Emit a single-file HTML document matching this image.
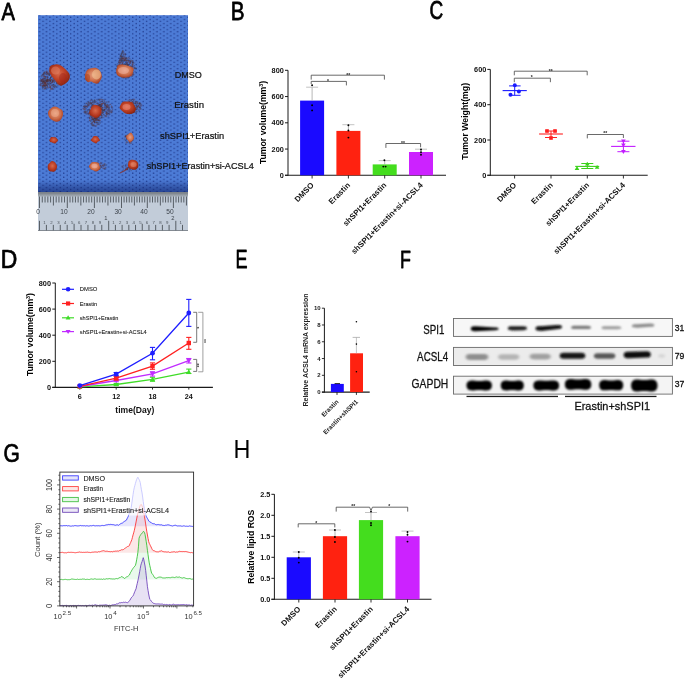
<!DOCTYPE html><html><head><meta charset="utf-8"><style>html,body{margin:0;padding:0;background:#fff;width:685px;height:680px;overflow:hidden}svg{display:block;font-family:"Liberation Sans",sans-serif;will-change:transform}text{font-family:"Liberation Sans",sans-serif}</style></head><body><svg width="685" height="680" viewBox="0 0 685 680" font-family="Liberation Sans, sans-serif"><defs><pattern id="mesh" x="0" y="0" width="6.9" height="4.1" patternUnits="userSpaceOnUse"><circle cx="1.7" cy="1.0" r="0.7" fill="#1c3488" fill-opacity="0.9"/><circle cx="5.15" cy="3.05" r="0.7" fill="#1c3488" fill-opacity="0.9"/></pattern><linearGradient id="photoShade" x1="0" y1="0" x2="0" y2="1"><stop offset="0" stop-color="#0a1a60" stop-opacity="0"/><stop offset="0.93" stop-color="#0a1a60" stop-opacity="0"/><stop offset="0.97" stop-color="#0a1a60" stop-opacity="0.35"/><stop offset="1" stop-color="#0a1a60" stop-opacity="0.55"/></linearGradient><radialGradient id="tumA" cx="0.45" cy="0.42" r="0.6"><stop offset="0" stop-color="#d86a4c"/><stop offset="0.55" stop-color="#bc3e22"/><stop offset="1" stop-color="#8a2412"/></radialGradient><radialGradient id="tumB" cx="0.5" cy="0.45" r="0.6"><stop offset="0" stop-color="#e8a282"/><stop offset="0.6" stop-color="#cc6c48"/><stop offset="1" stop-color="#a0361c"/></radialGradient><radialGradient id="tumC" cx="0.5" cy="0.45" r="0.6"><stop offset="0" stop-color="#d86a4c"/><stop offset="0.6" stop-color="#b83a22"/><stop offset="1" stop-color="#8a2412"/></radialGradient><radialGradient id="smudge" cx="0.5" cy="0.5" r="0.5"><stop offset="0" stop-color="#3e3242" stop-opacity="0.75"/><stop offset="0.6" stop-color="#3e3242" stop-opacity="0.45"/><stop offset="1" stop-color="#3e3242" stop-opacity="0"/></radialGradient><filter id="blur06"><feGaussianBlur stdDeviation="0.6"/></filter><linearGradient id="rulerTop" x1="0" y1="0" x2="0" y2="1"><stop offset="0" stop-color="#6f757c"/><stop offset="0.5" stop-color="#8d949c"/><stop offset="1" stop-color="#a9b1bb"/></linearGradient><filter id="bblur" x="-20%" y="-80%" width="140%" height="260%"><feGaussianBlur stdDeviation="1.1 0.8"/></filter><filter id="bblur2" x="-20%" y="-80%" width="140%" height="260%"><feGaussianBlur stdDeviation="1.6 1.2"/></filter></defs><text transform="translate(1.57,19.82) scale(0.8124,1)" font-size="24.71" font-weight="400" fill="#000" stroke="#000" stroke-width="0.75" stroke-linejoin="round">A</text>
<text transform="translate(230.72,19.73) scale(0.8167,1)" font-size="25.29" font-weight="400" fill="#000" stroke="#000" stroke-width="0.75" stroke-linejoin="round">B</text>
<text transform="translate(429.43,19.23) scale(0.7442,1)" font-size="25.50" font-weight="400" fill="#000" stroke="#000" stroke-width="0.75" stroke-linejoin="round">C</text>
<text transform="translate(0.64,267.62) scale(0.9176,1)" font-size="25.00" font-weight="400" fill="#000" stroke="#000" stroke-width="0.75" stroke-linejoin="round">D</text>
<text transform="translate(235.43,267.82) scale(0.7026,1)" font-size="25.72" font-weight="400" fill="#000" stroke="#000" stroke-width="0.75" stroke-linejoin="round">E</text>
<text transform="translate(399.95,267.52) scale(0.7356,1)" font-size="24.28" font-weight="400" fill="#000" stroke="#000" stroke-width="0.75" stroke-linejoin="round">F</text>
<text transform="translate(3.43,462.02) scale(0.8373,1)" font-size="25.07" font-weight="400" fill="#000" stroke="#000" stroke-width="0.75" stroke-linejoin="round">G</text>
<text transform="translate(233.53,458.00) scale(0.8967,1)" font-size="26.09" font-weight="400" fill="#000" >H</text>
<rect x="38.00" y="15.20" width="150.00" height="176.90" fill="#4c7bd6" />
<rect x="38.00" y="15.20" width="150.00" height="176.90" fill="url(#mesh)" />
<rect x="38.00" y="15.20" width="150.00" height="176.90" fill="url(#photoShade)" />
<g><circle cx="54.2" cy="87.1" r="0.74" fill="#3e3442" fill-opacity="0.38"/><circle cx="51.9" cy="88.7" r="0.75" fill="#5a3038" fill-opacity="0.35"/><circle cx="50.0" cy="80.6" r="0.92" fill="#3e3442" fill-opacity="0.72"/><circle cx="46.6" cy="81.7" r="0.92" fill="#5a3038" fill-opacity="0.58"/><circle cx="47.7" cy="73.8" r="0.80" fill="#6a3a3a" fill-opacity="0.45"/><circle cx="55.6" cy="81.2" r="0.83" fill="#6a3a3a" fill-opacity="0.49"/><circle cx="44.2" cy="72.2" r="0.61" fill="#4a3040" fill-opacity="0.31"/><circle cx="51.5" cy="76.8" r="0.73" fill="#4a3040" fill-opacity="0.59"/><circle cx="44.5" cy="78.1" r="0.61" fill="#6a3a3a" fill-opacity="0.49"/><circle cx="46.5" cy="74.1" r="0.58" fill="#5a3038" fill-opacity="0.44"/><circle cx="52.7" cy="87.8" r="0.60" fill="#4a3040" fill-opacity="0.38"/><circle cx="41.0" cy="81.3" r="0.69" fill="#5a3038" fill-opacity="0.34"/><circle cx="54.4" cy="85.8" r="0.70" fill="#3e3442" fill-opacity="0.42"/><circle cx="44.1" cy="81.9" r="0.70" fill="#6a3a3a" fill-opacity="0.47"/><circle cx="53.0" cy="80.5" r="0.55" fill="#6a3a3a" fill-opacity="0.61"/><circle cx="57.0" cy="83.3" r="0.78" fill="#5a3038" fill-opacity="0.40"/><circle cx="45.9" cy="89.0" r="0.62" fill="#4a3040" fill-opacity="0.30"/><circle cx="52.8" cy="85.2" r="0.69" fill="#3e3442" fill-opacity="0.48"/><circle cx="45.5" cy="76.8" r="0.62" fill="#4a3040" fill-opacity="0.50"/><circle cx="53.7" cy="78.1" r="0.70" fill="#6a3a3a" fill-opacity="0.56"/><circle cx="46.7" cy="72.5" r="0.71" fill="#5a3038" fill-opacity="0.38"/><circle cx="59.8" cy="79.3" r="0.90" fill="#4a3040" fill-opacity="0.31"/><circle cx="43.9" cy="80.3" r="0.92" fill="#5a3038" fill-opacity="0.47"/><circle cx="50.2" cy="87.5" r="0.87" fill="#6a3a3a" fill-opacity="0.41"/><circle cx="51.0" cy="73.1" r="0.57" fill="#3e3442" fill-opacity="0.44"/><circle cx="49.7" cy="85.4" r="0.65" fill="#6a3a3a" fill-opacity="0.51"/><circle cx="42.6" cy="85.7" r="0.94" fill="#5a3038" fill-opacity="0.33"/><circle cx="49.8" cy="73.1" r="0.61" fill="#3e3442" fill-opacity="0.44"/><circle cx="44.4" cy="72.3" r="0.56" fill="#6a3a3a" fill-opacity="0.32"/><circle cx="52.2" cy="88.9" r="0.90" fill="#5a3038" fill-opacity="0.34"/><circle cx="44.8" cy="76.1" r="0.67" fill="#6a3a3a" fill-opacity="0.46"/><circle cx="44.9" cy="78.9" r="0.70" fill="#4a3040" fill-opacity="0.51"/><circle cx="55.9" cy="86.0" r="0.79" fill="#3e3442" fill-opacity="0.37"/><circle cx="44.3" cy="72.7" r="0.65" fill="#6a3a3a" fill-opacity="0.33"/><circle cx="41.9" cy="85.5" r="0.60" fill="#5a3038" fill-opacity="0.31"/><circle cx="52.5" cy="81.7" r="0.81" fill="#4a3040" fill-opacity="0.61"/><circle cx="50.6" cy="77.4" r="0.81" fill="#4a3040" fill-opacity="0.63"/><circle cx="55.1" cy="85.2" r="0.71" fill="#3e3442" fill-opacity="0.42"/><circle cx="56.0" cy="74.9" r="0.62" fill="#5a3038" fill-opacity="0.40"/><circle cx="43.9" cy="85.9" r="0.79" fill="#4a3040" fill-opacity="0.37"/><circle cx="41.4" cy="79.7" r="0.87" fill="#4a3040" fill-opacity="0.36"/><circle cx="56.8" cy="80.3" r="0.71" fill="#4a3040" fill-opacity="0.44"/><circle cx="41.6" cy="76.2" r="0.65" fill="#5a3038" fill-opacity="0.33"/><circle cx="48.2" cy="74.7" r="0.65" fill="#4a3040" fill-opacity="0.50"/><circle cx="54.7" cy="87.1" r="0.88" fill="#3e3442" fill-opacity="0.37"/><circle cx="52.3" cy="73.4" r="0.77" fill="#4a3040" fill-opacity="0.43"/><circle cx="57.2" cy="82.8" r="0.94" fill="#3e3442" fill-opacity="0.40"/><circle cx="46.9" cy="87.8" r="0.58" fill="#5a3038" fill-opacity="0.37"/><circle cx="53.9" cy="70.9" r="0.58" fill="#3e3442" fill-opacity="0.31"/><circle cx="46.5" cy="74.6" r="0.81" fill="#4a3040" fill-opacity="0.46"/><circle cx="43.7" cy="73.6" r="0.75" fill="#6a3a3a" fill-opacity="0.35"/><circle cx="57.8" cy="77.3" r="0.74" fill="#6a3a3a" fill-opacity="0.38"/><circle cx="40.7" cy="79.2" r="0.64" fill="#4a3040" fill-opacity="0.33"/><circle cx="56.3" cy="82.0" r="0.66" fill="#5a3038" fill-opacity="0.45"/><circle cx="44.6" cy="76.6" r="0.73" fill="#6a3a3a" fill-opacity="0.46"/><circle cx="50.5" cy="86.2" r="0.64" fill="#6a3a3a" fill-opacity="0.47"/><circle cx="57.0" cy="75.9" r="0.74" fill="#4a3040" fill-opacity="0.39"/><circle cx="41.5" cy="80.4" r="0.86" fill="#5a3038" fill-opacity="0.37"/><circle cx="43.9" cy="73.8" r="0.65" fill="#3e3442" fill-opacity="0.36"/><circle cx="55.4" cy="76.9" r="0.88" fill="#6a3a3a" fill-opacity="0.47"/><circle cx="59.7" cy="77.8" r="0.61" fill="#4a3040" fill-opacity="0.30"/><circle cx="52.8" cy="88.9" r="0.59" fill="#5a3038" fill-opacity="0.33"/><circle cx="53.3" cy="86.4" r="0.85" fill="#6a3a3a" fill-opacity="0.42"/><circle cx="46.8" cy="80.8" r="0.83" fill="#5a3038" fill-opacity="0.60"/><circle cx="51.6" cy="85.6" r="0.65" fill="#5a3038" fill-opacity="0.49"/><circle cx="55.4" cy="78.3" r="0.93" fill="#3e3442" fill-opacity="0.49"/><circle cx="59.3" cy="78.1" r="0.65" fill="#5a3038" fill-opacity="0.32"/><circle cx="46.8" cy="72.2" r="0.93" fill="#5a3038" fill-opacity="0.37"/><circle cx="43.5" cy="81.4" r="0.82" fill="#3e3442" fill-opacity="0.45"/><circle cx="46.1" cy="73.1" r="0.63" fill="#4a3040" fill-opacity="0.40"/><circle cx="51.8" cy="79.5" r="0.56" fill="#3e3442" fill-opacity="0.67"/><circle cx="48.0" cy="80.0" r="0.83" fill="#6a3a3a" fill-opacity="0.66"/><circle cx="50.1" cy="80.9" r="0.59" fill="#5a3038" fill-opacity="0.71"/><circle cx="47.6" cy="86.3" r="0.70" fill="#4a3040" fill-opacity="0.45"/><circle cx="55.9" cy="86.7" r="0.76" fill="#6a3a3a" fill-opacity="0.35"/><circle cx="54.1" cy="81.3" r="0.90" fill="#6a3a3a" fill-opacity="0.56"/><circle cx="50.3" cy="87.6" r="0.90" fill="#6a3a3a" fill-opacity="0.41"/><circle cx="57.6" cy="80.8" r="0.72" fill="#4a3040" fill-opacity="0.41"/><circle cx="54.9" cy="71.4" r="0.61" fill="#5a3038" fill-opacity="0.30"/><circle cx="42.7" cy="80.1" r="0.74" fill="#6a3a3a" fill-opacity="0.42"/><circle cx="51.8" cy="74.5" r="0.61" fill="#3e3442" fill-opacity="0.49"/><circle cx="48.1" cy="87.8" r="0.91" fill="#4a3040" fill-opacity="0.39"/><circle cx="52.3" cy="81.1" r="0.82" fill="#4a3040" fill-opacity="0.63"/><circle cx="51.9" cy="84.8" r="0.61" fill="#4a3040" fill-opacity="0.52"/><circle cx="45.5" cy="77.3" r="0.61" fill="#6a3a3a" fill-opacity="0.51"/><circle cx="57.7" cy="85.9" r="0.71" fill="#3e3442" fill-opacity="0.32"/><circle cx="46.9" cy="72.1" r="0.58" fill="#6a3a3a" fill-opacity="0.37"/><circle cx="52.2" cy="75.9" r="0.84" fill="#4a3040" fill-opacity="0.54"/><circle cx="43.8" cy="75.1" r="0.56" fill="#5a3038" fill-opacity="0.39"/><circle cx="45.3" cy="85.1" r="0.87" fill="#6a3a3a" fill-opacity="0.44"/><circle cx="56.9" cy="75.4" r="0.82" fill="#5a3038" fill-opacity="0.38"/><circle cx="45.3" cy="73.7" r="0.94" fill="#4a3040" fill-opacity="0.40"/><circle cx="42.5" cy="86.2" r="0.55" fill="#3e3442" fill-opacity="0.31"/><circle cx="45.3" cy="86.3" r="0.85" fill="#4a3040" fill-opacity="0.40"/><circle cx="47.6" cy="76.8" r="0.63" fill="#6a3a3a" fill-opacity="0.57"/><circle cx="57.4" cy="79.9" r="0.85" fill="#6a3a3a" fill-opacity="0.41"/><circle cx="54.5" cy="76.0" r="0.65" fill="#4a3040" fill-opacity="0.48"/><circle cx="45.2" cy="76.5" r="0.78" fill="#3e3442" fill-opacity="0.48"/><circle cx="59.5" cy="79.6" r="0.94" fill="#4a3040" fill-opacity="0.32"/><circle cx="49.5" cy="71.4" r="0.92" fill="#5a3038" fill-opacity="0.36"/><circle cx="40.6" cy="78.6" r="0.60" fill="#3e3442" fill-opacity="0.32"/><circle cx="50.4" cy="86.5" r="0.86" fill="#6a3a3a" fill-opacity="0.46"/><circle cx="50.1" cy="71.9" r="0.62" fill="#3e3442" fill-opacity="0.39"/><circle cx="52.2" cy="75.8" r="0.66" fill="#6a3a3a" fill-opacity="0.54"/><circle cx="43.4" cy="78.4" r="0.87" fill="#4a3040" fill-opacity="0.45"/><circle cx="46.6" cy="85.7" r="0.84" fill="#3e3442" fill-opacity="0.45"/><circle cx="48.8" cy="70.1" r="0.61" fill="#6a3a3a" fill-opacity="0.30"/><circle cx="58.6" cy="81.8" r="0.78" fill="#3e3442" fill-opacity="0.35"/><circle cx="54.4" cy="79.9" r="0.90" fill="#5a3038" fill-opacity="0.55"/><circle cx="41.7" cy="77.1" r="0.56" fill="#4a3040" fill-opacity="0.36"/><circle cx="53.1" cy="78.2" r="0.73" fill="#3e3442" fill-opacity="0.59"/><circle cx="43.9" cy="85.1" r="0.90" fill="#4a3040" fill-opacity="0.39"/><circle cx="50.0" cy="73.9" r="0.84" fill="#3e3442" fill-opacity="0.47"/><circle cx="46.6" cy="80.9" r="0.79" fill="#5a3038" fill-opacity="0.59"/><circle cx="45.4" cy="88.0" r="0.65" fill="#3e3442" fill-opacity="0.34"/><circle cx="55.9" cy="86.3" r="0.59" fill="#3e3442" fill-opacity="0.36"/><circle cx="44.0" cy="74.6" r="0.60" fill="#5a3038" fill-opacity="0.39"/><circle cx="50.9" cy="73.0" r="0.82" fill="#4a3040" fill-opacity="0.43"/><circle cx="45.9" cy="86.9" r="0.55" fill="#3e3442" fill-opacity="0.39"/><circle cx="52.9" cy="75.6" r="0.83" fill="#3e3442" fill-opacity="0.51"/><circle cx="47.0" cy="81.8" r="0.95" fill="#4a3040" fill-opacity="0.59"/><circle cx="50.9" cy="88.3" r="0.75" fill="#6a3a3a" fill-opacity="0.37"/><circle cx="55.9" cy="78.6" r="0.80" fill="#4a3040" fill-opacity="0.47"/><circle cx="46.1" cy="84.4" r="0.80" fill="#6a3a3a" fill-opacity="0.49"/><circle cx="43.1" cy="81.9" r="0.73" fill="#5a3038" fill-opacity="0.43"/><circle cx="51.0" cy="89.2" r="0.89" fill="#6a3a3a" fill-opacity="0.33"/><circle cx="51.5" cy="70.6" r="0.69" fill="#4a3040" fill-opacity="0.32"/><circle cx="50.7" cy="81.0" r="0.68" fill="#3e3442" fill-opacity="0.70"/><circle cx="47.8" cy="84.1" r="0.73" fill="#4a3040" fill-opacity="0.54"/><circle cx="50.3" cy="81.0" r="0.89" fill="#5a3038" fill-opacity="0.70"/><circle cx="50.6" cy="83.3" r="0.80" fill="#4a3040" fill-opacity="0.60"/><circle cx="52.5" cy="82.4" r="0.77" fill="#5a3038" fill-opacity="0.59"/><circle cx="54.2" cy="82.5" r="0.65" fill="#4a3040" fill-opacity="0.53"/><circle cx="41.9" cy="83.7" r="0.71" fill="#4a3040" fill-opacity="0.35"/><circle cx="58.7" cy="77.7" r="0.90" fill="#3e3442" fill-opacity="0.35"/><circle cx="43.4" cy="83.8" r="0.91" fill="#4a3040" fill-opacity="0.41"/><circle cx="51.0" cy="72.5" r="0.57" fill="#5a3038" fill-opacity="0.41"/><circle cx="44.4" cy="73.2" r="0.86" fill="#3e3442" fill-opacity="0.35"/><circle cx="48.6" cy="72.8" r="0.67" fill="#5a3038" fill-opacity="0.42"/><circle cx="45.2" cy="85.1" r="0.71" fill="#3e3442" fill-opacity="0.43"/><circle cx="50.7" cy="77.8" r="0.78" fill="#3e3442" fill-opacity="0.65"/><circle cx="41.0" cy="80.8" r="0.85" fill="#5a3038" fill-opacity="0.34"/><circle cx="53.3" cy="84.5" r="0.66" fill="#4a3040" fill-opacity="0.50"/><circle cx="45.8" cy="71.5" r="0.70" fill="#4a3040" fill-opacity="0.32"/><circle cx="54.3" cy="75.1" r="0.80" fill="#4a3040" fill-opacity="0.46"/><circle cx="42.6" cy="81.2" r="0.84" fill="#3e3442" fill-opacity="0.41"/><circle cx="57.6" cy="82.3" r="0.72" fill="#3e3442" fill-opacity="0.39"/><circle cx="50.2" cy="78.6" r="0.62" fill="#5a3038" fill-opacity="0.69"/><circle cx="50.8" cy="84.0" r="0.56" fill="#3e3442" fill-opacity="0.57"/><circle cx="51.4" cy="70.9" r="0.65" fill="#6a3a3a" fill-opacity="0.34"/><circle cx="44.4" cy="87.3" r="0.66" fill="#5a3038" fill-opacity="0.34"/><circle cx="42.4" cy="74.9" r="0.74" fill="#3e3442" fill-opacity="0.34"/><circle cx="45.5" cy="88.3" r="0.67" fill="#5a3038" fill-opacity="0.33"/><circle cx="50.0" cy="71.7" r="0.90" fill="#4a3040" fill-opacity="0.37"/><circle cx="50.2" cy="90.0" r="0.77" fill="#3e3442" fill-opacity="0.30"/><circle cx="53.8" cy="72.0" r="0.56" fill="#6a3a3a" fill-opacity="0.35"/><circle cx="41.6" cy="75.5" r="0.87" fill="#5a3038" fill-opacity="0.32"/><circle cx="43.4" cy="74.4" r="0.90" fill="#4a3040" fill-opacity="0.36"/><circle cx="57.1" cy="74.4" r="0.75" fill="#5a3038" fill-opacity="0.34"/><circle cx="47.9" cy="73.2" r="0.81" fill="#5a3038" fill-opacity="0.43"/><circle cx="42.6" cy="83.4" r="0.86" fill="#3e3442" fill-opacity="0.38"/><circle cx="47.8" cy="79.7" r="0.85" fill="#4a3040" fill-opacity="0.65"/><circle cx="51.7" cy="82.9" r="0.57" fill="#6a3a3a" fill-opacity="0.60"/><circle cx="47.8" cy="77.5" r="0.81" fill="#3e3442" fill-opacity="0.60"/><circle cx="53.7" cy="76.1" r="0.93" fill="#6a3a3a" fill-opacity="0.51"/><circle cx="45.0" cy="78.2" r="0.83" fill="#4a3040" fill-opacity="0.51"/><circle cx="55.0" cy="71.5" r="0.74" fill="#3e3442" fill-opacity="0.30"/><circle cx="57.8" cy="74.8" r="0.89" fill="#3e3442" fill-opacity="0.33"/><circle cx="53.9" cy="84.4" r="0.63" fill="#3e3442" fill-opacity="0.49"/><circle cx="51.6" cy="82.6" r="0.55" fill="#5a3038" fill-opacity="0.61"/><circle cx="47.8" cy="83.4" r="0.83" fill="#3e3442" fill-opacity="0.57"/><circle cx="47.9" cy="79.9" r="0.62" fill="#4a3040" fill-opacity="0.66"/><circle cx="43.3" cy="76.7" r="0.89" fill="#5a3038" fill-opacity="0.42"/><circle cx="47.0" cy="77.2" r="0.59" fill="#5a3038" fill-opacity="0.57"/><circle cx="55.0" cy="77.6" r="0.68" fill="#3e3442" fill-opacity="0.50"/><circle cx="49.1" cy="73.9" r="0.85" fill="#3e3442" fill-opacity="0.47"/><circle cx="49.4" cy="75.1" r="0.64" fill="#3e3442" fill-opacity="0.53"/><circle cx="53.8" cy="72.1" r="0.95" fill="#5a3038" fill-opacity="0.36"/><circle cx="58.5" cy="84.9" r="0.73" fill="#6a3a3a" fill-opacity="0.31"/><circle cx="46.9" cy="71.7" r="0.84" fill="#5a3038" fill-opacity="0.35"/><circle cx="47.9" cy="80.8" r="0.91" fill="#6a3a3a" fill-opacity="0.65"/><circle cx="57.3" cy="84.3" r="0.91" fill="#6a3a3a" fill-opacity="0.37"/><circle cx="58.2" cy="76.3" r="0.80" fill="#4a3040" fill-opacity="0.34"/><circle cx="58.7" cy="80.5" r="0.76" fill="#3e3442" fill-opacity="0.36"/><circle cx="49.9" cy="79.6" r="0.90" fill="#4a3040" fill-opacity="0.73"/><circle cx="59.8" cy="79.2" r="0.78" fill="#4a3040" fill-opacity="0.31"/><circle cx="44.9" cy="85.9" r="0.87" fill="#6a3a3a" fill-opacity="0.40"/><circle cx="44.9" cy="80.4" r="0.81" fill="#3e3442" fill-opacity="0.52"/><circle cx="55.4" cy="79.0" r="0.61" fill="#5a3038" fill-opacity="0.50"/><circle cx="45.3" cy="83.0" r="0.86" fill="#3e3442" fill-opacity="0.50"/><circle cx="43.3" cy="85.4" r="0.76" fill="#3e3442" fill-opacity="0.36"/><circle cx="52.7" cy="80.9" r="0.91" fill="#5a3038" fill-opacity="0.62"/><circle cx="43.3" cy="81.7" r="0.81" fill="#5a3038" fill-opacity="0.44"/><circle cx="41.3" cy="81.5" r="0.68" fill="#3e3442" fill-opacity="0.35"/><circle cx="44.1" cy="76.3" r="0.85" fill="#6a3a3a" fill-opacity="0.44"/><circle cx="43.5" cy="72.9" r="0.63" fill="#3e3442" fill-opacity="0.32"/><circle cx="53.1" cy="86.6" r="0.59" fill="#5a3038" fill-opacity="0.42"/><circle cx="49.1" cy="74.9" r="0.72" fill="#6a3a3a" fill-opacity="0.52"/><circle cx="45.1" cy="78.9" r="0.58" fill="#3e3442" fill-opacity="0.53"/><circle cx="42.9" cy="74.5" r="0.89" fill="#4a3040" fill-opacity="0.35"/><circle cx="47.7" cy="79.0" r="0.83" fill="#5a3038" fill-opacity="0.64"/><circle cx="42.6" cy="79.5" r="0.81" fill="#5a3038" fill-opacity="0.41"/><circle cx="46.8" cy="70.5" r="0.65" fill="#6a3a3a" fill-opacity="0.30"/><circle cx="47.7" cy="73.9" r="0.83" fill="#4a3040" fill-opacity="0.45"/><circle cx="56.3" cy="78.7" r="0.92" fill="#3e3442" fill-opacity="0.46"/><circle cx="43.6" cy="73.3" r="0.66" fill="#6a3a3a" fill-opacity="0.33"/><circle cx="49.5" cy="75.2" r="0.65" fill="#3e3442" fill-opacity="0.53"/><circle cx="57.1" cy="78.2" r="0.66" fill="#4a3040" fill-opacity="0.42"/><circle cx="55.0" cy="88.0" r="0.59" fill="#5a3038" fill-opacity="0.32"/><circle cx="44.7" cy="72.1" r="0.86" fill="#5a3038" fill-opacity="0.32"/><circle cx="53.6" cy="86.8" r="0.56" fill="#4a3040" fill-opacity="0.40"/><circle cx="57.8" cy="82.6" r="0.62" fill="#5a3038" fill-opacity="0.38"/><circle cx="42.8" cy="85.5" r="0.86" fill="#6a3a3a" fill-opacity="0.34"/><circle cx="53.8" cy="79.6" r="0.81" fill="#6a3a3a" fill-opacity="0.58"/><circle cx="44.0" cy="82.0" r="0.69" fill="#6a3a3a" fill-opacity="0.46"/><circle cx="47.9" cy="76.0" r="0.59" fill="#5a3038" fill-opacity="0.55"/><circle cx="52.0" cy="79.8" r="0.87" fill="#6a3a3a" fill-opacity="0.66"/><circle cx="46.7" cy="85.4" r="0.66" fill="#6a3a3a" fill-opacity="0.46"/><circle cx="53.6" cy="71.1" r="0.85" fill="#4a3040" fill-opacity="0.32"/><circle cx="57.2" cy="78.9" r="0.61" fill="#3e3442" fill-opacity="0.42"/><circle cx="47.0" cy="79.7" r="0.73" fill="#4a3040" fill-opacity="0.62"/><circle cx="44.3" cy="83.5" r="0.85" fill="#6a3a3a" fill-opacity="0.45"/><circle cx="56.7" cy="74.0" r="0.65" fill="#6a3a3a" fill-opacity="0.35"/><circle cx="57.4" cy="75.2" r="0.65" fill="#3e3442" fill-opacity="0.35"/><circle cx="44.7" cy="88.5" r="0.64" fill="#6a3a3a" fill-opacity="0.41"/><circle cx="49.0" cy="82.1" r="0.70" fill="#6a3a3a" fill-opacity="0.36"/><circle cx="42.3" cy="88.9" r="0.68" fill="#5a3038" fill-opacity="0.31"/><circle cx="46.4" cy="81.3" r="0.82" fill="#3e3442" fill-opacity="0.51"/><circle cx="48.9" cy="84.8" r="0.58" fill="#3e3442" fill-opacity="0.39"/><circle cx="47.6" cy="86.8" r="0.68" fill="#6a3a3a" fill-opacity="0.43"/><circle cx="46.8" cy="80.8" r="0.64" fill="#6a3a3a" fill-opacity="0.46"/><circle cx="44.7" cy="89.3" r="0.62" fill="#5a3038" fill-opacity="0.35"/><circle cx="45.0" cy="82.3" r="0.80" fill="#3e3442" fill-opacity="0.62"/><circle cx="40.2" cy="82.9" r="0.75" fill="#6a3a3a" fill-opacity="0.31"/><circle cx="48.6" cy="81.0" r="0.58" fill="#5a3038" fill-opacity="0.36"/><circle cx="41.4" cy="80.1" r="0.63" fill="#6a3a3a" fill-opacity="0.31"/><circle cx="45.7" cy="81.3" r="0.56" fill="#5a3038" fill-opacity="0.53"/><circle cx="43.7" cy="81.8" r="0.79" fill="#3e3442" fill-opacity="0.55"/><circle cx="41.5" cy="81.0" r="0.92" fill="#4a3040" fill-opacity="0.36"/><circle cx="44.7" cy="85.8" r="0.90" fill="#3e3442" fill-opacity="0.61"/><circle cx="45.1" cy="82.9" r="0.92" fill="#5a3038" fill-opacity="0.66"/><circle cx="46.0" cy="80.3" r="0.70" fill="#4a3040" fill-opacity="0.46"/><circle cx="41.0" cy="84.7" r="0.56" fill="#4a3040" fill-opacity="0.39"/><circle cx="45.7" cy="83.3" r="0.77" fill="#6a3a3a" fill-opacity="0.67"/><circle cx="42.6" cy="82.2" r="0.83" fill="#6a3a3a" fill-opacity="0.50"/><circle cx="48.2" cy="81.6" r="0.88" fill="#3e3442" fill-opacity="0.41"/><circle cx="44.0" cy="81.2" r="0.67" fill="#3e3442" fill-opacity="0.52"/><circle cx="44.7" cy="81.9" r="0.78" fill="#5a3038" fill-opacity="0.59"/><circle cx="46.7" cy="80.2" r="0.71" fill="#5a3038" fill-opacity="0.43"/><circle cx="40.6" cy="83.2" r="0.65" fill="#4a3040" fill-opacity="0.35"/><circle cx="43.5" cy="79.0" r="0.70" fill="#3e3442" fill-opacity="0.35"/><circle cx="40.3" cy="84.9" r="0.74" fill="#4a3040" fill-opacity="0.32"/><circle cx="41.9" cy="79.9" r="0.76" fill="#5a3038" fill-opacity="0.33"/><circle cx="44.9" cy="84.1" r="0.83" fill="#6a3a3a" fill-opacity="0.74"/><circle cx="42.9" cy="81.2" r="0.55" fill="#5a3038" fill-opacity="0.47"/><circle cx="49.9" cy="84.6" r="0.61" fill="#4a3040" fill-opacity="0.30"/><circle cx="44.9" cy="85.2" r="0.74" fill="#5a3038" fill-opacity="0.66"/><circle cx="42.1" cy="79.8" r="0.93" fill="#5a3038" fill-opacity="0.34"/><circle cx="46.7" cy="81.3" r="0.60" fill="#5a3038" fill-opacity="0.50"/><circle cx="43.1" cy="87.2" r="0.67" fill="#3e3442" fill-opacity="0.46"/><circle cx="43.3" cy="85.8" r="0.90" fill="#5a3038" fill-opacity="0.55"/><circle cx="48.2" cy="79.9" r="0.90" fill="#4a3040" fill-opacity="0.33"/><circle cx="44.6" cy="88.3" r="0.64" fill="#6a3a3a" fill-opacity="0.42"/><circle cx="42.6" cy="82.0" r="0.85" fill="#4a3040" fill-opacity="0.49"/><circle cx="45.9" cy="84.3" r="0.61" fill="#6a3a3a" fill-opacity="0.66"/><circle cx="43.4" cy="80.4" r="0.88" fill="#5a3038" fill-opacity="0.45"/><circle cx="41.7" cy="83.5" r="0.61" fill="#5a3038" fill-opacity="0.45"/><circle cx="47.5" cy="80.9" r="0.69" fill="#4a3040" fill-opacity="0.43"/><circle cx="47.7" cy="87.1" r="0.68" fill="#6a3a3a" fill-opacity="0.41"/><circle cx="43.4" cy="84.9" r="0.65" fill="#4a3040" fill-opacity="0.59"/><circle cx="43.5" cy="89.1" r="0.58" fill="#5a3038" fill-opacity="0.34"/><circle cx="42.8" cy="88.4" r="0.73" fill="#3e3442" fill-opacity="0.37"/><circle cx="49.6" cy="83.4" r="0.83" fill="#3e3442" fill-opacity="0.33"/><circle cx="40.5" cy="84.5" r="0.94" fill="#5a3038" fill-opacity="0.34"/><circle cx="46.6" cy="79.3" r="0.89" fill="#6a3a3a" fill-opacity="0.37"/><circle cx="46.8" cy="85.2" r="0.90" fill="#3e3442" fill-opacity="0.56"/><circle cx="46.5" cy="79.1" r="0.77" fill="#3e3442" fill-opacity="0.36"/><circle cx="48.4" cy="83.9" r="0.58" fill="#3e3442" fill-opacity="0.44"/><circle cx="42.3" cy="87.1" r="0.76" fill="#5a3038" fill-opacity="0.41"/><circle cx="45.8" cy="80.4" r="0.79" fill="#3e3442" fill-opacity="0.47"/><circle cx="49.0" cy="84.6" r="0.71" fill="#4a3040" fill-opacity="0.39"/><circle cx="40.8" cy="85.8" r="0.82" fill="#5a3038" fill-opacity="0.35"/><circle cx="44.9" cy="83.0" r="0.83" fill="#5a3038" fill-opacity="0.67"/><circle cx="46.2" cy="83.3" r="0.61" fill="#6a3a3a" fill-opacity="0.63"/><circle cx="46.0" cy="87.8" r="0.86" fill="#4a3040" fill-opacity="0.45"/><circle cx="123.2" cy="61.7" r="0.60" fill="#4a3040" fill-opacity="0.46"/><circle cx="122.3" cy="58.4" r="0.61" fill="#5a3038" fill-opacity="0.32"/><circle cx="125.7" cy="67.6" r="0.78" fill="#4a3040" fill-opacity="0.73"/><circle cx="122.4" cy="62.9" r="0.67" fill="#5a3038" fill-opacity="0.49"/><circle cx="120.4" cy="61.9" r="0.67" fill="#4a3040" fill-opacity="0.39"/><circle cx="118.8" cy="72.9" r="0.84" fill="#4a3040" fill-opacity="0.37"/><circle cx="125.5" cy="76.2" r="0.72" fill="#6a3a3a" fill-opacity="0.41"/><circle cx="127.9" cy="67.2" r="0.94" fill="#5a3038" fill-opacity="0.66"/><circle cx="132.5" cy="75.6" r="0.89" fill="#6a3a3a" fill-opacity="0.32"/><circle cx="123.9" cy="77.0" r="0.70" fill="#3e3442" fill-opacity="0.37"/><circle cx="119.5" cy="60.3" r="0.67" fill="#4a3040" fill-opacity="0.32"/><circle cx="117.3" cy="69.2" r="0.89" fill="#4a3040" fill-opacity="0.36"/><circle cx="119.8" cy="75.5" r="0.69" fill="#5a3038" fill-opacity="0.34"/><circle cx="127.3" cy="67.7" r="0.87" fill="#5a3038" fill-opacity="0.69"/><circle cx="122.2" cy="74.0" r="0.61" fill="#4a3040" fill-opacity="0.45"/><circle cx="129.5" cy="69.5" r="0.60" fill="#5a3038" fill-opacity="0.58"/><circle cx="132.7" cy="63.7" r="0.75" fill="#6a3a3a" fill-opacity="0.40"/><circle cx="125.6" cy="76.3" r="0.61" fill="#5a3038" fill-opacity="0.41"/><circle cx="131.9" cy="67.0" r="0.58" fill="#6a3a3a" fill-opacity="0.48"/><circle cx="128.0" cy="59.4" r="0.64" fill="#4a3040" fill-opacity="0.39"/><circle cx="126.9" cy="75.7" r="0.62" fill="#3e3442" fill-opacity="0.43"/><circle cx="124.0" cy="77.9" r="0.72" fill="#5a3038" fill-opacity="0.34"/><circle cx="126.7" cy="60.8" r="0.56" fill="#6a3a3a" fill-opacity="0.45"/><circle cx="132.1" cy="60.8" r="0.63" fill="#3e3442" fill-opacity="0.35"/><circle cx="120.6" cy="62.6" r="0.90" fill="#5a3038" fill-opacity="0.42"/><circle cx="128.8" cy="57.5" r="0.58" fill="#5a3038" fill-opacity="0.30"/><circle cx="128.0" cy="61.0" r="0.60" fill="#6a3a3a" fill-opacity="0.45"/><circle cx="117.6" cy="64.0" r="0.80" fill="#3e3442" fill-opacity="0.34"/><circle cx="125.5" cy="72.8" r="0.58" fill="#4a3040" fill-opacity="0.55"/><circle cx="136.0" cy="68.2" r="0.93" fill="#3e3442" fill-opacity="0.30"/><circle cx="133.4" cy="62.9" r="0.76" fill="#3e3442" fill-opacity="0.36"/><circle cx="118.7" cy="61.1" r="0.89" fill="#4a3040" fill-opacity="0.32"/><circle cx="123.0" cy="78.2" r="0.55" fill="#6a3a3a" fill-opacity="0.31"/><circle cx="124.7" cy="59.4" r="0.92" fill="#6a3a3a" fill-opacity="0.39"/><circle cx="129.6" cy="67.5" r="0.95" fill="#4a3040" fill-opacity="0.59"/><circle cx="132.4" cy="64.4" r="0.87" fill="#6a3a3a" fill-opacity="0.43"/><circle cx="129.0" cy="77.3" r="0.63" fill="#3e3442" fill-opacity="0.35"/><circle cx="133.4" cy="62.3" r="0.61" fill="#5a3038" fill-opacity="0.34"/><circle cx="123.3" cy="77.4" r="0.78" fill="#5a3038" fill-opacity="0.35"/><circle cx="130.4" cy="62.0" r="0.85" fill="#4a3040" fill-opacity="0.44"/><circle cx="129.6" cy="71.8" r="0.73" fill="#4a3040" fill-opacity="0.53"/><circle cx="122.2" cy="73.1" r="0.92" fill="#5a3038" fill-opacity="0.48"/><circle cx="118.4" cy="63.1" r="0.62" fill="#6a3a3a" fill-opacity="0.35"/><circle cx="120.8" cy="74.1" r="0.80" fill="#6a3a3a" fill-opacity="0.41"/><circle cx="116.6" cy="66.1" r="0.81" fill="#4a3040" fill-opacity="0.32"/><circle cx="131.3" cy="67.3" r="0.67" fill="#3e3442" fill-opacity="0.51"/><circle cx="119.1" cy="62.4" r="0.83" fill="#5a3038" fill-opacity="0.36"/><circle cx="128.5" cy="60.4" r="0.82" fill="#3e3442" fill-opacity="0.42"/><circle cx="126.0" cy="67.8" r="0.79" fill="#4a3040" fill-opacity="0.74"/><circle cx="122.4" cy="58.4" r="0.74" fill="#6a3a3a" fill-opacity="0.33"/><circle cx="131.8" cy="72.7" r="0.94" fill="#4a3040" fill-opacity="0.42"/><circle cx="121.7" cy="77.4" r="0.74" fill="#6a3a3a" fill-opacity="0.32"/><circle cx="125.0" cy="73.1" r="0.64" fill="#4a3040" fill-opacity="0.54"/><circle cx="135.0" cy="68.6" r="0.56" fill="#4a3040" fill-opacity="0.34"/><circle cx="124.6" cy="60.7" r="0.92" fill="#3e3442" fill-opacity="0.45"/><circle cx="120.8" cy="72.2" r="0.82" fill="#6a3a3a" fill-opacity="0.46"/><circle cx="127.7" cy="64.2" r="0.78" fill="#4a3040" fill-opacity="0.58"/><circle cx="118.5" cy="66.3" r="0.80" fill="#4a3040" fill-opacity="0.40"/><circle cx="121.1" cy="68.1" r="0.56" fill="#4a3040" fill-opacity="0.53"/><circle cx="130.3" cy="70.3" r="0.71" fill="#6a3a3a" fill-opacity="0.54"/><circle cx="130.6" cy="66.1" r="0.87" fill="#6a3a3a" fill-opacity="0.53"/><circle cx="127.0" cy="63.8" r="0.73" fill="#4a3040" fill-opacity="0.57"/><circle cx="122.6" cy="64.3" r="0.94" fill="#5a3038" fill-opacity="0.53"/><circle cx="133.9" cy="74.5" r="0.59" fill="#6a3a3a" fill-opacity="0.31"/><circle cx="124.2" cy="66.6" r="0.55" fill="#6a3a3a" fill-opacity="0.65"/><circle cx="126.2" cy="58.3" r="0.64" fill="#4a3040" fill-opacity="0.35"/><circle cx="126.0" cy="57.5" r="0.67" fill="#3e3442" fill-opacity="0.32"/><circle cx="125.8" cy="60.5" r="0.92" fill="#5a3038" fill-opacity="0.44"/><circle cx="134.9" cy="68.4" r="0.75" fill="#3e3442" fill-opacity="0.35"/><circle cx="124.2" cy="60.7" r="0.82" fill="#5a3038" fill-opacity="0.44"/><circle cx="121.5" cy="61.0" r="0.92" fill="#3e3442" fill-opacity="0.40"/><circle cx="132.4" cy="62.5" r="0.66" fill="#3e3442" fill-opacity="0.38"/><circle cx="118.2" cy="69.5" r="0.90" fill="#6a3a3a" fill-opacity="0.39"/><circle cx="132.8" cy="62.0" r="0.79" fill="#5a3038" fill-opacity="0.36"/><circle cx="117.2" cy="65.7" r="0.61" fill="#3e3442" fill-opacity="0.34"/><circle cx="123.3" cy="77.3" r="0.59" fill="#4a3040" fill-opacity="0.35"/><circle cx="120.2" cy="65.5" r="0.80" fill="#5a3038" fill-opacity="0.47"/><circle cx="119.9" cy="68.2" r="0.62" fill="#4a3040" fill-opacity="0.47"/><circle cx="128.4" cy="74.2" r="0.62" fill="#6a3a3a" fill-opacity="0.47"/><circle cx="132.8" cy="66.9" r="0.88" fill="#6a3a3a" fill-opacity="0.44"/><circle cx="128.9" cy="61.7" r="0.57" fill="#6a3a3a" fill-opacity="0.46"/><circle cx="131.2" cy="73.6" r="0.90" fill="#4a3040" fill-opacity="0.42"/><circle cx="132.7" cy="61.2" r="0.93" fill="#3e3442" fill-opacity="0.34"/><circle cx="126.8" cy="62.7" r="0.88" fill="#4a3040" fill-opacity="0.53"/><circle cx="130.1" cy="69.6" r="0.58" fill="#3e3442" fill-opacity="0.55"/><circle cx="125.9" cy="73.7" r="0.58" fill="#3e3442" fill-opacity="0.52"/><circle cx="116.3" cy="70.2" r="0.77" fill="#5a3038" fill-opacity="0.31"/><circle cx="125.1" cy="72.6" r="0.57" fill="#3e3442" fill-opacity="0.56"/><circle cx="131.2" cy="74.7" r="0.92" fill="#6a3a3a" fill-opacity="0.39"/><circle cx="132.5" cy="76.3" r="0.58" fill="#3e3442" fill-opacity="0.30"/><circle cx="135.1" cy="71.7" r="0.83" fill="#4a3040" fill-opacity="0.31"/><circle cx="129.9" cy="67.5" r="0.80" fill="#6a3a3a" fill-opacity="0.57"/><circle cx="121.5" cy="59.8" r="0.76" fill="#3e3442" fill-opacity="0.36"/><circle cx="135.0" cy="67.7" r="0.56" fill="#3e3442" fill-opacity="0.34"/><circle cx="132.6" cy="70.8" r="0.57" fill="#4a3040" fill-opacity="0.43"/><circle cx="119.7" cy="70.9" r="0.72" fill="#5a3038" fill-opacity="0.44"/><circle cx="126.4" cy="63.7" r="0.62" fill="#6a3a3a" fill-opacity="0.57"/><circle cx="117.4" cy="66.4" r="0.75" fill="#3e3442" fill-opacity="0.36"/><circle cx="116.7" cy="70.3" r="0.61" fill="#4a3040" fill-opacity="0.32"/><circle cx="121.1" cy="62.7" r="0.82" fill="#6a3a3a" fill-opacity="0.44"/><circle cx="127.8" cy="69.6" r="0.64" fill="#4a3040" fill-opacity="0.65"/><circle cx="132.6" cy="72.6" r="0.85" fill="#5a3038" fill-opacity="0.40"/><circle cx="120.2" cy="60.1" r="0.86" fill="#3e3442" fill-opacity="0.33"/><circle cx="123.9" cy="70.2" r="0.60" fill="#4a3040" fill-opacity="0.62"/><circle cx="129.7" cy="63.0" r="0.94" fill="#5a3038" fill-opacity="0.49"/><circle cx="131.5" cy="66.4" r="0.92" fill="#4a3040" fill-opacity="0.49"/><circle cx="120.1" cy="60.5" r="0.89" fill="#4a3040" fill-opacity="0.34"/><circle cx="131.4" cy="76.5" r="0.70" fill="#4a3040" fill-opacity="0.32"/><circle cx="119.5" cy="62.5" r="0.93" fill="#4a3040" fill-opacity="0.38"/><circle cx="117.7" cy="72.7" r="0.56" fill="#3e3442" fill-opacity="0.33"/><circle cx="125.8" cy="69.9" r="0.92" fill="#5a3038" fill-opacity="0.67"/><circle cx="127.6" cy="64.8" r="0.62" fill="#5a3038" fill-opacity="0.60"/><circle cx="118.4" cy="73.0" r="0.92" fill="#6a3a3a" fill-opacity="0.35"/><circle cx="122.8" cy="72.2" r="0.73" fill="#6a3a3a" fill-opacity="0.53"/><circle cx="123.3" cy="70.7" r="0.80" fill="#6a3a3a" fill-opacity="0.59"/><circle cx="131.1" cy="74.4" r="0.69" fill="#4a3040" fill-opacity="0.40"/><circle cx="117.3" cy="69.5" r="0.79" fill="#6a3a3a" fill-opacity="0.35"/><circle cx="123.4" cy="72.3" r="0.58" fill="#5a3038" fill-opacity="0.54"/><circle cx="126.7" cy="77.7" r="0.81" fill="#6a3a3a" fill-opacity="0.35"/><circle cx="127.5" cy="77.6" r="0.64" fill="#5a3038" fill-opacity="0.35"/><circle cx="125.6" cy="58.5" r="0.56" fill="#4a3040" fill-opacity="0.36"/><circle cx="128.6" cy="77.3" r="0.61" fill="#5a3038" fill-opacity="0.35"/><circle cx="128.3" cy="77.8" r="0.90" fill="#5a3038" fill-opacity="0.34"/><circle cx="118.5" cy="74.2" r="0.77" fill="#5a3038" fill-opacity="0.33"/><circle cx="130.6" cy="71.8" r="0.66" fill="#6a3a3a" fill-opacity="0.49"/><circle cx="122.2" cy="65.3" r="0.79" fill="#5a3038" fill-opacity="0.55"/><circle cx="132.9" cy="74.3" r="0.62" fill="#3e3442" fill-opacity="0.35"/><circle cx="126.4" cy="61.0" r="0.80" fill="#4a3040" fill-opacity="0.46"/><circle cx="130.7" cy="61.9" r="0.77" fill="#5a3038" fill-opacity="0.42"/><circle cx="126.0" cy="77.4" r="0.73" fill="#6a3a3a" fill-opacity="0.37"/><circle cx="130.5" cy="61.3" r="0.92" fill="#4a3040" fill-opacity="0.41"/><circle cx="120.3" cy="67.0" r="0.83" fill="#6a3a3a" fill-opacity="0.49"/><circle cx="131.0" cy="61.7" r="0.65" fill="#4a3040" fill-opacity="0.41"/><circle cx="126.3" cy="58.5" r="0.93" fill="#3e3442" fill-opacity="0.36"/><circle cx="128.3" cy="60.8" r="0.78" fill="#4a3040" fill-opacity="0.44"/><circle cx="128.5" cy="66.4" r="0.86" fill="#6a3a3a" fill-opacity="0.62"/><circle cx="119.6" cy="66.1" r="0.71" fill="#3e3442" fill-opacity="0.45"/><circle cx="131.3" cy="70.1" r="0.60" fill="#5a3038" fill-opacity="0.50"/><circle cx="134.5" cy="67.5" r="0.85" fill="#6a3a3a" fill-opacity="0.37"/><circle cx="128.4" cy="57.9" r="0.87" fill="#6a3a3a" fill-opacity="0.32"/><circle cx="123.9" cy="68.0" r="0.55" fill="#5a3038" fill-opacity="0.65"/><circle cx="126.2" cy="72.8" r="0.75" fill="#3e3442" fill-opacity="0.55"/><circle cx="125.0" cy="72.4" r="0.95" fill="#6a3a3a" fill-opacity="0.57"/><circle cx="124.9" cy="64.1" r="0.87" fill="#3e3442" fill-opacity="0.58"/><circle cx="118.3" cy="65.9" r="0.76" fill="#6a3a3a" fill-opacity="0.39"/><circle cx="128.5" cy="64.7" r="0.78" fill="#3e3442" fill-opacity="0.58"/><circle cx="128.9" cy="76.1" r="0.68" fill="#6a3a3a" fill-opacity="0.39"/><circle cx="125.0" cy="65.5" r="0.93" fill="#3e3442" fill-opacity="0.64"/><circle cx="123.4" cy="75.1" r="0.66" fill="#6a3a3a" fill-opacity="0.44"/><circle cx="124.8" cy="77.2" r="0.60" fill="#6a3a3a" fill-opacity="0.37"/><circle cx="129.0" cy="75.4" r="0.63" fill="#5a3038" fill-opacity="0.42"/><circle cx="127.0" cy="70.6" r="0.80" fill="#3e3442" fill-opacity="0.64"/><circle cx="127.9" cy="65.9" r="0.93" fill="#6a3a3a" fill-opacity="0.63"/><circle cx="132.6" cy="64.7" r="0.92" fill="#5a3038" fill-opacity="0.42"/><circle cx="122.9" cy="67.9" r="0.62" fill="#3e3442" fill-opacity="0.61"/><circle cx="123.8" cy="74.6" r="0.65" fill="#5a3038" fill-opacity="0.46"/><circle cx="125.2" cy="64.3" r="0.77" fill="#5a3038" fill-opacity="0.59"/><circle cx="125.6" cy="59.7" r="0.92" fill="#5a3038" fill-opacity="0.41"/><circle cx="120.0" cy="67.2" r="0.84" fill="#5a3038" fill-opacity="0.48"/><circle cx="126.7" cy="57.9" r="0.56" fill="#3e3442" fill-opacity="0.33"/><circle cx="121.6" cy="71.9" r="0.83" fill="#4a3040" fill-opacity="0.49"/><circle cx="124.4" cy="71.7" r="0.79" fill="#6a3a3a" fill-opacity="0.58"/><circle cx="127.2" cy="76.7" r="0.70" fill="#3e3442" fill-opacity="0.39"/><circle cx="124.0" cy="71.6" r="0.59" fill="#6a3a3a" fill-opacity="0.58"/><circle cx="128.9" cy="67.7" r="0.71" fill="#4a3040" fill-opacity="0.62"/><circle cx="126.9" cy="58.4" r="0.80" fill="#6a3a3a" fill-opacity="0.36"/><circle cx="134.6" cy="68.0" r="0.78" fill="#3e3442" fill-opacity="0.36"/><circle cx="118.0" cy="66.6" r="0.93" fill="#4a3040" fill-opacity="0.39"/><circle cx="120.7" cy="75.7" r="0.68" fill="#3e3442" fill-opacity="0.36"/><circle cx="128.1" cy="68.1" r="0.66" fill="#3e3442" fill-opacity="0.66"/><circle cx="130.9" cy="70.6" r="0.75" fill="#5a3038" fill-opacity="0.51"/><circle cx="129.9" cy="58.7" r="0.76" fill="#4a3040" fill-opacity="0.33"/><circle cx="122.0" cy="64.9" r="0.89" fill="#6a3a3a" fill-opacity="0.53"/><circle cx="127.7" cy="62.6" r="0.63" fill="#4a3040" fill-opacity="0.52"/><circle cx="116.6" cy="69.4" r="0.66" fill="#5a3038" fill-opacity="0.32"/><circle cx="122.5" cy="72.4" r="0.70" fill="#3e3442" fill-opacity="0.51"/><circle cx="124.7" cy="77.4" r="0.76" fill="#5a3038" fill-opacity="0.36"/><circle cx="124.3" cy="76.9" r="0.71" fill="#6a3a3a" fill-opacity="0.38"/><circle cx="134.3" cy="65.8" r="0.69" fill="#4a3040" fill-opacity="0.37"/><circle cx="127.4" cy="60.6" r="0.92" fill="#6a3a3a" fill-opacity="0.44"/><circle cx="131.4" cy="71.8" r="0.65" fill="#3e3442" fill-opacity="0.46"/><circle cx="131.5" cy="60.3" r="0.87" fill="#6a3a3a" fill-opacity="0.35"/><circle cx="122.6" cy="69.8" r="0.92" fill="#4a3040" fill-opacity="0.58"/><circle cx="133.4" cy="74.5" r="0.94" fill="#5a3038" fill-opacity="0.32"/><circle cx="132.6" cy="65.6" r="0.60" fill="#4a3040" fill-opacity="0.44"/><circle cx="119.9" cy="59.5" r="0.88" fill="#5a3038" fill-opacity="0.31"/><circle cx="129.2" cy="73.4" r="0.91" fill="#5a3038" fill-opacity="0.49"/><circle cx="124.8" cy="76.4" r="0.66" fill="#4a3040" fill-opacity="0.40"/><circle cx="118.8" cy="64.8" r="0.71" fill="#6a3a3a" fill-opacity="0.40"/><circle cx="119.7" cy="63.9" r="0.74" fill="#3e3442" fill-opacity="0.42"/><circle cx="133.0" cy="73.0" r="0.95" fill="#5a3038" fill-opacity="0.38"/><circle cx="124.8" cy="68.8" r="0.93" fill="#6a3a3a" fill-opacity="0.68"/><circle cx="123.6" cy="64.5" r="0.58" fill="#3e3442" fill-opacity="0.57"/><circle cx="126.0" cy="75.0" r="0.85" fill="#4a3040" fill-opacity="0.46"/><circle cx="134.8" cy="62.9" r="0.65" fill="#5a3038" fill-opacity="0.30"/><circle cx="127.3" cy="69.1" r="0.89" fill="#6a3a3a" fill-opacity="0.68"/><circle cx="129.2" cy="58.2" r="0.65" fill="#5a3038" fill-opacity="0.32"/><circle cx="127.1" cy="65.2" r="0.92" fill="#4a3040" fill-opacity="0.63"/><circle cx="118.6" cy="68.5" r="0.83" fill="#4a3040" fill-opacity="0.42"/><circle cx="117.7" cy="73.2" r="0.64" fill="#6a3a3a" fill-opacity="0.32"/><circle cx="119.7" cy="75.5" r="0.86" fill="#4a3040" fill-opacity="0.33"/><circle cx="119.8" cy="63.0" r="0.79" fill="#6a3a3a" fill-opacity="0.40"/><circle cx="129.1" cy="62.0" r="0.72" fill="#6a3a3a" fill-opacity="0.47"/><circle cx="130.1" cy="67.5" r="0.59" fill="#5a3038" fill-opacity="0.56"/><circle cx="122.0" cy="66.2" r="0.85" fill="#6a3a3a" fill-opacity="0.55"/><circle cx="130.0" cy="61.3" r="0.58" fill="#5a3038" fill-opacity="0.42"/><circle cx="132.9" cy="60.6" r="0.70" fill="#5a3038" fill-opacity="0.31"/><circle cx="118.1" cy="65.9" r="0.60" fill="#5a3038" fill-opacity="0.39"/><circle cx="121.4" cy="67.7" r="0.91" fill="#5a3038" fill-opacity="0.54"/><circle cx="119.6" cy="64.8" r="0.92" fill="#5a3038" fill-opacity="0.44"/><circle cx="128.0" cy="67.9" r="0.84" fill="#3e3442" fill-opacity="0.66"/><circle cx="118.7" cy="67.4" r="0.60" fill="#6a3a3a" fill-opacity="0.42"/><circle cx="128.0" cy="65.2" r="0.56" fill="#3e3442" fill-opacity="0.61"/><circle cx="131.3" cy="73.1" r="0.69" fill="#6a3a3a" fill-opacity="0.43"/><circle cx="126.0" cy="73.9" r="0.60" fill="#6a3a3a" fill-opacity="0.51"/><circle cx="126.1" cy="64.3" r="0.86" fill="#3e3442" fill-opacity="0.60"/><circle cx="130.6" cy="63.4" r="0.72" fill="#6a3a3a" fill-opacity="0.47"/><circle cx="119.8" cy="60.7" r="0.88" fill="#5a3038" fill-opacity="0.34"/><circle cx="127.0" cy="60.4" r="0.64" fill="#3e3442" fill-opacity="0.43"/><circle cx="121.9" cy="68.2" r="0.81" fill="#3e3442" fill-opacity="0.56"/><circle cx="127.6" cy="73.2" r="0.84" fill="#6a3a3a" fill-opacity="0.53"/><circle cx="117.1" cy="71.9" r="0.84" fill="#4a3040" fill-opacity="0.32"/><circle cx="130.9" cy="68.4" r="0.83" fill="#3e3442" fill-opacity="0.53"/><circle cx="130.6" cy="60.5" r="0.74" fill="#4a3040" fill-opacity="0.38"/><circle cx="125.1" cy="55.7" r="0.74" fill="#5a3038" fill-opacity="0.43"/><circle cx="122.0" cy="53.8" r="0.56" fill="#6a3a3a" fill-opacity="0.47"/><circle cx="124.8" cy="58.8" r="0.65" fill="#6a3a3a" fill-opacity="0.44"/><circle cx="124.7" cy="56.9" r="0.71" fill="#3e3442" fill-opacity="0.49"/><circle cx="121.9" cy="56.4" r="0.66" fill="#4a3040" fill-opacity="0.58"/><circle cx="120.5" cy="58.9" r="0.66" fill="#4a3040" fill-opacity="0.35"/><circle cx="123.4" cy="52.1" r="0.91" fill="#6a3a3a" fill-opacity="0.38"/><circle cx="122.1" cy="60.0" r="0.59" fill="#3e3442" fill-opacity="0.49"/><circle cx="122.3" cy="58.7" r="0.93" fill="#6a3a3a" fill-opacity="0.59"/><circle cx="120.3" cy="56.0" r="0.93" fill="#3e3442" fill-opacity="0.34"/><circle cx="124.3" cy="60.2" r="0.64" fill="#5a3038" fill-opacity="0.44"/><circle cx="120.6" cy="56.2" r="0.84" fill="#5a3038" fill-opacity="0.38"/><circle cx="120.4" cy="59.3" r="0.78" fill="#6a3a3a" fill-opacity="0.32"/><circle cx="123.5" cy="54.0" r="0.82" fill="#3e3442" fill-opacity="0.51"/><circle cx="125.3" cy="59.8" r="0.75" fill="#4a3040" fill-opacity="0.35"/><circle cx="125.4" cy="54.3" r="0.83" fill="#4a3040" fill-opacity="0.33"/><circle cx="122.4" cy="58.2" r="0.77" fill="#6a3a3a" fill-opacity="0.63"/><circle cx="121.2" cy="54.0" r="0.82" fill="#3e3442" fill-opacity="0.40"/><circle cx="121.7" cy="57.1" r="0.57" fill="#3e3442" fill-opacity="0.56"/><circle cx="123.2" cy="55.9" r="0.76" fill="#3e3442" fill-opacity="0.66"/><circle cx="123.3" cy="58.8" r="0.82" fill="#5a3038" fill-opacity="0.61"/><circle cx="124.8" cy="57.6" r="0.83" fill="#6a3a3a" fill-opacity="0.48"/><circle cx="124.9" cy="53.8" r="0.60" fill="#5a3038" fill-opacity="0.37"/><circle cx="123.7" cy="60.4" r="0.85" fill="#3e3442" fill-opacity="0.48"/><circle cx="123.9" cy="54.5" r="0.56" fill="#5a3038" fill-opacity="0.52"/><circle cx="124.0" cy="58.9" r="0.78" fill="#5a3038" fill-opacity="0.54"/><circle cx="123.9" cy="52.0" r="0.60" fill="#5a3038" fill-opacity="0.35"/><circle cx="122.5" cy="51.4" r="0.58" fill="#6a3a3a" fill-opacity="0.32"/><circle cx="120.1" cy="58.3" r="0.93" fill="#3e3442" fill-opacity="0.31"/><circle cx="125.5" cy="59.8" r="0.83" fill="#6a3a3a" fill-opacity="0.32"/><circle cx="122.5" cy="62.9" r="0.69" fill="#4a3040" fill-opacity="0.30"/><circle cx="123.0" cy="62.7" r="0.94" fill="#4a3040" fill-opacity="0.32"/><circle cx="123.0" cy="57.1" r="0.71" fill="#4a3040" fill-opacity="0.74"/><circle cx="125.2" cy="54.0" r="0.80" fill="#4a3040" fill-opacity="0.35"/><circle cx="121.9" cy="58.3" r="0.61" fill="#3e3442" fill-opacity="0.56"/><circle cx="123.6" cy="58.0" r="0.81" fill="#6a3a3a" fill-opacity="0.63"/><circle cx="102.8" cy="107.7" r="0.73" fill="#4a3040" fill-opacity="0.59"/><circle cx="110.5" cy="104.3" r="0.81" fill="#4a3040" fill-opacity="0.32"/><circle cx="88.6" cy="113.6" r="0.89" fill="#5a3038" fill-opacity="0.40"/><circle cx="85.7" cy="111.3" r="0.69" fill="#3e3442" fill-opacity="0.37"/><circle cx="90.5" cy="111.7" r="0.91" fill="#3e3442" fill-opacity="0.49"/><circle cx="87.6" cy="107.2" r="0.70" fill="#5a3038" fill-opacity="0.43"/><circle cx="93.1" cy="105.2" r="0.58" fill="#4a3040" fill-opacity="0.52"/><circle cx="89.4" cy="109.1" r="0.67" fill="#5a3038" fill-opacity="0.49"/><circle cx="101.2" cy="117.7" r="0.62" fill="#6a3a3a" fill-opacity="0.35"/><circle cx="85.9" cy="113.7" r="0.70" fill="#3e3442" fill-opacity="0.33"/><circle cx="103.4" cy="102.9" r="0.79" fill="#3e3442" fill-opacity="0.43"/><circle cx="99.9" cy="105.5" r="0.91" fill="#4a3040" fill-opacity="0.58"/><circle cx="94.7" cy="100.0" r="0.79" fill="#5a3038" fill-opacity="0.33"/><circle cx="109.5" cy="112.4" r="0.86" fill="#5a3038" fill-opacity="0.37"/><circle cx="108.5" cy="107.1" r="0.83" fill="#4a3040" fill-opacity="0.42"/><circle cx="97.5" cy="108.0" r="0.75" fill="#5a3038" fill-opacity="0.70"/><circle cx="110.1" cy="111.6" r="0.70" fill="#4a3040" fill-opacity="0.37"/><circle cx="95.6" cy="107.8" r="0.74" fill="#6a3a3a" fill-opacity="0.66"/><circle cx="106.5" cy="105.9" r="0.62" fill="#4a3040" fill-opacity="0.46"/><circle cx="90.4" cy="107.1" r="0.64" fill="#5a3038" fill-opacity="0.51"/><circle cx="108.2" cy="113.4" r="0.61" fill="#3e3442" fill-opacity="0.39"/><circle cx="90.5" cy="102.8" r="0.84" fill="#3e3442" fill-opacity="0.39"/><circle cx="96.1" cy="109.6" r="0.77" fill="#3e3442" fill-opacity="0.69"/><circle cx="90.2" cy="115.6" r="0.78" fill="#6a3a3a" fill-opacity="0.37"/><circle cx="93.9" cy="102.0" r="0.83" fill="#5a3038" fill-opacity="0.41"/><circle cx="86.1" cy="106.7" r="0.66" fill="#5a3038" fill-opacity="0.38"/><circle cx="101.2" cy="115.6" r="0.89" fill="#3e3442" fill-opacity="0.44"/><circle cx="104.4" cy="109.5" r="0.82" fill="#4a3040" fill-opacity="0.56"/><circle cx="99.6" cy="112.5" r="0.88" fill="#5a3038" fill-opacity="0.59"/><circle cx="112.6" cy="108.8" r="0.58" fill="#4a3040" fill-opacity="0.31"/><circle cx="100.3" cy="102.6" r="0.63" fill="#4a3040" fill-opacity="0.45"/><circle cx="107.3" cy="104.4" r="0.95" fill="#3e3442" fill-opacity="0.40"/><circle cx="90.7" cy="113.7" r="0.58" fill="#4a3040" fill-opacity="0.45"/><circle cx="100.5" cy="99.3" r="0.71" fill="#6a3a3a" fill-opacity="0.31"/><circle cx="107.2" cy="107.1" r="0.87" fill="#6a3a3a" fill-opacity="0.46"/><circle cx="89.7" cy="113.6" r="0.88" fill="#6a3a3a" fill-opacity="0.43"/><circle cx="103.5" cy="114.3" r="0.81" fill="#4a3040" fill-opacity="0.46"/><circle cx="100.6" cy="104.2" r="0.66" fill="#3e3442" fill-opacity="0.52"/><circle cx="94.5" cy="109.6" r="0.76" fill="#4a3040" fill-opacity="0.64"/><circle cx="87.6" cy="105.8" r="0.90" fill="#3e3442" fill-opacity="0.41"/><circle cx="88.7" cy="105.1" r="0.68" fill="#6a3a3a" fill-opacity="0.42"/><circle cx="110.5" cy="112.1" r="0.63" fill="#6a3a3a" fill-opacity="0.35"/><circle cx="87.8" cy="104.5" r="0.83" fill="#5a3038" fill-opacity="0.38"/><circle cx="85.6" cy="112.5" r="0.64" fill="#4a3040" fill-opacity="0.35"/><circle cx="86.6" cy="106.4" r="0.83" fill="#5a3038" fill-opacity="0.39"/><circle cx="100.0" cy="106.5" r="0.71" fill="#3e3442" fill-opacity="0.62"/><circle cx="99.3" cy="104.9" r="0.87" fill="#3e3442" fill-opacity="0.56"/><circle cx="94.6" cy="100.0" r="0.60" fill="#3e3442" fill-opacity="0.33"/><circle cx="90.3" cy="101.0" r="0.56" fill="#4a3040" fill-opacity="0.32"/><circle cx="99.4" cy="102.0" r="0.60" fill="#5a3038" fill-opacity="0.43"/><circle cx="91.5" cy="110.2" r="0.86" fill="#6a3a3a" fill-opacity="0.55"/><circle cx="110.1" cy="109.9" r="0.62" fill="#5a3038" fill-opacity="0.39"/><circle cx="96.4" cy="115.6" r="0.79" fill="#6a3a3a" fill-opacity="0.45"/><circle cx="93.0" cy="114.7" r="0.90" fill="#3e3442" fill-opacity="0.45"/><circle cx="99.3" cy="99.1" r="0.56" fill="#3e3442" fill-opacity="0.30"/><circle cx="109.9" cy="113.9" r="0.77" fill="#3e3442" fill-opacity="0.33"/><circle cx="97.9" cy="116.9" r="0.91" fill="#5a3038" fill-opacity="0.39"/><circle cx="86.4" cy="111.8" r="0.69" fill="#6a3a3a" fill-opacity="0.38"/><circle cx="106.8" cy="106.6" r="0.78" fill="#6a3a3a" fill-opacity="0.46"/><circle cx="101.0" cy="99.3" r="0.80" fill="#4a3040" fill-opacity="0.30"/><circle cx="94.8" cy="112.9" r="0.56" fill="#3e3442" fill-opacity="0.55"/><circle cx="92.8" cy="114.0" r="0.71" fill="#3e3442" fill-opacity="0.48"/><circle cx="97.3" cy="103.0" r="0.57" fill="#4a3040" fill-opacity="0.48"/><circle cx="96.3" cy="106.8" r="0.57" fill="#5a3038" fill-opacity="0.64"/><circle cx="91.5" cy="103.3" r="0.75" fill="#3e3442" fill-opacity="0.43"/><circle cx="105.0" cy="103.9" r="0.72" fill="#5a3038" fill-opacity="0.44"/><circle cx="89.0" cy="115.8" r="0.57" fill="#5a3038" fill-opacity="0.34"/><circle cx="95.9" cy="117.4" r="0.58" fill="#3e3442" fill-opacity="0.37"/><circle cx="88.9" cy="105.5" r="0.86" fill="#6a3a3a" fill-opacity="0.44"/><circle cx="109.0" cy="108.9" r="0.73" fill="#6a3a3a" fill-opacity="0.42"/><circle cx="105.4" cy="116.4" r="0.83" fill="#6a3a3a" fill-opacity="0.35"/><circle cx="101.5" cy="104.9" r="0.57" fill="#5a3038" fill-opacity="0.54"/><circle cx="101.4" cy="114.7" r="0.74" fill="#5a3038" fill-opacity="0.47"/><circle cx="93.8" cy="113.1" r="0.83" fill="#6a3a3a" fill-opacity="0.53"/><circle cx="101.8" cy="117.2" r="0.73" fill="#4a3040" fill-opacity="0.36"/><circle cx="101.0" cy="109.1" r="0.90" fill="#6a3a3a" fill-opacity="0.66"/><circle cx="93.8" cy="115.1" r="0.61" fill="#5a3038" fill-opacity="0.45"/><circle cx="84.0" cy="112.1" r="0.79" fill="#6a3a3a" fill-opacity="0.31"/><circle cx="90.3" cy="111.7" r="0.86" fill="#3e3442" fill-opacity="0.49"/><circle cx="105.9" cy="113.3" r="0.89" fill="#6a3a3a" fill-opacity="0.44"/><circle cx="85.1" cy="104.3" r="0.68" fill="#5a3038" fill-opacity="0.31"/><circle cx="99.7" cy="108.9" r="0.55" fill="#4a3040" fill-opacity="0.70"/><circle cx="94.4" cy="112.5" r="0.80" fill="#6a3a3a" fill-opacity="0.56"/><circle cx="99.6" cy="115.3" r="0.63" fill="#3e3442" fill-opacity="0.46"/><circle cx="94.3" cy="102.6" r="0.68" fill="#3e3442" fill-opacity="0.44"/><circle cx="96.8" cy="99.6" r="0.79" fill="#4a3040" fill-opacity="0.32"/><circle cx="101.1" cy="106.6" r="0.92" fill="#3e3442" fill-opacity="0.61"/><circle cx="105.0" cy="103.6" r="0.93" fill="#4a3040" fill-opacity="0.43"/><circle cx="92.5" cy="110.8" r="0.59" fill="#4a3040" fill-opacity="0.57"/><circle cx="104.8" cy="102.1" r="0.92" fill="#4a3040" fill-opacity="0.38"/><circle cx="86.2" cy="103.3" r="0.81" fill="#5a3038" fill-opacity="0.31"/><circle cx="102.7" cy="111.1" r="0.80" fill="#3e3442" fill-opacity="0.58"/><circle cx="91.9" cy="110.7" r="0.87" fill="#5a3038" fill-opacity="0.55"/><circle cx="103.0" cy="110.8" r="0.75" fill="#3e3442" fill-opacity="0.58"/><circle cx="106.5" cy="109.1" r="0.67" fill="#5a3038" fill-opacity="0.49"/><circle cx="83.6" cy="108.7" r="0.67" fill="#6a3a3a" fill-opacity="0.32"/><circle cx="96.3" cy="117.8" r="0.56" fill="#6a3a3a" fill-opacity="0.35"/><circle cx="90.5" cy="100.6" r="0.92" fill="#6a3a3a" fill-opacity="0.31"/><circle cx="106.8" cy="115.1" r="0.65" fill="#6a3a3a" fill-opacity="0.37"/><circle cx="94.4" cy="118.6" r="0.63" fill="#5a3038" fill-opacity="0.31"/><circle cx="102.1" cy="109.6" r="0.80" fill="#3e3442" fill-opacity="0.62"/><circle cx="97.8" cy="113.8" r="0.72" fill="#6a3a3a" fill-opacity="0.53"/><circle cx="92.5" cy="102.5" r="0.77" fill="#5a3038" fill-opacity="0.41"/><circle cx="106.9" cy="112.8" r="0.83" fill="#5a3038" fill-opacity="0.43"/><circle cx="97.6" cy="109.5" r="0.87" fill="#4a3040" fill-opacity="0.72"/><circle cx="102.1" cy="113.2" r="0.87" fill="#6a3a3a" fill-opacity="0.52"/><circle cx="100.7" cy="107.5" r="0.56" fill="#5a3038" fill-opacity="0.64"/><circle cx="99.1" cy="99.7" r="0.74" fill="#5a3038" fill-opacity="0.33"/><circle cx="93.3" cy="114.3" r="0.78" fill="#6a3a3a" fill-opacity="0.47"/><circle cx="88.4" cy="101.9" r="0.82" fill="#4a3040" fill-opacity="0.32"/><circle cx="106.9" cy="110.3" r="0.59" fill="#6a3a3a" fill-opacity="0.48"/><circle cx="92.7" cy="100.5" r="0.77" fill="#4a3040" fill-opacity="0.34"/><circle cx="96.1" cy="115.0" r="0.89" fill="#5a3038" fill-opacity="0.47"/><circle cx="101.3" cy="109.0" r="0.70" fill="#4a3040" fill-opacity="0.65"/><circle cx="99.0" cy="109.0" r="0.74" fill="#5a3038" fill-opacity="0.72"/><circle cx="107.2" cy="112.8" r="0.88" fill="#3e3442" fill-opacity="0.43"/><circle cx="92.8" cy="102.1" r="0.68" fill="#3e3442" fill-opacity="0.40"/><circle cx="102.5" cy="112.5" r="0.83" fill="#4a3040" fill-opacity="0.54"/><circle cx="108.9" cy="110.9" r="0.94" fill="#4a3040" fill-opacity="0.41"/><circle cx="99.7" cy="100.0" r="0.66" fill="#3e3442" fill-opacity="0.34"/><circle cx="100.4" cy="113.9" r="0.58" fill="#4a3040" fill-opacity="0.52"/><circle cx="104.6" cy="110.6" r="0.82" fill="#3e3442" fill-opacity="0.54"/><circle cx="86.7" cy="103.8" r="0.79" fill="#3e3442" fill-opacity="0.34"/><circle cx="89.4" cy="110.7" r="0.91" fill="#5a3038" fill-opacity="0.48"/><circle cx="95.6" cy="118.0" r="0.64" fill="#6a3a3a" fill-opacity="0.34"/><circle cx="105.8" cy="115.8" r="0.63" fill="#5a3038" fill-opacity="0.37"/><circle cx="108.2" cy="108.2" r="0.75" fill="#4a3040" fill-opacity="0.44"/><circle cx="97.0" cy="105.4" r="0.56" fill="#6a3a3a" fill-opacity="0.58"/><circle cx="89.9" cy="102.3" r="0.91" fill="#3e3442" fill-opacity="0.36"/><circle cx="99.1" cy="99.5" r="0.70" fill="#3e3442" fill-opacity="0.32"/><circle cx="104.4" cy="101.1" r="0.82" fill="#6a3a3a" fill-opacity="0.35"/><circle cx="100.9" cy="101.6" r="0.77" fill="#5a3038" fill-opacity="0.41"/><circle cx="94.8" cy="100.8" r="0.62" fill="#3e3442" fill-opacity="0.37"/><circle cx="98.5" cy="112.6" r="0.64" fill="#4a3040" fill-opacity="0.59"/><circle cx="90.7" cy="111.1" r="0.66" fill="#3e3442" fill-opacity="0.51"/><circle cx="84.9" cy="112.9" r="0.73" fill="#3e3442" fill-opacity="0.32"/><circle cx="85.3" cy="106.0" r="0.63" fill="#5a3038" fill-opacity="0.35"/><circle cx="101.0" cy="106.3" r="0.67" fill="#3e3442" fill-opacity="0.60"/><circle cx="93.8" cy="103.7" r="0.72" fill="#6a3a3a" fill-opacity="0.48"/><circle cx="93.4" cy="110.7" r="0.68" fill="#5a3038" fill-opacity="0.59"/><circle cx="95.0" cy="118.3" r="0.87" fill="#6a3a3a" fill-opacity="0.32"/><circle cx="110.3" cy="104.5" r="0.58" fill="#6a3a3a" fill-opacity="0.33"/><circle cx="102.7" cy="100.1" r="0.63" fill="#3e3442" fill-opacity="0.33"/><circle cx="104.6" cy="103.7" r="0.56" fill="#3e3442" fill-opacity="0.44"/><circle cx="104.1" cy="115.0" r="0.74" fill="#4a3040" fill-opacity="0.42"/><circle cx="98.8" cy="116.7" r="0.92" fill="#4a3040" fill-opacity="0.40"/><circle cx="91.8" cy="107.5" r="0.75" fill="#4a3040" fill-opacity="0.55"/><circle cx="99.2" cy="112.1" r="0.85" fill="#3e3442" fill-opacity="0.61"/><circle cx="102.4" cy="101.5" r="0.62" fill="#5a3038" fill-opacity="0.39"/><circle cx="96.9" cy="107.1" r="0.61" fill="#6a3a3a" fill-opacity="0.66"/><circle cx="88.4" cy="103.2" r="0.89" fill="#5a3038" fill-opacity="0.36"/><circle cx="84.9" cy="105.8" r="0.57" fill="#4a3040" fill-opacity="0.33"/><circle cx="99.3" cy="112.3" r="0.85" fill="#6a3a3a" fill-opacity="0.60"/><circle cx="102.0" cy="111.8" r="0.57" fill="#3e3442" fill-opacity="0.58"/><circle cx="93.1" cy="109.5" r="0.84" fill="#4a3040" fill-opacity="0.60"/><circle cx="83.8" cy="106.6" r="0.88" fill="#3e3442" fill-opacity="0.31"/><circle cx="103.5" cy="110.4" r="0.91" fill="#4a3040" fill-opacity="0.57"/><circle cx="100.9" cy="106.9" r="0.66" fill="#3e3442" fill-opacity="0.62"/><circle cx="91.0" cy="112.5" r="0.74" fill="#3e3442" fill-opacity="0.49"/><circle cx="109.5" cy="104.8" r="0.63" fill="#4a3040" fill-opacity="0.36"/><circle cx="96.5" cy="110.7" r="0.74" fill="#6a3a3a" fill-opacity="0.66"/><circle cx="98.2" cy="115.4" r="0.92" fill="#6a3a3a" fill-opacity="0.46"/><circle cx="93.4" cy="111.1" r="0.73" fill="#3e3442" fill-opacity="0.58"/><circle cx="91.2" cy="103.5" r="0.84" fill="#4a3040" fill-opacity="0.43"/><circle cx="107.9" cy="111.1" r="0.89" fill="#4a3040" fill-opacity="0.44"/><circle cx="106.4" cy="115.9" r="0.59" fill="#3e3442" fill-opacity="0.35"/><circle cx="92.5" cy="104.9" r="0.95" fill="#4a3040" fill-opacity="0.50"/><circle cx="97.5" cy="117.4" r="0.76" fill="#4a3040" fill-opacity="0.37"/><circle cx="96.2" cy="105.7" r="0.64" fill="#3e3442" fill-opacity="0.59"/><circle cx="84.3" cy="106.2" r="0.90" fill="#3e3442" fill-opacity="0.32"/><circle cx="98.1" cy="117.4" r="0.76" fill="#3e3442" fill-opacity="0.37"/><circle cx="98.0" cy="100.4" r="0.63" fill="#3e3442" fill-opacity="0.36"/><circle cx="111.7" cy="112.8" r="0.72" fill="#3e3442" fill-opacity="0.30"/><circle cx="96.5" cy="106.0" r="0.60" fill="#5a3038" fill-opacity="0.61"/><circle cx="107.4" cy="105.8" r="0.77" fill="#6a3a3a" fill-opacity="0.43"/><circle cx="97.7" cy="116.0" r="0.67" fill="#4a3040" fill-opacity="0.43"/><circle cx="101.7" cy="103.6" r="0.92" fill="#6a3a3a" fill-opacity="0.48"/><circle cx="84.9" cy="106.3" r="0.84" fill="#4a3040" fill-opacity="0.34"/><circle cx="108.5" cy="102.3" r="0.94" fill="#6a3a3a" fill-opacity="0.31"/><circle cx="84.7" cy="112.6" r="0.84" fill="#4a3040" fill-opacity="0.32"/><circle cx="91.6" cy="106.0" r="0.80" fill="#5a3038" fill-opacity="0.51"/><circle cx="85.1" cy="111.8" r="0.73" fill="#3e3442" fill-opacity="0.34"/><circle cx="94.7" cy="116.6" r="0.58" fill="#3e3442" fill-opacity="0.39"/><circle cx="85.3" cy="112.7" r="0.72" fill="#4a3040" fill-opacity="0.33"/><circle cx="96.4" cy="108.0" r="0.88" fill="#6a3a3a" fill-opacity="0.68"/><circle cx="90.0" cy="104.1" r="0.86" fill="#6a3a3a" fill-opacity="0.42"/><circle cx="93.7" cy="110.8" r="0.93" fill="#3e3442" fill-opacity="0.60"/><circle cx="109.2" cy="110.2" r="0.57" fill="#4a3040" fill-opacity="0.41"/><circle cx="92.8" cy="101.8" r="0.82" fill="#3e3442" fill-opacity="0.39"/><circle cx="99.7" cy="104.5" r="0.86" fill="#4a3040" fill-opacity="0.54"/><circle cx="85.1" cy="107.9" r="0.91" fill="#4a3040" fill-opacity="0.36"/><circle cx="105.1" cy="105.1" r="0.94" fill="#3e3442" fill-opacity="0.47"/><circle cx="111.3" cy="105.6" r="0.57" fill="#4a3040" fill-opacity="0.32"/><circle cx="97.9" cy="108.4" r="0.62" fill="#5a3038" fill-opacity="0.72"/><circle cx="96.0" cy="114.9" r="0.57" fill="#4a3040" fill-opacity="0.48"/><circle cx="92.0" cy="111.7" r="0.59" fill="#6a3a3a" fill-opacity="0.53"/><circle cx="111.6" cy="106.7" r="0.73" fill="#5a3038" fill-opacity="0.33"/><circle cx="100.9" cy="115.8" r="0.69" fill="#6a3a3a" fill-opacity="0.43"/><circle cx="85.7" cy="106.4" r="0.78" fill="#5a3038" fill-opacity="0.36"/><circle cx="111.9" cy="108.0" r="0.77" fill="#4a3040" fill-opacity="0.33"/><circle cx="96.4" cy="118.2" r="0.67" fill="#3e3442" fill-opacity="0.33"/><circle cx="100.7" cy="112.5" r="0.90" fill="#4a3040" fill-opacity="0.57"/><circle cx="97.5" cy="114.3" r="0.56" fill="#6a3a3a" fill-opacity="0.51"/><circle cx="95.5" cy="106.0" r="0.87" fill="#4a3040" fill-opacity="0.60"/><circle cx="111.8" cy="106.6" r="0.92" fill="#6a3a3a" fill-opacity="0.32"/><circle cx="106.1" cy="108.4" r="0.64" fill="#4a3040" fill-opacity="0.51"/><circle cx="112.0" cy="112.1" r="0.63" fill="#3e3442" fill-opacity="0.31"/><circle cx="94.8" cy="106.6" r="0.65" fill="#5a3038" fill-opacity="0.60"/><circle cx="106.8" cy="102.0" r="0.80" fill="#3e3442" fill-opacity="0.34"/><circle cx="99.6" cy="100.6" r="0.72" fill="#6a3a3a" fill-opacity="0.37"/><circle cx="90.5" cy="116.6" r="0.73" fill="#3e3442" fill-opacity="0.34"/><circle cx="89.6" cy="103.7" r="0.76" fill="#3e3442" fill-opacity="0.41"/><circle cx="94.3" cy="113.7" r="0.72" fill="#3e3442" fill-opacity="0.51"/><circle cx="101.0" cy="109.0" r="0.63" fill="#3e3442" fill-opacity="0.66"/><circle cx="94.5" cy="118.1" r="0.90" fill="#4a3040" fill-opacity="0.33"/><circle cx="90.0" cy="112.2" r="0.57" fill="#6a3a3a" fill-opacity="0.47"/><circle cx="91.9" cy="106.2" r="0.56" fill="#3e3442" fill-opacity="0.53"/><circle cx="96.2" cy="111.8" r="0.63" fill="#3e3442" fill-opacity="0.61"/><circle cx="95.8" cy="114.9" r="0.58" fill="#6a3a3a" fill-opacity="0.48"/><circle cx="104.7" cy="100.1" r="0.62" fill="#5a3038" fill-opacity="0.30"/><circle cx="104.3" cy="107.2" r="0.60" fill="#6a3a3a" fill-opacity="0.54"/><circle cx="101.5" cy="117.2" r="0.67" fill="#4a3040" fill-opacity="0.37"/><circle cx="99.1" cy="118.5" r="0.89" fill="#4a3040" fill-opacity="0.32"/><circle cx="106.0" cy="105.0" r="0.86" fill="#5a3038" fill-opacity="0.45"/><circle cx="101.7" cy="99.8" r="0.93" fill="#6a3a3a" fill-opacity="0.32"/><circle cx="102.6" cy="115.9" r="0.81" fill="#5a3038" fill-opacity="0.41"/><circle cx="85.0" cy="109.7" r="0.66" fill="#4a3040" fill-opacity="0.36"/><circle cx="102.6" cy="101.4" r="0.75" fill="#3e3442" fill-opacity="0.38"/><circle cx="95.2" cy="111.4" r="0.74" fill="#3e3442" fill-opacity="0.61"/><circle cx="94.4" cy="114.9" r="0.80" fill="#3e3442" fill-opacity="0.46"/><circle cx="95.7" cy="112.2" r="0.63" fill="#3e3442" fill-opacity="0.59"/><circle cx="97.0" cy="113.3" r="0.70" fill="#6a3a3a" fill-opacity="0.55"/><circle cx="95.4" cy="112.7" r="0.65" fill="#6a3a3a" fill-opacity="0.57"/><circle cx="93.1" cy="109.9" r="0.70" fill="#3e3442" fill-opacity="0.60"/><circle cx="96.3" cy="117.5" r="0.85" fill="#3e3442" fill-opacity="0.36"/><circle cx="106.3" cy="102.1" r="0.67" fill="#6a3a3a" fill-opacity="0.35"/><circle cx="101.2" cy="105.8" r="0.88" fill="#5a3038" fill-opacity="0.58"/><circle cx="85.1" cy="111.3" r="0.85" fill="#6a3a3a" fill-opacity="0.35"/><circle cx="104.8" cy="104.5" r="0.85" fill="#5a3038" fill-opacity="0.46"/><circle cx="105.2" cy="106.0" r="0.84" fill="#4a3040" fill-opacity="0.50"/><circle cx="88.6" cy="114.1" r="0.79" fill="#5a3038" fill-opacity="0.39"/><circle cx="94.8" cy="107.5" r="0.69" fill="#4a3040" fill-opacity="0.63"/><circle cx="101.1" cy="109.8" r="0.58" fill="#4a3040" fill-opacity="0.65"/><circle cx="97.8" cy="105.9" r="0.91" fill="#5a3038" fill-opacity="0.61"/><circle cx="112.6" cy="109.8" r="0.70" fill="#4a3040" fill-opacity="0.31"/><circle cx="102.9" cy="99.7" r="0.64" fill="#5a3038" fill-opacity="0.31"/><circle cx="90.7" cy="112.7" r="0.79" fill="#6a3a3a" fill-opacity="0.47"/><circle cx="100.5" cy="110.9" r="0.73" fill="#5a3038" fill-opacity="0.64"/><circle cx="92.9" cy="109.0" r="0.88" fill="#5a3038" fill-opacity="0.60"/><circle cx="106.4" cy="116.8" r="0.72" fill="#6a3a3a" fill-opacity="0.32"/><circle cx="95.2" cy="112.5" r="0.83" fill="#3e3442" fill-opacity="0.57"/><circle cx="96.6" cy="112.5" r="0.81" fill="#3e3442" fill-opacity="0.59"/><circle cx="109.2" cy="114.6" r="0.92" fill="#5a3038" fill-opacity="0.33"/><circle cx="88.8" cy="112.5" r="0.56" fill="#5a3038" fill-opacity="0.43"/><circle cx="87.3" cy="111.0" r="0.94" fill="#3e3442" fill-opacity="0.42"/><circle cx="93.0" cy="105.0" r="0.74" fill="#6a3a3a" fill-opacity="0.52"/><circle cx="83.6" cy="106.6" r="0.73" fill="#5a3038" fill-opacity="0.30"/><circle cx="97.5" cy="107.1" r="0.86" fill="#3e3442" fill-opacity="0.67"/><circle cx="102.2" cy="107.9" r="0.85" fill="#6a3a3a" fill-opacity="0.62"/><circle cx="107.6" cy="109.8" r="0.59" fill="#5a3038" fill-opacity="0.46"/><circle cx="90.6" cy="112.3" r="0.88" fill="#6a3a3a" fill-opacity="0.48"/><circle cx="106.4" cy="113.5" r="0.72" fill="#6a3a3a" fill-opacity="0.43"/><circle cx="86.8" cy="114.3" r="0.69" fill="#6a3a3a" fill-opacity="0.34"/><circle cx="110.2" cy="110.2" r="0.61" fill="#3e3442" fill-opacity="0.38"/><circle cx="86.3" cy="108.8" r="0.76" fill="#3e3442" fill-opacity="0.40"/><circle cx="96.4" cy="116.2" r="0.59" fill="#6a3a3a" fill-opacity="0.42"/><circle cx="94.4" cy="100.8" r="0.93" fill="#3e3442" fill-opacity="0.37"/><circle cx="86.5" cy="106.7" r="0.91" fill="#5a3038" fill-opacity="0.39"/><circle cx="96.8" cy="101.9" r="0.68" fill="#6a3a3a" fill-opacity="0.43"/><circle cx="100.8" cy="104.5" r="0.55" fill="#4a3040" fill-opacity="0.53"/><circle cx="112.0" cy="111.2" r="0.80" fill="#4a3040" fill-opacity="0.32"/><circle cx="103.0" cy="99.8" r="0.68" fill="#5a3038" fill-opacity="0.31"/><circle cx="97.8" cy="106.9" r="0.75" fill="#6a3a3a" fill-opacity="0.66"/><circle cx="103.3" cy="112.4" r="0.75" fill="#4a3040" fill-opacity="0.53"/><circle cx="93.7" cy="118.5" r="0.92" fill="#6a3a3a" fill-opacity="0.30"/><circle cx="100.6" cy="118.6" r="0.66" fill="#5a3038" fill-opacity="0.31"/><circle cx="96.4" cy="113.3" r="0.61" fill="#6a3a3a" fill-opacity="0.55"/><circle cx="96.0" cy="108.9" r="0.92" fill="#4a3040" fill-opacity="0.69"/><circle cx="97.4" cy="113.4" r="0.76" fill="#5a3038" fill-opacity="0.55"/><circle cx="106.5" cy="114.4" r="0.61" fill="#6a3a3a" fill-opacity="0.40"/><circle cx="103.3" cy="103.3" r="0.85" fill="#5a3038" fill-opacity="0.45"/><circle cx="107.4" cy="114.4" r="0.80" fill="#6a3a3a" fill-opacity="0.38"/><circle cx="91.5" cy="100.3" r="0.94" fill="#3e3442" fill-opacity="0.31"/><circle cx="109.7" cy="107.4" r="0.58" fill="#6a3a3a" fill-opacity="0.39"/><circle cx="108.9" cy="106.6" r="0.70" fill="#6a3a3a" fill-opacity="0.41"/><circle cx="110.0" cy="111.3" r="0.61" fill="#3e3442" fill-opacity="0.38"/><circle cx="84.9" cy="107.5" r="0.57" fill="#3e3442" fill-opacity="0.35"/><circle cx="97.5" cy="104.0" r="0.57" fill="#4a3040" fill-opacity="0.52"/><circle cx="95.7" cy="115.7" r="0.76" fill="#5a3038" fill-opacity="0.44"/><circle cx="86.7" cy="103.1" r="0.71" fill="#6a3a3a" fill-opacity="0.32"/><circle cx="91.0" cy="114.2" r="0.59" fill="#3e3442" fill-opacity="0.43"/><circle cx="93.0" cy="105.6" r="0.60" fill="#6a3a3a" fill-opacity="0.53"/><circle cx="95.6" cy="117.6" r="0.74" fill="#3e3442" fill-opacity="0.36"/><circle cx="97.0" cy="114.4" r="0.89" fill="#3e3442" fill-opacity="0.51"/><circle cx="102.1" cy="109.9" r="0.68" fill="#3e3442" fill-opacity="0.62"/><circle cx="90.9" cy="113.0" r="0.70" fill="#3e3442" fill-opacity="0.47"/><circle cx="99.2" cy="106.8" r="0.59" fill="#6a3a3a" fill-opacity="0.65"/><circle cx="97.9" cy="109.7" r="0.66" fill="#3e3442" fill-opacity="0.72"/><circle cx="94.8" cy="118.0" r="0.69" fill="#6a3a3a" fill-opacity="0.33"/><circle cx="107.9" cy="106.9" r="0.75" fill="#6a3a3a" fill-opacity="0.44"/><circle cx="83.2" cy="108.6" r="0.94" fill="#6a3a3a" fill-opacity="0.30"/><circle cx="101.8" cy="103.6" r="0.90" fill="#6a3a3a" fill-opacity="0.48"/><circle cx="108.2" cy="116.3" r="0.71" fill="#5a3038" fill-opacity="0.30"/><circle cx="91.7" cy="112.0" r="0.71" fill="#5a3038" fill-opacity="0.52"/><circle cx="107.0" cy="114.2" r="0.83" fill="#4a3040" fill-opacity="0.39"/><circle cx="87.9" cy="104.2" r="0.65" fill="#3e3442" fill-opacity="0.38"/><circle cx="111.7" cy="112.7" r="0.64" fill="#4a3040" fill-opacity="0.31"/><circle cx="111.2" cy="112.2" r="0.73" fill="#6a3a3a" fill-opacity="0.33"/><circle cx="92.9" cy="111.8" r="0.70" fill="#5a3038" fill-opacity="0.55"/><circle cx="91.8" cy="117.0" r="0.77" fill="#4a3040" fill-opacity="0.35"/><circle cx="99.2" cy="110.2" r="0.83" fill="#3e3442" fill-opacity="0.68"/><circle cx="99.6" cy="114.5" r="0.70" fill="#3e3442" fill-opacity="0.50"/><circle cx="95.3" cy="105.8" r="0.57" fill="#5a3038" fill-opacity="0.59"/><circle cx="99.6" cy="117.9" r="0.81" fill="#4a3040" fill-opacity="0.35"/><circle cx="95.3" cy="102.6" r="0.75" fill="#3e3442" fill-opacity="0.45"/><circle cx="96.2" cy="107.5" r="0.60" fill="#4a3040" fill-opacity="0.66"/><circle cx="104.1" cy="117.8" r="0.62" fill="#5a3038" fill-opacity="0.31"/><circle cx="90.3" cy="112.1" r="0.56" fill="#4a3040" fill-opacity="0.48"/><circle cx="108.6" cy="113.2" r="0.78" fill="#4a3040" fill-opacity="0.38"/><circle cx="99.0" cy="104.8" r="0.93" fill="#4a3040" fill-opacity="0.56"/><circle cx="96.6" cy="107.6" r="0.91" fill="#3e3442" fill-opacity="0.68"/><circle cx="96.0" cy="101.2" r="0.61" fill="#5a3038" fill-opacity="0.39"/><circle cx="96.6" cy="118.3" r="0.58" fill="#3e3442" fill-opacity="0.33"/><circle cx="91.9" cy="104.8" r="0.80" fill="#3e3442" fill-opacity="0.49"/><circle cx="101.3" cy="115.1" r="0.80" fill="#4a3040" fill-opacity="0.46"/><circle cx="95.4" cy="113.7" r="0.95" fill="#6a3a3a" fill-opacity="0.53"/><circle cx="104.2" cy="109.7" r="0.86" fill="#4a3040" fill-opacity="0.56"/><circle cx="98.4" cy="105.9" r="0.92" fill="#4a3040" fill-opacity="0.61"/><circle cx="96.5" cy="109.3" r="0.85" fill="#6a3a3a" fill-opacity="0.70"/><circle cx="109.2" cy="108.5" r="0.80" fill="#4a3040" fill-opacity="0.41"/><circle cx="87.3" cy="112.8" r="0.81" fill="#6a3a3a" fill-opacity="0.39"/><circle cx="91.5" cy="117.5" r="0.79" fill="#5a3038" fill-opacity="0.32"/><circle cx="106.4" cy="111.8" r="0.78" fill="#6a3a3a" fill-opacity="0.47"/><circle cx="88.4" cy="102.7" r="0.77" fill="#3e3442" fill-opacity="0.35"/><circle cx="96.9" cy="103.4" r="0.68" fill="#4a3040" fill-opacity="0.50"/><circle cx="102.0" cy="104.8" r="0.76" fill="#5a3038" fill-opacity="0.53"/><circle cx="107.9" cy="105.0" r="0.89" fill="#6a3a3a" fill-opacity="0.40"/><circle cx="88.2" cy="104.7" r="0.64" fill="#4a3040" fill-opacity="0.40"/><circle cx="99.9" cy="105.4" r="0.85" fill="#4a3040" fill-opacity="0.58"/><circle cx="97.4" cy="116.9" r="0.58" fill="#6a3a3a" fill-opacity="0.39"/><circle cx="98.9" cy="106.5" r="0.57" fill="#4a3040" fill-opacity="0.63"/><circle cx="86.5" cy="112.9" r="0.65" fill="#3e3442" fill-opacity="0.36"/><circle cx="91.2" cy="103.2" r="0.88" fill="#6a3a3a" fill-opacity="0.42"/><circle cx="111.6" cy="110.7" r="0.85" fill="#6a3a3a" fill-opacity="0.33"/><circle cx="102.2" cy="104.1" r="0.56" fill="#6a3a3a" fill-opacity="0.50"/><circle cx="99.2" cy="106.4" r="0.93" fill="#6a3a3a" fill-opacity="0.63"/><circle cx="84.9" cy="109.3" r="0.95" fill="#6a3a3a" fill-opacity="0.36"/><circle cx="109.1" cy="107.5" r="0.74" fill="#3e3442" fill-opacity="0.41"/><circle cx="106.4" cy="106.1" r="0.91" fill="#5a3038" fill-opacity="0.47"/><circle cx="103.2" cy="117.5" r="0.57" fill="#3e3442" fill-opacity="0.34"/><circle cx="98.8" cy="113.6" r="0.63" fill="#3e3442" fill-opacity="0.54"/><circle cx="92.1" cy="112.4" r="0.92" fill="#5a3038" fill-opacity="0.52"/><circle cx="98.5" cy="111.4" r="0.74" fill="#5a3038" fill-opacity="0.64"/><circle cx="84.2" cy="109.3" r="0.91" fill="#6a3a3a" fill-opacity="0.34"/><circle cx="97.5" cy="108.3" r="0.62" fill="#6a3a3a" fill-opacity="0.72"/><circle cx="100.2" cy="113.5" r="0.91" fill="#4a3040" fill-opacity="0.54"/><circle cx="99.8" cy="109.9" r="0.65" fill="#4a3040" fill-opacity="0.68"/><circle cx="92.8" cy="112.6" r="0.68" fill="#6a3a3a" fill-opacity="0.52"/><circle cx="107.3" cy="107.1" r="0.83" fill="#4a3040" fill-opacity="0.46"/><circle cx="105.1" cy="109.3" r="0.83" fill="#4a3040" fill-opacity="0.54"/><circle cx="106.4" cy="107.4" r="0.90" fill="#3e3442" fill-opacity="0.49"/><circle cx="89.4" cy="109.8" r="0.86" fill="#3e3442" fill-opacity="0.49"/><circle cx="92.1" cy="112.9" r="0.69" fill="#3e3442" fill-opacity="0.50"/><circle cx="90.3" cy="113.8" r="0.57" fill="#3e3442" fill-opacity="0.43"/><circle cx="102.3" cy="103.4" r="0.56" fill="#6a3a3a" fill-opacity="0.47"/><circle cx="106.4" cy="112.3" r="0.69" fill="#3e3442" fill-opacity="0.46"/><circle cx="102.1" cy="107.3" r="0.75" fill="#6a3a3a" fill-opacity="0.60"/><circle cx="92.0" cy="122.9" r="0.86" fill="#3e3442" fill-opacity="0.44"/><circle cx="99.0" cy="120.2" r="0.84" fill="#4a3040" fill-opacity="0.44"/><circle cx="95.3" cy="126.0" r="0.83" fill="#4a3040" fill-opacity="0.36"/><circle cx="92.2" cy="125.6" r="0.63" fill="#6a3a3a" fill-opacity="0.32"/><circle cx="98.5" cy="116.4" r="0.78" fill="#4a3040" fill-opacity="0.45"/><circle cx="97.2" cy="118.2" r="0.93" fill="#4a3040" fill-opacity="0.58"/><circle cx="89.9" cy="118.5" r="0.80" fill="#4a3040" fill-opacity="0.36"/><circle cx="98.2" cy="120.7" r="0.60" fill="#4a3040" fill-opacity="0.49"/><circle cx="92.7" cy="118.0" r="0.91" fill="#6a3a3a" fill-opacity="0.57"/><circle cx="97.2" cy="113.7" r="0.59" fill="#3e3442" fill-opacity="0.41"/><circle cx="97.2" cy="114.6" r="0.56" fill="#3e3442" fill-opacity="0.45"/><circle cx="97.8" cy="113.6" r="0.75" fill="#3e3442" fill-opacity="0.38"/><circle cx="99.9" cy="120.8" r="0.70" fill="#4a3040" fill-opacity="0.37"/><circle cx="95.4" cy="119.9" r="0.79" fill="#5a3038" fill-opacity="0.69"/><circle cx="93.8" cy="114.5" r="0.87" fill="#3e3442" fill-opacity="0.48"/><circle cx="99.2" cy="121.2" r="0.59" fill="#5a3038" fill-opacity="0.42"/><circle cx="97.6" cy="113.5" r="0.64" fill="#3e3442" fill-opacity="0.39"/><circle cx="100.2" cy="122.9" r="0.88" fill="#3e3442" fill-opacity="0.30"/><circle cx="94.6" cy="122.1" r="0.58" fill="#4a3040" fill-opacity="0.57"/><circle cx="97.5" cy="115.6" r="0.72" fill="#5a3038" fill-opacity="0.48"/><circle cx="89.5" cy="118.1" r="0.59" fill="#6a3a3a" fill-opacity="0.33"/><circle cx="97.0" cy="123.9" r="0.78" fill="#6a3a3a" fill-opacity="0.44"/><circle cx="97.0" cy="116.5" r="0.61" fill="#5a3038" fill-opacity="0.54"/><circle cx="96.9" cy="114.6" r="0.94" fill="#5a3038" fill-opacity="0.46"/><circle cx="96.5" cy="120.3" r="0.72" fill="#5a3038" fill-opacity="0.62"/><circle cx="90.6" cy="123.5" r="0.59" fill="#5a3038" fill-opacity="0.34"/><circle cx="98.9" cy="122.3" r="0.64" fill="#3e3442" fill-opacity="0.40"/><circle cx="93.0" cy="121.6" r="0.68" fill="#4a3040" fill-opacity="0.54"/><circle cx="95.5" cy="116.1" r="0.78" fill="#5a3038" fill-opacity="0.58"/><circle cx="94.0" cy="113.1" r="0.86" fill="#3e3442" fill-opacity="0.41"/><circle cx="97.9" cy="124.3" r="0.67" fill="#3e3442" fill-opacity="0.38"/><circle cx="92.4" cy="119.3" r="0.84" fill="#3e3442" fill-opacity="0.56"/><circle cx="94.7" cy="122.3" r="0.60" fill="#3e3442" fill-opacity="0.56"/><circle cx="93.0" cy="125.7" r="0.89" fill="#4a3040" fill-opacity="0.34"/><circle cx="91.5" cy="113.2" r="0.74" fill="#4a3040" fill-opacity="0.33"/><circle cx="98.3" cy="122.8" r="0.55" fill="#3e3442" fill-opacity="0.42"/><circle cx="92.1" cy="116.0" r="0.57" fill="#3e3442" fill-opacity="0.48"/><circle cx="92.5" cy="119.6" r="0.71" fill="#6a3a3a" fill-opacity="0.56"/><circle cx="98.8" cy="119.7" r="0.55" fill="#3e3442" fill-opacity="0.46"/><circle cx="97.0" cy="119.2" r="0.75" fill="#5a3038" fill-opacity="0.60"/><circle cx="95.7" cy="118.3" r="0.82" fill="#3e3442" fill-opacity="0.68"/><circle cx="91.6" cy="113.9" r="0.77" fill="#4a3040" fill-opacity="0.37"/><circle cx="94.1" cy="119.1" r="0.82" fill="#4a3040" fill-opacity="0.68"/><circle cx="92.0" cy="124.6" r="0.85" fill="#6a3a3a" fill-opacity="0.37"/><circle cx="95.3" cy="113.8" r="0.69" fill="#6a3a3a" fill-opacity="0.46"/><circle cx="99.6" cy="115.1" r="0.72" fill="#4a3040" fill-opacity="0.34"/><circle cx="90.4" cy="115.4" r="0.71" fill="#6a3a3a" fill-opacity="0.35"/><circle cx="98.6" cy="114.7" r="0.65" fill="#3e3442" fill-opacity="0.39"/><circle cx="91.7" cy="117.7" r="0.87" fill="#5a3038" fill-opacity="0.49"/><circle cx="94.8" cy="114.0" r="0.66" fill="#6a3a3a" fill-opacity="0.47"/><circle cx="91.7" cy="113.9" r="0.95" fill="#6a3a3a" fill-opacity="0.37"/><circle cx="92.6" cy="122.6" r="0.64" fill="#6a3a3a" fill-opacity="0.48"/><circle cx="92.0" cy="118.2" r="0.57" fill="#5a3038" fill-opacity="0.52"/><circle cx="97.0" cy="119.6" r="0.59" fill="#4a3040" fill-opacity="0.60"/><circle cx="96.8" cy="125.4" r="0.56" fill="#6a3a3a" fill-opacity="0.36"/><circle cx="94.9" cy="118.5" r="0.77" fill="#3e3442" fill-opacity="0.72"/><circle cx="94.5" cy="121.3" r="0.77" fill="#4a3040" fill-opacity="0.62"/><circle cx="89.6" cy="117.8" r="0.71" fill="#5a3038" fill-opacity="0.34"/><circle cx="91.8" cy="115.4" r="0.63" fill="#3e3442" fill-opacity="0.44"/><circle cx="94.3" cy="121.2" r="0.72" fill="#4a3040" fill-opacity="0.62"/><circle cx="97.3" cy="120.5" r="0.61" fill="#5a3038" fill-opacity="0.56"/><circle cx="91.7" cy="123.2" r="0.73" fill="#6a3a3a" fill-opacity="0.41"/><circle cx="93.1" cy="119.4" r="0.85" fill="#4a3040" fill-opacity="0.61"/><circle cx="93.4" cy="119.3" r="0.60" fill="#3e3442" fill-opacity="0.63"/><circle cx="91.5" cy="113.8" r="0.94" fill="#3e3442" fill-opacity="0.36"/><circle cx="96.8" cy="122.2" r="0.64" fill="#6a3a3a" fill-opacity="0.53"/><circle cx="99.0" cy="113.5" r="0.89" fill="#4a3040" fill-opacity="0.32"/><circle cx="100.1" cy="120.5" r="0.70" fill="#6a3a3a" fill-opacity="0.35"/><circle cx="94.0" cy="121.3" r="0.90" fill="#6a3a3a" fill-opacity="0.60"/><circle cx="94.8" cy="122.6" r="0.95" fill="#5a3038" fill-opacity="0.55"/><circle cx="96.1" cy="126.3" r="0.87" fill="#6a3a3a" fill-opacity="0.33"/><circle cx="93.9" cy="125.4" r="0.88" fill="#4a3040" fill-opacity="0.38"/><circle cx="97.1" cy="111.6" r="0.90" fill="#6a3a3a" fill-opacity="0.30"/><circle cx="89.9" cy="120.5" r="0.87" fill="#4a3040" fill-opacity="0.36"/><circle cx="99.1" cy="124.4" r="0.89" fill="#5a3038" fill-opacity="0.32"/><circle cx="95.8" cy="117.9" r="0.58" fill="#6a3a3a" fill-opacity="0.66"/><circle cx="92.5" cy="113.4" r="0.58" fill="#6a3a3a" fill-opacity="0.38"/><circle cx="92.3" cy="125.0" r="0.92" fill="#3e3442" fill-opacity="0.36"/><circle cx="90.9" cy="121.3" r="0.84" fill="#3e3442" fill-opacity="0.41"/><circle cx="94.9" cy="114.1" r="0.66" fill="#3e3442" fill-opacity="0.48"/><circle cx="92.5" cy="112.3" r="0.92" fill="#6a3a3a" fill-opacity="0.33"/><circle cx="98.4" cy="120.3" r="0.56" fill="#5a3038" fill-opacity="0.48"/><circle cx="97.1" cy="122.4" r="0.94" fill="#3e3442" fill-opacity="0.50"/><circle cx="89.4" cy="117.2" r="0.60" fill="#5a3038" fill-opacity="0.32"/><circle cx="89.6" cy="118.0" r="0.68" fill="#5a3038" fill-opacity="0.34"/><circle cx="96.9" cy="119.4" r="0.78" fill="#5a3038" fill-opacity="0.60"/><circle cx="89.6" cy="120.3" r="0.84" fill="#5a3038" fill-opacity="0.34"/><circle cx="93.9" cy="125.3" r="0.58" fill="#4a3040" fill-opacity="0.39"/><circle cx="98.9" cy="120.3" r="0.59" fill="#5a3038" fill-opacity="0.45"/><circle cx="95.6" cy="118.5" r="0.95" fill="#4a3040" fill-opacity="0.70"/><circle cx="93.1" cy="114.0" r="0.89" fill="#4a3040" fill-opacity="0.44"/><circle cx="94.9" cy="111.7" r="0.78" fill="#4a3040" fill-opacity="0.34"/><circle cx="93.9" cy="120.5" r="0.90" fill="#3e3442" fill-opacity="0.63"/><circle cx="96.2" cy="113.8" r="0.89" fill="#5a3038" fill-opacity="0.45"/><circle cx="94.3" cy="113.4" r="0.68" fill="#6a3a3a" fill-opacity="0.43"/><circle cx="93.6" cy="124.5" r="0.75" fill="#6a3a3a" fill-opacity="0.42"/><circle cx="96.6" cy="122.2" r="0.63" fill="#3e3442" fill-opacity="0.53"/><circle cx="95.5" cy="120.2" r="0.59" fill="#5a3038" fill-opacity="0.67"/><circle cx="131.9" cy="99.6" r="0.70" fill="#4a3040" fill-opacity="0.34"/><circle cx="136.6" cy="107.8" r="0.77" fill="#6a3a3a" fill-opacity="0.51"/><circle cx="133.8" cy="103.2" r="0.94" fill="#3e3442" fill-opacity="0.55"/><circle cx="135.4" cy="109.2" r="0.75" fill="#5a3038" fill-opacity="0.49"/><circle cx="131.4" cy="106.4" r="0.69" fill="#6a3a3a" fill-opacity="0.71"/><circle cx="123.8" cy="108.5" r="0.88" fill="#6a3a3a" fill-opacity="0.35"/><circle cx="128.7" cy="106.3" r="0.92" fill="#4a3040" fill-opacity="0.60"/><circle cx="131.6" cy="99.8" r="0.71" fill="#4a3040" fill-opacity="0.35"/><circle cx="131.3" cy="108.7" r="0.80" fill="#3e3442" fill-opacity="0.57"/><circle cx="132.9" cy="101.8" r="0.73" fill="#5a3038" fill-opacity="0.48"/><circle cx="128.3" cy="100.2" r="0.76" fill="#6a3a3a" fill-opacity="0.34"/><circle cx="135.6" cy="112.2" r="0.78" fill="#4a3040" fill-opacity="0.32"/><circle cx="141.1" cy="105.9" r="0.94" fill="#5a3038" fill-opacity="0.34"/><circle cx="137.4" cy="109.2" r="0.68" fill="#5a3038" fill-opacity="0.43"/><circle cx="128.6" cy="103.8" r="0.63" fill="#6a3a3a" fill-opacity="0.54"/><circle cx="135.6" cy="102.4" r="0.85" fill="#3e3442" fill-opacity="0.47"/><circle cx="135.4" cy="107.7" r="0.87" fill="#3e3442" fill-opacity="0.56"/><circle cx="126.7" cy="111.8" r="0.67" fill="#4a3040" fill-opacity="0.31"/><circle cx="139.8" cy="103.3" r="0.63" fill="#4a3040" fill-opacity="0.36"/><circle cx="133.8" cy="112.1" r="0.92" fill="#4a3040" fill-opacity="0.35"/><circle cx="129.2" cy="101.4" r="0.72" fill="#4a3040" fill-opacity="0.43"/><circle cx="124.8" cy="109.0" r="0.90" fill="#3e3442" fill-opacity="0.37"/><circle cx="134.6" cy="99.7" r="0.74" fill="#6a3a3a" fill-opacity="0.33"/><circle cx="131.2" cy="106.0" r="0.57" fill="#6a3a3a" fill-opacity="0.71"/><circle cx="139.8" cy="103.7" r="0.90" fill="#4a3040" fill-opacity="0.37"/><circle cx="136.0" cy="104.0" r="0.68" fill="#4a3040" fill-opacity="0.53"/><circle cx="133.9" cy="109.4" r="0.93" fill="#3e3442" fill-opacity="0.52"/><circle cx="133.9" cy="99.2" r="0.90" fill="#6a3a3a" fill-opacity="0.30"/><circle cx="136.6" cy="111.7" r="0.68" fill="#4a3040" fill-opacity="0.33"/><circle cx="136.5" cy="112.1" r="0.84" fill="#3e3442" fill-opacity="0.31"/><circle cx="123.7" cy="102.5" r="0.64" fill="#4a3040" fill-opacity="0.31"/><circle cx="135.3" cy="101.4" r="0.71" fill="#5a3038" fill-opacity="0.42"/><circle cx="135.7" cy="103.3" r="0.85" fill="#4a3040" fill-opacity="0.51"/><circle cx="133.4" cy="99.9" r="0.59" fill="#4a3040" fill-opacity="0.35"/><circle cx="134.1" cy="106.1" r="0.89" fill="#4a3040" fill-opacity="0.65"/><circle cx="130.9" cy="104.6" r="0.62" fill="#6a3a3a" fill-opacity="0.64"/><circle cx="125.8" cy="107.5" r="0.57" fill="#3e3442" fill-opacity="0.45"/><circle cx="132.9" cy="102.3" r="0.78" fill="#5a3038" fill-opacity="0.51"/><circle cx="141.0" cy="108.7" r="0.71" fill="#3e3442" fill-opacity="0.31"/><circle cx="129.7" cy="99.6" r="0.71" fill="#5a3038" fill-opacity="0.32"/><circle cx="137.0" cy="106.5" r="0.81" fill="#4a3040" fill-opacity="0.52"/><circle cx="130.6" cy="112.0" r="0.83" fill="#3e3442" fill-opacity="0.36"/><circle cx="137.6" cy="103.3" r="0.57" fill="#3e3442" fill-opacity="0.44"/><circle cx="131.2" cy="107.8" r="0.57" fill="#6a3a3a" fill-opacity="0.63"/><circle cx="130.7" cy="106.4" r="0.79" fill="#3e3442" fill-opacity="0.68"/><circle cx="132.2" cy="101.4" r="0.74" fill="#5a3038" fill-opacity="0.46"/><circle cx="136.9" cy="102.3" r="0.78" fill="#6a3a3a" fill-opacity="0.43"/><circle cx="128.5" cy="109.7" r="0.81" fill="#3e3442" fill-opacity="0.47"/><circle cx="137.1" cy="108.3" r="0.66" fill="#3e3442" fill-opacity="0.48"/><circle cx="129.5" cy="106.7" r="0.70" fill="#3e3442" fill-opacity="0.63"/><circle cx="130.9" cy="100.2" r="0.72" fill="#5a3038" fill-opacity="0.37"/><circle cx="129.7" cy="99.7" r="0.69" fill="#4a3040" fill-opacity="0.33"/><circle cx="129.7" cy="104.5" r="0.82" fill="#6a3a3a" fill-opacity="0.61"/><circle cx="132.1" cy="107.5" r="0.74" fill="#6a3a3a" fill-opacity="0.66"/><circle cx="128.0" cy="111.5" r="0.83" fill="#5a3038" fill-opacity="0.35"/><circle cx="131.0" cy="112.9" r="0.58" fill="#4a3040" fill-opacity="0.30"/><circle cx="141.5" cy="104.7" r="0.88" fill="#4a3040" fill-opacity="0.32"/><circle cx="124.9" cy="107.8" r="0.69" fill="#4a3040" fill-opacity="0.41"/><circle cx="130.1" cy="102.2" r="0.59" fill="#6a3a3a" fill-opacity="0.49"/><circle cx="128.8" cy="109.5" r="0.66" fill="#4a3040" fill-opacity="0.49"/><circle cx="139.1" cy="106.9" r="0.92" fill="#5a3038" fill-opacity="0.42"/><circle cx="140.3" cy="107.2" r="0.67" fill="#4a3040" fill-opacity="0.37"/><circle cx="133.6" cy="106.2" r="0.79" fill="#5a3038" fill-opacity="0.68"/><circle cx="131.1" cy="109.7" r="0.82" fill="#5a3038" fill-opacity="0.51"/><circle cx="132.0" cy="106.3" r="0.87" fill="#5a3038" fill-opacity="0.73"/><circle cx="124.3" cy="110.0" r="0.59" fill="#5a3038" fill-opacity="0.32"/><circle cx="140.0" cy="102.9" r="0.57" fill="#5a3038" fill-opacity="0.34"/><circle cx="137.6" cy="101.8" r="0.86" fill="#5a3038" fill-opacity="0.38"/><circle cx="131.1" cy="100.7" r="0.60" fill="#4a3040" fill-opacity="0.41"/><circle cx="137.0" cy="105.0" r="0.74" fill="#3e3442" fill-opacity="0.52"/><circle cx="130.6" cy="102.8" r="0.61" fill="#6a3a3a" fill-opacity="0.54"/><circle cx="134.2" cy="111.7" r="0.95" fill="#4a3040" fill-opacity="0.37"/><circle cx="139.6" cy="102.9" r="0.63" fill="#6a3a3a" fill-opacity="0.35"/><circle cx="132.6" cy="111.2" r="0.58" fill="#4a3040" fill-opacity="0.41"/><circle cx="129.6" cy="106.4" r="0.74" fill="#3e3442" fill-opacity="0.64"/><circle cx="137.6" cy="103.2" r="0.69" fill="#3e3442" fill-opacity="0.44"/><circle cx="122.6" cy="108.0" r="0.86" fill="#4a3040" fill-opacity="0.31"/><circle cx="136.2" cy="108.8" r="0.73" fill="#6a3a3a" fill-opacity="0.49"/><circle cx="123.8" cy="106.9" r="0.64" fill="#5a3038" fill-opacity="0.38"/><circle cx="140.6" cy="109.2" r="0.91" fill="#6a3a3a" fill-opacity="0.31"/><circle cx="137.2" cy="107.1" r="0.90" fill="#4a3040" fill-opacity="0.51"/><circle cx="138.6" cy="105.6" r="0.75" fill="#5a3038" fill-opacity="0.45"/><circle cx="138.0" cy="106.4" r="0.69" fill="#6a3a3a" fill-opacity="0.48"/><circle cx="126.3" cy="110.3" r="0.59" fill="#6a3a3a" fill-opacity="0.37"/><circle cx="135.1" cy="112.1" r="0.70" fill="#3e3442" fill-opacity="0.33"/><circle cx="139.0" cy="110.1" r="0.88" fill="#4a3040" fill-opacity="0.34"/><circle cx="139.2" cy="103.0" r="0.66" fill="#5a3038" fill-opacity="0.38"/><circle cx="130.5" cy="109.6" r="0.88" fill="#4a3040" fill-opacity="0.51"/><circle cx="138.5" cy="105.9" r="0.70" fill="#4a3040" fill-opacity="0.46"/><circle cx="126.4" cy="109.8" r="0.74" fill="#6a3a3a" fill-opacity="0.40"/><circle cx="139.3" cy="107.9" r="0.57" fill="#5a3038" fill-opacity="0.40"/><circle cx="126.1" cy="106.9" r="0.73" fill="#5a3038" fill-opacity="0.48"/><circle cx="126.3" cy="106.7" r="0.83" fill="#5a3038" fill-opacity="0.49"/><circle cx="133.8" cy="104.6" r="0.58" fill="#5a3038" fill-opacity="0.63"/><circle cx="140.3" cy="105.3" r="0.61" fill="#5a3038" fill-opacity="0.37"/><circle cx="140.4" cy="103.7" r="0.91" fill="#3e3442" fill-opacity="0.34"/><circle cx="127.3" cy="105.7" r="0.56" fill="#6a3a3a" fill-opacity="0.54"/><circle cx="123.7" cy="107.7" r="0.79" fill="#3e3442" fill-opacity="0.36"/><circle cx="133.8" cy="109.0" r="0.70" fill="#4a3040" fill-opacity="0.54"/><circle cx="140.4" cy="108.6" r="0.59" fill="#3e3442" fill-opacity="0.33"/><circle cx="124.4" cy="106.5" r="0.68" fill="#3e3442" fill-opacity="0.40"/><circle cx="130.1" cy="112.5" r="0.82" fill="#4a3040" fill-opacity="0.32"/><circle cx="138.4" cy="105.2" r="0.61" fill="#6a3a3a" fill-opacity="0.46"/><circle cx="123.1" cy="107.8" r="0.91" fill="#3e3442" fill-opacity="0.33"/><circle cx="123.7" cy="102.7" r="0.89" fill="#6a3a3a" fill-opacity="0.32"/><circle cx="125.6" cy="106.4" r="0.69" fill="#3e3442" fill-opacity="0.46"/><circle cx="130.5" cy="103.6" r="0.78" fill="#6a3a3a" fill-opacity="0.58"/><circle cx="140.2" cy="107.3" r="0.84" fill="#3e3442" fill-opacity="0.37"/><circle cx="131.0" cy="103.3" r="0.89" fill="#5a3038" fill-opacity="0.57"/><circle cx="135.1" cy="103.6" r="0.62" fill="#3e3442" fill-opacity="0.54"/><circle cx="137.9" cy="111.3" r="0.74" fill="#6a3a3a" fill-opacity="0.32"/><circle cx="137.2" cy="106.4" r="0.72" fill="#5a3038" fill-opacity="0.52"/><circle cx="132.2" cy="108.2" r="0.62" fill="#3e3442" fill-opacity="0.61"/><circle cx="138.6" cy="103.7" r="0.59" fill="#5a3038" fill-opacity="0.42"/><circle cx="133.5" cy="100.7" r="0.80" fill="#4a3040" fill-opacity="0.40"/><circle cx="134.6" cy="106.2" r="0.85" fill="#6a3a3a" fill-opacity="0.63"/><circle cx="139.8" cy="104.5" r="0.71" fill="#4a3040" fill-opacity="0.38"/><circle cx="139.0" cy="109.8" r="0.59" fill="#3e3442" fill-opacity="0.35"/><circle cx="124.6" cy="105.6" r="0.76" fill="#5a3038" fill-opacity="0.42"/><circle cx="125.4" cy="105.9" r="0.76" fill="#5a3038" fill-opacity="0.45"/><circle cx="124.9" cy="104.0" r="0.70" fill="#4a3040" fill-opacity="0.41"/><circle cx="124.8" cy="102.2" r="0.76" fill="#6a3a3a" fill-opacity="0.35"/><circle cx="135.1" cy="108.9" r="0.55" fill="#6a3a3a" fill-opacity="0.52"/><circle cx="127.4" cy="108.3" r="0.71" fill="#3e3442" fill-opacity="0.49"/><circle cx="130.5" cy="108.1" r="0.90" fill="#3e3442" fill-opacity="0.60"/><circle cx="132.5" cy="103.4" r="0.56" fill="#6a3a3a" fill-opacity="0.58"/><circle cx="126.9" cy="108.0" r="0.68" fill="#3e3442" fill-opacity="0.49"/><circle cx="130.9" cy="108.8" r="0.60" fill="#5a3038" fill-opacity="0.56"/><circle cx="124.5" cy="138.0" r="0.59" fill="#6a3a3a" fill-opacity="0.34"/><circle cx="128.0" cy="134.2" r="0.73" fill="#5a3038" fill-opacity="0.31"/><circle cx="125.4" cy="137.0" r="0.73" fill="#3e3442" fill-opacity="0.38"/><circle cx="129.0" cy="138.2" r="0.88" fill="#4a3040" fill-opacity="0.68"/><circle cx="126.3" cy="141.7" r="0.72" fill="#3e3442" fill-opacity="0.41"/><circle cx="131.2" cy="143.2" r="0.70" fill="#5a3038" fill-opacity="0.32"/><circle cx="129.1" cy="135.3" r="0.63" fill="#5a3038" fill-opacity="0.42"/><circle cx="126.3" cy="142.9" r="0.94" fill="#6a3a3a" fill-opacity="0.32"/><circle cx="127.4" cy="138.3" r="0.92" fill="#6a3a3a" fill-opacity="0.60"/><circle cx="129.7" cy="142.3" r="0.68" fill="#6a3a3a" fill-opacity="0.45"/><circle cx="127.0" cy="142.1" r="0.58" fill="#4a3040" fill-opacity="0.42"/><circle cx="127.4" cy="135.8" r="0.81" fill="#5a3038" fill-opacity="0.43"/><circle cx="129.7" cy="135.3" r="0.85" fill="#5a3038" fill-opacity="0.41"/><circle cx="128.9" cy="134.5" r="0.63" fill="#4a3040" fill-opacity="0.34"/><circle cx="129.9" cy="134.5" r="0.58" fill="#5a3038" fill-opacity="0.34"/><circle cx="132.8" cy="139.0" r="0.73" fill="#4a3040" fill-opacity="0.41"/><circle cx="129.6" cy="138.8" r="0.75" fill="#5a3038" fill-opacity="0.69"/><circle cx="131.8" cy="141.4" r="0.61" fill="#6a3a3a" fill-opacity="0.41"/><circle cx="130.7" cy="143.1" r="0.81" fill="#6a3a3a" fill-opacity="0.35"/><circle cx="129.0" cy="140.4" r="0.79" fill="#4a3040" fill-opacity="0.63"/><circle cx="126.0" cy="135.6" r="0.81" fill="#3e3442" fill-opacity="0.34"/><circle cx="124.3" cy="139.7" r="0.71" fill="#3e3442" fill-opacity="0.32"/><circle cx="128.9" cy="135.4" r="0.55" fill="#3e3442" fill-opacity="0.43"/><circle cx="125.9" cy="136.6" r="0.88" fill="#3e3442" fill-opacity="0.40"/><circle cx="126.0" cy="135.9" r="0.65" fill="#6a3a3a" fill-opacity="0.36"/><circle cx="130.8" cy="141.4" r="0.65" fill="#6a3a3a" fill-opacity="0.48"/><circle cx="130.6" cy="137.3" r="0.56" fill="#5a3038" fill-opacity="0.54"/><circle cx="126.3" cy="139.2" r="0.70" fill="#3e3442" fill-opacity="0.51"/><circle cx="125.3" cy="135.9" r="0.60" fill="#5a3038" fill-opacity="0.32"/><circle cx="131.7" cy="141.9" r="0.60" fill="#3e3442" fill-opacity="0.40"/><circle cx="127.6" cy="142.2" r="0.59" fill="#3e3442" fill-opacity="0.43"/><circle cx="124.9" cy="136.5" r="0.81" fill="#6a3a3a" fill-opacity="0.31"/><circle cx="126.5" cy="138.5" r="0.64" fill="#6a3a3a" fill-opacity="0.52"/><circle cx="127.2" cy="134.5" r="0.57" fill="#3e3442" fill-opacity="0.31"/><circle cx="132.9" cy="137.7" r="0.57" fill="#6a3a3a" fill-opacity="0.38"/><circle cx="130.5" cy="137.8" r="0.77" fill="#3e3442" fill-opacity="0.58"/><circle cx="132.3" cy="139.5" r="0.59" fill="#6a3a3a" fill-opacity="0.45"/><circle cx="131.5" cy="136.5" r="0.61" fill="#6a3a3a" fill-opacity="0.43"/><circle cx="131.9" cy="140.0" r="0.74" fill="#3e3442" fill-opacity="0.47"/><circle cx="129.7" cy="143.7" r="0.71" fill="#3e3442" fill-opacity="0.32"/><circle cx="93.7" cy="165.7" r="0.67" fill="#6a3a3a" fill-opacity="0.34"/><circle cx="104.6" cy="168.2" r="0.72" fill="#6a3a3a" fill-opacity="0.36"/><circle cx="100.4" cy="165.1" r="0.72" fill="#4a3040" fill-opacity="0.65"/><circle cx="103.7" cy="166.4" r="0.76" fill="#6a3a3a" fill-opacity="0.51"/><circle cx="101.5" cy="167.2" r="0.61" fill="#5a3038" fill-opacity="0.58"/><circle cx="99.0" cy="164.0" r="0.57" fill="#6a3a3a" fill-opacity="0.52"/><circle cx="99.6" cy="166.9" r="0.74" fill="#3e3442" fill-opacity="0.64"/><circle cx="96.1" cy="165.9" r="0.84" fill="#6a3a3a" fill-opacity="0.50"/><circle cx="97.8" cy="165.0" r="0.90" fill="#3e3442" fill-opacity="0.57"/><circle cx="104.6" cy="165.1" r="0.56" fill="#6a3a3a" fill-opacity="0.44"/><circle cx="95.6" cy="165.3" r="0.84" fill="#4a3040" fill-opacity="0.46"/><circle cx="97.5" cy="166.3" r="0.86" fill="#3e3442" fill-opacity="0.58"/><circle cx="103.3" cy="168.5" r="0.69" fill="#6a3a3a" fill-opacity="0.39"/><circle cx="97.6" cy="165.6" r="0.64" fill="#3e3442" fill-opacity="0.59"/><circle cx="96.0" cy="164.3" r="0.61" fill="#5a3038" fill-opacity="0.43"/><circle cx="104.3" cy="168.7" r="0.67" fill="#3e3442" fill-opacity="0.34"/><circle cx="99.1" cy="168.9" r="0.82" fill="#3e3442" fill-opacity="0.42"/><circle cx="102.4" cy="165.4" r="0.88" fill="#5a3038" fill-opacity="0.58"/><circle cx="97.6" cy="162.8" r="0.95" fill="#4a3040" fill-opacity="0.36"/><circle cx="96.5" cy="168.1" r="0.83" fill="#6a3a3a" fill-opacity="0.43"/><circle cx="98.1" cy="166.1" r="0.68" fill="#3e3442" fill-opacity="0.63"/><circle cx="96.4" cy="167.4" r="0.86" fill="#5a3038" fill-opacity="0.47"/><circle cx="100.9" cy="163.1" r="0.62" fill="#5a3038" fill-opacity="0.42"/><circle cx="104.7" cy="168.9" r="0.68" fill="#5a3038" fill-opacity="0.31"/><circle cx="94.3" cy="167.5" r="0.74" fill="#6a3a3a" fill-opacity="0.35"/><circle cx="106.5" cy="165.1" r="0.62" fill="#4a3040" fill-opacity="0.32"/><circle cx="94.1" cy="164.4" r="0.90" fill="#4a3040" fill-opacity="0.33"/><circle cx="104.2" cy="163.4" r="0.64" fill="#5a3038" fill-opacity="0.35"/><circle cx="105.1" cy="163.7" r="0.75" fill="#6a3a3a" fill-opacity="0.33"/><circle cx="99.8" cy="169.1" r="0.90" fill="#4a3040" fill-opacity="0.41"/><circle cx="100.8" cy="162.4" r="0.69" fill="#6a3a3a" fill-opacity="0.34"/><circle cx="104.5" cy="164.7" r="0.72" fill="#3e3442" fill-opacity="0.42"/><circle cx="105.7" cy="167.9" r="0.67" fill="#3e3442" fill-opacity="0.33"/><circle cx="105.6" cy="167.4" r="0.89" fill="#6a3a3a" fill-opacity="0.35"/><circle cx="95.9" cy="163.1" r="0.84" fill="#4a3040" fill-opacity="0.33"/><circle cx="98.8" cy="163.6" r="0.89" fill="#6a3a3a" fill-opacity="0.46"/><circle cx="98.7" cy="168.4" r="0.62" fill="#3e3442" fill-opacity="0.47"/><circle cx="102.9" cy="168.1" r="0.60" fill="#6a3a3a" fill-opacity="0.45"/><circle cx="101.0" cy="163.5" r="0.79" fill="#5a3038" fill-opacity="0.47"/><circle cx="100.5" cy="165.7" r="0.82" fill="#6a3a3a" fill-opacity="0.70"/><circle cx="106.7" cy="164.8" r="0.64" fill="#3e3442" fill-opacity="0.30"/><circle cx="101.0" cy="166.8" r="0.56" fill="#3e3442" fill-opacity="0.64"/><circle cx="99.7" cy="168.1" r="0.89" fill="#3e3442" fill-opacity="0.52"/><circle cx="103.5" cy="165.1" r="0.90" fill="#4a3040" fill-opacity="0.50"/><circle cx="97.7" cy="168.3" r="0.78" fill="#5a3038" fill-opacity="0.45"/><circle cx="126.2" cy="167.3" r="0.69" fill="#5a3038" fill-opacity="0.57"/><circle cx="130.1" cy="163.8" r="0.65" fill="#5a3038" fill-opacity="0.39"/><circle cx="130.8" cy="163.2" r="0.59" fill="#3e3442" fill-opacity="0.31"/><circle cx="128.4" cy="167.5" r="0.60" fill="#4a3040" fill-opacity="0.68"/><circle cx="127.7" cy="167.3" r="0.60" fill="#4a3040" fill-opacity="0.66"/><circle cx="127.1" cy="169.3" r="0.82" fill="#5a3038" fill-opacity="0.47"/><circle cx="130.4" cy="164.4" r="0.85" fill="#5a3038" fill-opacity="0.44"/><circle cx="126.8" cy="163.8" r="0.59" fill="#5a3038" fill-opacity="0.36"/><circle cx="129.9" cy="169.4" r="0.62" fill="#3e3442" fill-opacity="0.47"/><circle cx="132.9" cy="168.4" r="0.62" fill="#6a3a3a" fill-opacity="0.46"/><circle cx="123.7" cy="165.5" r="0.66" fill="#4a3040" fill-opacity="0.37"/><circle cx="127.4" cy="169.0" r="0.91" fill="#3e3442" fill-opacity="0.50"/><circle cx="125.9" cy="169.2" r="0.77" fill="#5a3038" fill-opacity="0.43"/><circle cx="128.8" cy="164.4" r="0.70" fill="#3e3442" fill-opacity="0.46"/><circle cx="130.5" cy="168.9" r="0.80" fill="#6a3a3a" fill-opacity="0.52"/><circle cx="127.8" cy="169.9" r="0.59" fill="#6a3a3a" fill-opacity="0.41"/><circle cx="133.5" cy="168.0" r="0.85" fill="#4a3040" fill-opacity="0.44"/><circle cx="122.3" cy="166.2" r="0.92" fill="#5a3038" fill-opacity="0.31"/><circle cx="127.8" cy="168.1" r="0.69" fill="#5a3038" fill-opacity="0.60"/><circle cx="134.2" cy="165.4" r="0.71" fill="#3e3442" fill-opacity="0.37"/><circle cx="126.2" cy="169.9" r="0.63" fill="#5a3038" fill-opacity="0.38"/><circle cx="132.6" cy="167.9" r="0.66" fill="#3e3442" fill-opacity="0.50"/><circle cx="132.0" cy="163.8" r="0.68" fill="#3e3442" fill-opacity="0.35"/><circle cx="133.3" cy="165.2" r="0.58" fill="#4a3040" fill-opacity="0.40"/><circle cx="123.1" cy="167.4" r="0.72" fill="#6a3a3a" fill-opacity="0.37"/><circle cx="134.8" cy="165.6" r="0.86" fill="#5a3038" fill-opacity="0.35"/><circle cx="129.2" cy="163.8" r="0.94" fill="#5a3038" fill-opacity="0.39"/><circle cx="131.0" cy="163.5" r="0.69" fill="#3e3442" fill-opacity="0.33"/><circle cx="129.7" cy="168.3" r="0.88" fill="#5a3038" fill-opacity="0.60"/><circle cx="131.2" cy="170.5" r="0.77" fill="#3e3442" fill-opacity="0.33"/><circle cx="125.5" cy="166.1" r="0.75" fill="#4a3040" fill-opacity="0.50"/><circle cx="123.4" cy="169.0" r="0.84" fill="#5a3038" fill-opacity="0.33"/><circle cx="132.7" cy="166.8" r="0.64" fill="#4a3040" fill-opacity="0.51"/><circle cx="129.2" cy="167.5" r="0.60" fill="#4a3040" fill-opacity="0.69"/><circle cx="130.6" cy="165.7" r="0.83" fill="#3e3442" fill-opacity="0.57"/><circle cx="132.7" cy="166.2" r="0.71" fill="#4a3040" fill-opacity="0.49"/><circle cx="135.5" cy="165.8" r="0.61" fill="#5a3038" fill-opacity="0.31"/><circle cx="127.0" cy="169.2" r="0.83" fill="#4a3040" fill-opacity="0.48"/><circle cx="129.8" cy="164.0" r="0.88" fill="#3e3442" fill-opacity="0.40"/><circle cx="128.4" cy="165.0" r="0.66" fill="#5a3038" fill-opacity="0.52"/><circle cx="51.4" cy="140.7" r="0.83" fill="#6a3a3a" fill-opacity="0.43"/><circle cx="54.5" cy="138.4" r="0.80" fill="#5a3038" fill-opacity="0.51"/><circle cx="54.2" cy="137.2" r="0.71" fill="#6a3a3a" fill-opacity="0.34"/><circle cx="54.4" cy="140.1" r="0.81" fill="#5a3038" fill-opacity="0.71"/><circle cx="56.7" cy="139.6" r="0.67" fill="#5a3038" fill-opacity="0.44"/><circle cx="55.8" cy="139.2" r="0.88" fill="#5a3038" fill-opacity="0.51"/><circle cx="53.3" cy="141.7" r="0.77" fill="#3e3442" fill-opacity="0.48"/><circle cx="54.2" cy="140.7" r="0.89" fill="#4a3040" fill-opacity="0.65"/><circle cx="52.3" cy="141.1" r="0.71" fill="#5a3038" fill-opacity="0.50"/><circle cx="57.5" cy="140.1" r="0.87" fill="#6a3a3a" fill-opacity="0.36"/><circle cx="55.6" cy="140.6" r="0.72" fill="#6a3a3a" fill-opacity="0.55"/><circle cx="56.1" cy="139.1" r="0.58" fill="#3e3442" fill-opacity="0.47"/><circle cx="52.3" cy="141.5" r="0.91" fill="#6a3a3a" fill-opacity="0.45"/><circle cx="56.8" cy="140.1" r="0.92" fill="#3e3442" fill-opacity="0.44"/></g>
<path d="M50.20,66.20 C51.18,65.05 53.60,64.57 55.30,64.40 C57.00,64.23 58.70,64.38 60.40,65.20 C62.10,66.02 63.97,67.77 65.50,69.30 C67.03,70.83 69.00,72.70 69.60,74.40 C70.20,76.10 69.78,77.97 69.10,79.50 C68.42,81.03 66.77,82.57 65.50,83.60 C64.23,84.63 62.68,85.53 61.50,85.70 C60.32,85.87 59.43,85.47 58.40,84.60 C57.37,83.73 56.50,82.03 55.30,80.50 C54.10,78.97 52.18,76.93 51.20,75.40 C50.22,73.87 49.57,72.83 49.40,71.30 C49.23,69.77 49.22,67.35 50.20,66.20 Z" fill="url(#tumA)" filter="url(#blur06)"/>
<ellipse cx="55.5" cy="70.5" rx="4.5" ry="4.0" fill="#e08060" fill-opacity="0.55" filter="url(#blur06)"/>
<ellipse cx="63" cy="78" rx="4" ry="5" fill="#a02818" fill-opacity="0.45" filter="url(#blur06)"/>
<path d="M85.00,75.40 C85.25,73.87 85.98,71.48 87.00,70.30 C88.02,69.12 89.57,68.67 91.10,68.30 C92.63,67.93 94.67,67.58 96.20,68.10 C97.73,68.62 99.37,70.00 100.30,71.40 C101.23,72.80 101.80,74.98 101.80,76.50 C101.80,78.02 100.98,79.32 100.30,80.50 C99.62,81.68 98.72,83.17 97.70,83.60 C96.68,84.03 95.30,83.43 94.20,83.10 C93.10,82.77 92.13,81.77 91.10,81.60 C90.07,81.43 88.93,82.45 88.00,82.10 C87.07,81.75 86.00,80.62 85.50,79.50 C85.00,78.38 84.75,76.93 85.00,75.40 Z" fill="url(#tumB)" filter="url(#blur06)"/>
<ellipse cx="96.5" cy="74.5" rx="4.5" ry="5.0" fill="#f0c090" fill-opacity="0.6" filter="url(#blur06)"/>
<ellipse cx="87.5" cy="77.5" rx="2.5" ry="3.5" fill="#a84020" fill-opacity="0.5" filter="url(#blur06)"/>
<path d="M132.93,72.21 C132.61,73.45 132.58,74.83 131.63,75.67 C130.67,76.52 128.80,76.99 127.20,77.28 C125.60,77.58 123.66,77.79 122.02,77.44 C120.39,77.10 118.35,76.20 117.37,75.22 C116.39,74.23 116.26,72.69 116.15,71.54 C116.05,70.38 116.33,69.41 116.72,68.28 C117.12,67.14 117.33,65.34 118.53,64.74 C119.73,64.15 122.23,64.53 123.92,64.73 C125.61,64.93 127.06,65.35 128.66,65.94 C130.26,66.53 132.81,67.22 133.52,68.26 C134.24,69.31 133.25,70.98 132.93,72.21 Z" fill="url(#tumB)" filter="url(#blur06)"/>
<ellipse cx="123.5" cy="70.5" rx="5.5" ry="3.5" fill="#f0b0a0" fill-opacity="0.55" filter="url(#blur06)"/>
<path d="M63.02,114.60 C62.92,115.91 62.37,117.19 61.71,118.32 C61.04,119.44 60.15,120.81 59.04,121.34 C57.92,121.87 56.26,121.77 55.02,121.50 C53.78,121.23 52.61,120.55 51.60,119.75 C50.59,118.94 49.56,117.94 48.97,116.69 C48.39,115.44 47.79,113.62 48.08,112.24 C48.38,110.87 49.60,109.38 50.73,108.44 C51.86,107.50 53.50,106.65 54.86,106.60 C56.23,106.55 57.66,107.51 58.91,108.15 C60.16,108.79 61.68,109.38 62.36,110.45 C63.05,111.53 63.13,113.29 63.02,114.60 Z" fill="url(#tumB)" filter="url(#blur06)"/>
<ellipse cx="55" cy="113" rx="4" ry="4" fill="#f0b090" fill-opacity="0.5" filter="url(#blur06)"/>
<path d="M101.68,111.30 C101.64,112.46 101.43,113.76 100.84,114.73 C100.26,115.71 99.22,116.62 98.17,117.14 C97.12,117.67 95.69,118.04 94.56,117.87 C93.42,117.69 92.24,116.88 91.34,116.10 C90.45,115.31 89.32,114.21 89.16,113.16 C89.00,112.11 89.99,110.86 90.39,109.80 C90.80,108.74 90.91,107.65 91.60,106.80 C92.30,105.96 93.48,104.92 94.56,104.73 C95.63,104.54 97.00,105.14 98.08,105.65 C99.16,106.15 100.43,106.80 101.03,107.74 C101.63,108.69 101.71,110.14 101.68,111.30 Z" fill="url(#tumC)" filter="url(#blur06)"/>
<path d="M135.92,109.25 C135.86,110.42 135.02,111.89 134.01,112.70 C133.01,113.50 131.27,113.94 129.87,114.07 C128.48,114.21 126.86,113.98 125.63,113.50 C124.41,113.02 123.52,112.08 122.53,111.21 C121.55,110.34 120.02,109.37 119.72,108.29 C119.41,107.22 120.10,105.83 120.69,104.75 C121.28,103.66 122.08,102.33 123.25,101.80 C124.42,101.27 126.22,101.48 127.71,101.56 C129.19,101.65 131.06,101.61 132.17,102.29 C133.29,102.98 133.75,104.50 134.38,105.66 C135.00,106.81 135.98,108.08 135.92,109.25 Z" fill="url(#tumA)" filter="url(#blur06)"/>
<ellipse cx="126.5" cy="107" rx="4" ry="3" fill="#f09080" fill-opacity="0.5" filter="url(#blur06)"/>
<path d="M57.94,140.75 C57.87,141.25 57.23,141.67 56.76,142.12 C56.29,142.58 55.82,143.38 55.13,143.47 C54.45,143.55 53.49,142.88 52.67,142.63 C51.86,142.37 50.80,142.37 50.26,141.96 C49.71,141.54 49.42,140.70 49.41,140.14 C49.40,139.58 49.89,139.11 50.18,138.59 C50.47,138.06 50.58,137.24 51.16,137.01 C51.74,136.79 52.82,137.15 53.64,137.22 C54.45,137.29 55.45,137.13 56.05,137.44 C56.64,137.75 56.87,138.53 57.18,139.08 C57.50,139.63 58.01,140.24 57.94,140.75 Z" fill="url(#tumC)" filter="url(#blur06)"/>
<path d="M98.79,138.37 C99.12,138.99 100.04,139.82 99.86,140.39 C99.69,140.96 98.34,141.27 97.72,141.77 C97.10,142.27 96.74,143.28 96.13,143.40 C95.53,143.53 94.71,142.83 94.10,142.54 C93.48,142.25 93.00,142.08 92.44,141.66 C91.88,141.24 90.75,140.62 90.74,140.02 C90.72,139.43 91.89,138.74 92.36,138.11 C92.83,137.49 92.98,136.64 93.56,136.29 C94.14,135.93 95.12,135.94 95.83,136.01 C96.55,136.07 97.36,136.28 97.85,136.67 C98.35,137.06 98.45,137.75 98.79,138.37 Z" fill="url(#tumC)" filter="url(#blur06)"/>
<path d="M134.06,137.50 C134.11,138.24 133.77,139.23 133.38,139.84 C132.98,140.45 132.32,140.72 131.71,141.15 C131.09,141.58 130.29,142.57 129.70,142.44 C129.11,142.32 128.69,141.01 128.18,140.40 C127.67,139.78 126.98,139.49 126.65,138.77 C126.32,138.05 125.97,136.79 126.22,136.08 C126.46,135.37 127.54,135.04 128.12,134.53 C128.71,134.01 129.12,133.18 129.75,132.97 C130.39,132.76 131.38,132.86 131.93,133.26 C132.48,133.67 132.70,134.70 133.06,135.40 C133.41,136.11 134.00,136.76 134.06,137.50 Z" fill="url(#tumB)" filter="url(#blur06)"/>
<path d="M57.10,166.50 C57.13,167.44 56.65,168.56 56.20,169.41 C55.76,170.26 55.13,171.28 54.41,171.62 C53.70,171.96 52.77,171.56 51.92,171.46 C51.06,171.37 49.97,171.59 49.28,171.05 C48.58,170.50 47.98,169.23 47.76,168.20 C47.55,167.17 47.64,165.78 47.98,164.88 C48.33,163.97 49.21,163.41 49.85,162.77 C50.50,162.12 51.12,161.19 51.86,161.02 C52.59,160.85 53.58,161.30 54.27,161.76 C54.96,162.21 55.53,162.96 56.00,163.75 C56.47,164.54 57.06,165.56 57.10,166.50 Z" fill="url(#tumC)" filter="url(#blur06)"/>
<path d="M100.32,167.98 C100.24,168.72 99.66,169.49 98.99,170.07 C98.31,170.65 97.29,171.41 96.28,171.46 C95.27,171.51 93.92,170.82 92.92,170.36 C91.92,169.89 90.94,169.35 90.28,168.66 C89.62,167.97 88.97,166.98 88.96,166.22 C88.95,165.47 89.72,164.78 90.22,164.14 C90.72,163.49 91.15,162.72 91.96,162.36 C92.78,162.01 94.04,161.89 95.12,162.01 C96.19,162.12 97.71,162.46 98.43,163.07 C99.16,163.67 99.15,164.82 99.47,165.64 C99.78,166.46 100.40,167.24 100.32,167.98 Z" fill="url(#tumB)" filter="url(#blur06)"/>
<ellipse cx="94.5" cy="166" rx="3" ry="2.2" fill="#f0b0a0" fill-opacity="0.6" filter="url(#blur06)"/>
<path d="M138.36,165.00 C138.38,165.93 138.26,167.04 137.76,167.83 C137.26,168.63 136.26,169.51 135.36,169.78 C134.45,170.04 133.21,169.68 132.31,169.42 C131.42,169.16 130.70,168.73 129.98,168.22 C129.27,167.71 128.32,167.11 128.01,166.36 C127.71,165.60 127.98,164.60 128.17,163.69 C128.36,162.77 128.46,161.52 129.13,160.87 C129.80,160.22 131.16,159.86 132.19,159.77 C133.22,159.68 134.41,159.90 135.31,160.31 C136.22,160.73 137.11,161.47 137.62,162.25 C138.13,163.03 138.34,164.07 138.36,165.00 Z" fill="url(#tumA)" filter="url(#blur06)"/>
<ellipse cx="133.5" cy="164.5" rx="3" ry="2.5" fill="#e89070" fill-opacity="0.5" filter="url(#blur06)"/>
<path d="M120,173 Q125,171 128,168" stroke="#8a2a20" stroke-width="1.2" fill="none" stroke-opacity="0.7" filter="url(#blur06)"/>
<path d="M122,62 L121,56 L123,50" stroke="#3a3040" stroke-width="1.6" fill="none" stroke-opacity="0.5" filter="url(#blur06)"/>
<rect x="38.00" y="192.10" width="150.00" height="38.90" fill="#c2ccd9" />
<rect x="38.00" y="192.10" width="150.00" height="4.50" fill="url(#rulerTop)" />
<rect x="38.00" y="230.10" width="150.00" height="0.90" fill="#7d848c" />
<line x1="39.50" y1="196.50" x2="39.50" y2="208.00" stroke="#3c4249" stroke-width="0.8" />
<text x="39.80" y="213.90" font-size="6.6" font-weight="400" text-anchor="end" fill="#3e444c" >0</text>
<line x1="42.28" y1="196.50" x2="42.28" y2="202.50" stroke="#3c4249" stroke-width="0.8" />
<line x1="45.06" y1="196.50" x2="45.06" y2="202.50" stroke="#3c4249" stroke-width="0.8" />
<line x1="47.84" y1="196.50" x2="47.84" y2="202.50" stroke="#3c4249" stroke-width="0.8" />
<line x1="50.62" y1="196.50" x2="50.62" y2="202.50" stroke="#3c4249" stroke-width="0.8" />
<line x1="53.40" y1="196.50" x2="53.40" y2="205.50" stroke="#3c4249" stroke-width="0.8" />
<line x1="56.18" y1="196.50" x2="56.18" y2="202.50" stroke="#3c4249" stroke-width="0.8" />
<line x1="58.96" y1="196.50" x2="58.96" y2="202.50" stroke="#3c4249" stroke-width="0.8" />
<line x1="61.74" y1="196.50" x2="61.74" y2="202.50" stroke="#3c4249" stroke-width="0.8" />
<line x1="64.52" y1="196.50" x2="64.52" y2="202.50" stroke="#3c4249" stroke-width="0.8" />
<line x1="67.30" y1="196.50" x2="67.30" y2="208.00" stroke="#3c4249" stroke-width="0.8" />
<text x="67.60" y="213.90" font-size="6.6" font-weight="400" text-anchor="end" fill="#3e444c" >10</text>
<line x1="70.01" y1="196.50" x2="70.01" y2="202.50" stroke="#3c4249" stroke-width="0.8" />
<line x1="72.72" y1="196.50" x2="72.72" y2="202.50" stroke="#3c4249" stroke-width="0.8" />
<line x1="75.43" y1="196.50" x2="75.43" y2="202.50" stroke="#3c4249" stroke-width="0.8" />
<line x1="78.14" y1="196.50" x2="78.14" y2="202.50" stroke="#3c4249" stroke-width="0.8" />
<line x1="80.85" y1="196.50" x2="80.85" y2="205.50" stroke="#3c4249" stroke-width="0.8" />
<line x1="83.56" y1="196.50" x2="83.56" y2="202.50" stroke="#3c4249" stroke-width="0.8" />
<line x1="86.27" y1="196.50" x2="86.27" y2="202.50" stroke="#3c4249" stroke-width="0.8" />
<line x1="88.98" y1="196.50" x2="88.98" y2="202.50" stroke="#3c4249" stroke-width="0.8" />
<line x1="91.69" y1="196.50" x2="91.69" y2="202.50" stroke="#3c4249" stroke-width="0.8" />
<line x1="94.40" y1="196.50" x2="94.40" y2="208.00" stroke="#3c4249" stroke-width="0.8" />
<text x="94.70" y="213.90" font-size="6.6" font-weight="400" text-anchor="end" fill="#3e444c" >20</text>
<line x1="97.11" y1="196.50" x2="97.11" y2="202.50" stroke="#3c4249" stroke-width="0.8" />
<line x1="99.82" y1="196.50" x2="99.82" y2="202.50" stroke="#3c4249" stroke-width="0.8" />
<line x1="102.53" y1="196.50" x2="102.53" y2="202.50" stroke="#3c4249" stroke-width="0.8" />
<line x1="105.24" y1="196.50" x2="105.24" y2="202.50" stroke="#3c4249" stroke-width="0.8" />
<line x1="107.95" y1="196.50" x2="107.95" y2="205.50" stroke="#3c4249" stroke-width="0.8" />
<line x1="110.66" y1="196.50" x2="110.66" y2="202.50" stroke="#3c4249" stroke-width="0.8" />
<line x1="113.37" y1="196.50" x2="113.37" y2="202.50" stroke="#3c4249" stroke-width="0.8" />
<line x1="116.08" y1="196.50" x2="116.08" y2="202.50" stroke="#3c4249" stroke-width="0.8" />
<line x1="118.79" y1="196.50" x2="118.79" y2="202.50" stroke="#3c4249" stroke-width="0.8" />
<line x1="121.50" y1="196.50" x2="121.50" y2="208.00" stroke="#3c4249" stroke-width="0.8" />
<text x="121.80" y="213.90" font-size="6.6" font-weight="400" text-anchor="end" fill="#3e444c" >30</text>
<line x1="124.08" y1="196.50" x2="124.08" y2="202.50" stroke="#3c4249" stroke-width="0.8" />
<line x1="126.66" y1="196.50" x2="126.66" y2="202.50" stroke="#3c4249" stroke-width="0.8" />
<line x1="129.24" y1="196.50" x2="129.24" y2="202.50" stroke="#3c4249" stroke-width="0.8" />
<line x1="131.82" y1="196.50" x2="131.82" y2="202.50" stroke="#3c4249" stroke-width="0.8" />
<line x1="134.40" y1="196.50" x2="134.40" y2="205.50" stroke="#3c4249" stroke-width="0.8" />
<line x1="136.98" y1="196.50" x2="136.98" y2="202.50" stroke="#3c4249" stroke-width="0.8" />
<line x1="139.56" y1="196.50" x2="139.56" y2="202.50" stroke="#3c4249" stroke-width="0.8" />
<line x1="142.14" y1="196.50" x2="142.14" y2="202.50" stroke="#3c4249" stroke-width="0.8" />
<line x1="144.72" y1="196.50" x2="144.72" y2="202.50" stroke="#3c4249" stroke-width="0.8" />
<line x1="147.30" y1="196.50" x2="147.30" y2="208.00" stroke="#3c4249" stroke-width="0.8" />
<text x="147.60" y="213.90" font-size="6.6" font-weight="400" text-anchor="end" fill="#3e444c" >40</text>
<line x1="149.91" y1="196.50" x2="149.91" y2="202.50" stroke="#3c4249" stroke-width="0.8" />
<line x1="152.52" y1="196.50" x2="152.52" y2="202.50" stroke="#3c4249" stroke-width="0.8" />
<line x1="155.13" y1="196.50" x2="155.13" y2="202.50" stroke="#3c4249" stroke-width="0.8" />
<line x1="157.74" y1="196.50" x2="157.74" y2="202.50" stroke="#3c4249" stroke-width="0.8" />
<line x1="160.35" y1="196.50" x2="160.35" y2="205.50" stroke="#3c4249" stroke-width="0.8" />
<line x1="162.96" y1="196.50" x2="162.96" y2="202.50" stroke="#3c4249" stroke-width="0.8" />
<line x1="165.57" y1="196.50" x2="165.57" y2="202.50" stroke="#3c4249" stroke-width="0.8" />
<line x1="168.18" y1="196.50" x2="168.18" y2="202.50" stroke="#3c4249" stroke-width="0.8" />
<line x1="170.79" y1="196.50" x2="170.79" y2="202.50" stroke="#3c4249" stroke-width="0.8" />
<line x1="173.40" y1="196.50" x2="173.40" y2="208.00" stroke="#3c4249" stroke-width="0.8" />
<text x="173.70" y="213.90" font-size="6.6" font-weight="400" text-anchor="end" fill="#3e444c" >50</text>
<line x1="176.01" y1="196.50" x2="176.01" y2="202.50" stroke="#3c4249" stroke-width="0.8" />
<line x1="178.62" y1="196.50" x2="178.62" y2="202.50" stroke="#3c4249" stroke-width="0.8" />
<line x1="181.23" y1="196.50" x2="181.23" y2="202.50" stroke="#3c4249" stroke-width="0.8" />
<line x1="183.84" y1="196.50" x2="183.84" y2="202.50" stroke="#3c4249" stroke-width="0.8" />
<line x1="186.45" y1="196.50" x2="186.45" y2="205.50" stroke="#3c4249" stroke-width="0.8" />
<line x1="39.50" y1="220.80" x2="39.50" y2="230.30" stroke="#3c4249" stroke-width="0.8" />
<line x1="46.42" y1="224.90" x2="46.42" y2="230.30" stroke="#3c4249" stroke-width="0.8" />
<text x="44.52" y="224.40" font-size="4.3" font-weight="400" text-anchor="middle" fill="#4a5058" >1</text>
<line x1="53.34" y1="224.90" x2="53.34" y2="230.30" stroke="#3c4249" stroke-width="0.8" />
<text x="51.44" y="224.40" font-size="4.3" font-weight="400" text-anchor="middle" fill="#4a5058" >2</text>
<line x1="60.26" y1="224.90" x2="60.26" y2="230.30" stroke="#3c4249" stroke-width="0.8" />
<text x="58.36" y="224.40" font-size="4.3" font-weight="400" text-anchor="middle" fill="#4a5058" >3</text>
<line x1="67.18" y1="224.90" x2="67.18" y2="230.30" stroke="#3c4249" stroke-width="0.8" />
<text x="65.28" y="224.40" font-size="4.3" font-weight="400" text-anchor="middle" fill="#4a5058" >4</text>
<line x1="74.10" y1="223.80" x2="74.10" y2="230.30" stroke="#3c4249" stroke-width="0.8" />
<text x="72.20" y="224.40" font-size="4.3" font-weight="400" text-anchor="middle" fill="#4a5058" >5</text>
<line x1="81.02" y1="224.90" x2="81.02" y2="230.30" stroke="#3c4249" stroke-width="0.8" />
<text x="79.12" y="224.40" font-size="4.3" font-weight="400" text-anchor="middle" fill="#4a5058" >6</text>
<line x1="87.94" y1="224.90" x2="87.94" y2="230.30" stroke="#3c4249" stroke-width="0.8" />
<text x="86.04" y="224.40" font-size="4.3" font-weight="400" text-anchor="middle" fill="#4a5058" >7</text>
<line x1="94.86" y1="224.90" x2="94.86" y2="230.30" stroke="#3c4249" stroke-width="0.8" />
<text x="92.96" y="224.40" font-size="4.3" font-weight="400" text-anchor="middle" fill="#4a5058" >8</text>
<line x1="101.78" y1="224.90" x2="101.78" y2="230.30" stroke="#3c4249" stroke-width="0.8" />
<text x="99.88" y="224.40" font-size="4.3" font-weight="400" text-anchor="middle" fill="#4a5058" >9</text>
<line x1="108.70" y1="220.80" x2="108.70" y2="230.30" stroke="#3c4249" stroke-width="0.8" />
<text x="107.50" y="220.30" font-size="5.8" font-weight="400" text-anchor="end" fill="#3e444c" >1</text>
<line x1="115.41" y1="224.90" x2="115.41" y2="230.30" stroke="#3c4249" stroke-width="0.8" />
<text x="113.51" y="224.40" font-size="4.3" font-weight="400" text-anchor="middle" fill="#4a5058" >1</text>
<line x1="122.12" y1="224.90" x2="122.12" y2="230.30" stroke="#3c4249" stroke-width="0.8" />
<text x="120.22" y="224.40" font-size="4.3" font-weight="400" text-anchor="middle" fill="#4a5058" >2</text>
<line x1="128.83" y1="224.90" x2="128.83" y2="230.30" stroke="#3c4249" stroke-width="0.8" />
<text x="126.93" y="224.40" font-size="4.3" font-weight="400" text-anchor="middle" fill="#4a5058" >3</text>
<line x1="135.54" y1="224.90" x2="135.54" y2="230.30" stroke="#3c4249" stroke-width="0.8" />
<text x="133.64" y="224.40" font-size="4.3" font-weight="400" text-anchor="middle" fill="#4a5058" >4</text>
<line x1="142.25" y1="223.80" x2="142.25" y2="230.30" stroke="#3c4249" stroke-width="0.8" />
<text x="140.35" y="224.40" font-size="4.3" font-weight="400" text-anchor="middle" fill="#4a5058" >5</text>
<line x1="148.96" y1="224.90" x2="148.96" y2="230.30" stroke="#3c4249" stroke-width="0.8" />
<text x="147.06" y="224.40" font-size="4.3" font-weight="400" text-anchor="middle" fill="#4a5058" >6</text>
<line x1="155.67" y1="224.90" x2="155.67" y2="230.30" stroke="#3c4249" stroke-width="0.8" />
<text x="153.77" y="224.40" font-size="4.3" font-weight="400" text-anchor="middle" fill="#4a5058" >7</text>
<line x1="162.38" y1="224.90" x2="162.38" y2="230.30" stroke="#3c4249" stroke-width="0.8" />
<text x="160.48" y="224.40" font-size="4.3" font-weight="400" text-anchor="middle" fill="#4a5058" >8</text>
<line x1="169.09" y1="224.90" x2="169.09" y2="230.30" stroke="#3c4249" stroke-width="0.8" />
<text x="167.19" y="224.40" font-size="4.3" font-weight="400" text-anchor="middle" fill="#4a5058" >9</text>
<line x1="175.80" y1="220.80" x2="175.80" y2="230.30" stroke="#3c4249" stroke-width="0.8" />
<text x="174.60" y="220.30" font-size="5.8" font-weight="400" text-anchor="end" fill="#3e444c" >2</text>
<line x1="182.51" y1="224.90" x2="182.51" y2="230.30" stroke="#3c4249" stroke-width="0.8" />
<text x="180.61" y="224.40" font-size="4.3" font-weight="400" text-anchor="middle" fill="#4a5058" >1</text>
<text transform="translate(174.68,77.70) scale(0.9608,1)" font-size="9.43" font-weight="400" fill="#111" stroke="#111" stroke-width="0.22">DMSO</text>
<text transform="translate(174.13,108.10) scale(1.0759,1)" font-size="8.97" font-weight="400" fill="#111" stroke="#111" stroke-width="0.22">Erastin</text>
<text transform="translate(160.02,138.60) scale(1.0188,1)" font-size="9.10" font-weight="400" fill="#111" stroke="#111" stroke-width="0.22">shSPI1+Erastin</text>
<text transform="translate(146.63,168.60) scale(1.0706,1)" font-size="8.55" font-weight="400" fill="#111" stroke="#111" stroke-width="0.22">shSPI1+Erastin+si-ACSL4</text>
<line x1="288.00" y1="175.80" x2="288.00" y2="70.30" stroke="#1a1a1a" stroke-width="1.0" />
<line x1="285.00" y1="175.30" x2="288.00" y2="175.30" stroke="#1a1a1a" stroke-width="1.0" />
<text x="283.80" y="177.89" font-size="7.3" font-weight="700" text-anchor="end" fill="#111">0</text>
<line x1="285.00" y1="149.05" x2="288.00" y2="149.05" stroke="#1a1a1a" stroke-width="1.0" />
<text x="283.80" y="151.64" font-size="7.3" font-weight="700" text-anchor="end" fill="#111">200</text>
<line x1="285.00" y1="122.80" x2="288.00" y2="122.80" stroke="#1a1a1a" stroke-width="1.0" />
<text x="283.80" y="125.39" font-size="7.3" font-weight="700" text-anchor="end" fill="#111">400</text>
<line x1="285.00" y1="96.55" x2="288.00" y2="96.55" stroke="#1a1a1a" stroke-width="1.0" />
<text x="283.80" y="99.14" font-size="7.3" font-weight="700" text-anchor="end" fill="#111">600</text>
<line x1="285.00" y1="70.30" x2="288.00" y2="70.30" stroke="#1a1a1a" stroke-width="1.0" />
<text x="283.80" y="72.89" font-size="7.3" font-weight="700" text-anchor="end" fill="#111">800</text>
<line x1="285.00" y1="175.30" x2="446.00" y2="175.30" stroke="#1a1a1a" stroke-width="1.1" />
<rect x="300.10" y="100.60" width="24.00" height="74.70" fill="#1a0aff" />
<line x1="312.10" y1="175.30" x2="312.10" y2="178.50" stroke="#1a1a1a" stroke-width="0.9" />
<line x1="312.10" y1="87.20" x2="312.10" y2="100.60" stroke="#9a9a9a" stroke-width="0.7" />
<line x1="306.10" y1="87.20" x2="318.10" y2="87.20" stroke="#b4b4b4" stroke-width="0.8" />
<rect x="336.40" y="130.90" width="24.00" height="44.40" fill="#ff2210" />
<line x1="348.40" y1="175.30" x2="348.40" y2="178.50" stroke="#1a1a1a" stroke-width="0.9" />
<line x1="348.40" y1="124.70" x2="348.40" y2="130.90" stroke="#9a9a9a" stroke-width="0.7" />
<line x1="342.40" y1="124.70" x2="354.40" y2="124.70" stroke="#b4b4b4" stroke-width="0.8" />
<rect x="372.70" y="164.40" width="24.00" height="10.90" fill="#44dd1e" />
<line x1="384.70" y1="175.30" x2="384.70" y2="178.50" stroke="#1a1a1a" stroke-width="0.9" />
<line x1="384.70" y1="160.60" x2="384.70" y2="164.40" stroke="#9a9a9a" stroke-width="0.7" />
<line x1="378.70" y1="160.60" x2="390.70" y2="160.60" stroke="#b4b4b4" stroke-width="0.8" />
<rect x="409.00" y="152.00" width="24.00" height="23.30" fill="#cc22ff" />
<line x1="421.00" y1="175.30" x2="421.00" y2="178.50" stroke="#1a1a1a" stroke-width="0.9" />
<line x1="421.00" y1="149.20" x2="421.00" y2="152.00" stroke="#9a9a9a" stroke-width="0.7" />
<line x1="415.00" y1="149.20" x2="427.00" y2="149.20" stroke="#b4b4b4" stroke-width="0.8" />
<circle cx="312.10" cy="85.30" r="0.95" fill="#000"/>
<circle cx="312.10" cy="105.30" r="0.95" fill="#000"/>
<circle cx="312.10" cy="110.40" r="0.95" fill="#000"/>
<circle cx="348.40" cy="125.20" r="0.95" fill="#000"/>
<circle cx="348.40" cy="130.50" r="0.95" fill="#000"/>
<circle cx="348.40" cy="137.60" r="0.95" fill="#000"/>
<circle cx="384.40" cy="160.30" r="0.95" fill="#000"/>
<circle cx="383.30" cy="166.60" r="0.95" fill="#000"/>
<circle cx="385.60" cy="166.60" r="0.95" fill="#000"/>
<circle cx="421.00" cy="149.50" r="0.95" fill="#000"/>
<circle cx="421.00" cy="152.30" r="0.95" fill="#000"/>
<circle cx="421.00" cy="154.70" r="0.95" fill="#000"/>
<polyline points="311.20,79.60 311.20,75.20 384.40,75.20 384.40,79.60" fill="none" stroke="#444" stroke-width="0.8"/>
<text x="348.20" y="77.40" font-size="5.0" font-weight="700" text-anchor="middle" fill="#222">**</text>
<polyline points="311.20,84.00 311.20,81.40 346.40,81.40 346.40,85.40" fill="none" stroke="#444" stroke-width="0.8"/>
<text x="328.00" y="83.10" font-size="5.0" font-weight="700" text-anchor="middle" fill="#222">*</text>
<polyline points="385.90,147.90 385.90,143.50 420.60,143.50 420.60,147.30" fill="none" stroke="#444" stroke-width="0.8"/>
<text x="403.00" y="144.80" font-size="5.0" font-weight="700" text-anchor="middle" fill="#222">**</text>
<text transform="translate(266.20,122.45) rotate(-90)" font-size="8.7" font-weight="700" text-anchor="middle" fill="#000" textLength="83.3" lengthAdjust="spacingAndGlyphs">Tumor volume(mm<tspan font-size="5.39" dy="-3.31">3</tspan><tspan dy="3.31">)</tspan></text>
<text transform="translate(314.40,185.70) rotate(-45)" font-size="7.9" font-weight="700" text-anchor="end" fill="#111">DMSO</text>
<text transform="translate(350.70,185.70) rotate(-45)" font-size="7.9" font-weight="700" text-anchor="end" fill="#111">Erastin</text>
<text transform="translate(387.00,185.70) rotate(-45)" font-size="7.9" font-weight="700" text-anchor="end" fill="#111">shSPI1+Erastin</text>
<text transform="translate(423.30,185.70) rotate(-45)" font-size="7.9" font-weight="700" text-anchor="end" fill="#111">shSPI1+Erastin+si-ACSL4</text>
<line x1="490.30" y1="175.80" x2="490.30" y2="69.40" stroke="#1a1a1a" stroke-width="1.0" />
<line x1="487.30" y1="175.30" x2="490.30" y2="175.30" stroke="#1a1a1a" stroke-width="1.0" />
<text x="486.30" y="177.89" font-size="7.3" font-weight="700" text-anchor="end" fill="#111">0</text>
<line x1="487.30" y1="140.00" x2="490.30" y2="140.00" stroke="#1a1a1a" stroke-width="1.0" />
<text x="486.30" y="142.59" font-size="7.3" font-weight="700" text-anchor="end" fill="#111">200</text>
<line x1="487.30" y1="104.70" x2="490.30" y2="104.70" stroke="#1a1a1a" stroke-width="1.0" />
<text x="486.30" y="107.29" font-size="7.3" font-weight="700" text-anchor="end" fill="#111">400</text>
<line x1="487.30" y1="69.40" x2="490.30" y2="69.40" stroke="#1a1a1a" stroke-width="1.0" />
<text x="486.30" y="71.99" font-size="7.3" font-weight="700" text-anchor="end" fill="#111">600</text>
<line x1="487.30" y1="175.30" x2="647.70" y2="175.30" stroke="#1a1a1a" stroke-width="1.1" />
<line x1="514.60" y1="175.30" x2="514.60" y2="178.50" stroke="#1a1a1a" stroke-width="0.9" />
<line x1="551.00" y1="175.30" x2="551.00" y2="178.50" stroke="#1a1a1a" stroke-width="0.9" />
<line x1="587.30" y1="175.30" x2="587.30" y2="178.50" stroke="#1a1a1a" stroke-width="0.9" />
<line x1="623.40" y1="175.30" x2="623.40" y2="178.50" stroke="#1a1a1a" stroke-width="0.9" />
<line x1="502.60" y1="90.60" x2="526.80" y2="90.60" stroke="#1a1aff" stroke-width="1.1" />
<line x1="514.70" y1="85.90" x2="514.70" y2="95.30" stroke="#1a1aff" stroke-width="1.0" />
<line x1="509.10" y1="85.90" x2="520.60" y2="85.90" stroke="#1a1aff" stroke-width="1.0" />
<line x1="509.10" y1="95.30" x2="520.60" y2="95.30" stroke="#1a1aff" stroke-width="1.0" />
<circle cx="514.80" cy="85.30" r="2.0" fill="#1a1aff"/>
<circle cx="518.90" cy="91.50" r="2.0" fill="#1a1aff"/>
<circle cx="510.50" cy="94.70" r="2.0" fill="#1a1aff"/>
<line x1="539.10" y1="134.00" x2="562.90" y2="134.00" stroke="#ff2020" stroke-width="1.1" />
<line x1="551.00" y1="131.00" x2="551.00" y2="137.50" stroke="#ff2020" stroke-width="1.0" />
<line x1="545.00" y1="131.00" x2="557.00" y2="131.00" stroke="#ff2020" stroke-width="1.0" />
<line x1="545.00" y1="137.50" x2="557.00" y2="137.50" stroke="#ff2020" stroke-width="1.0" />
<rect x="545.20" y="129.20" width="3.60" height="3.60" fill="#ff2020" />
<rect x="553.20" y="129.20" width="3.60" height="3.60" fill="#ff2020" />
<rect x="549.20" y="136.20" width="3.60" height="3.60" fill="#ff2020" />
<line x1="575.20" y1="166.40" x2="599.20" y2="166.40" stroke="#3ad11a" stroke-width="1.1" />
<line x1="587.30" y1="163.50" x2="587.30" y2="168.50" stroke="#3ad11a" stroke-width="1.0" />
<line x1="581.30" y1="163.50" x2="593.30" y2="163.50" stroke="#3ad11a" stroke-width="1.0" />
<line x1="581.30" y1="168.50" x2="593.30" y2="168.50" stroke="#3ad11a" stroke-width="1.0" />
<polygon points="577.00,166.10 579.30,169.90 574.70,169.90" fill="#3ad11a"/>
<polygon points="587.30,161.80 589.60,165.60 585.00,165.60" fill="#3ad11a"/>
<polygon points="597.10,164.90 599.40,168.70 594.80,168.70" fill="#3ad11a"/>
<line x1="611.10" y1="146.40" x2="635.50" y2="146.40" stroke="#c21cff" stroke-width="1.1" />
<line x1="623.40" y1="141.20" x2="623.40" y2="151.70" stroke="#c21cff" stroke-width="1.0" />
<line x1="617.40" y1="141.20" x2="629.40" y2="141.20" stroke="#c21cff" stroke-width="1.0" />
<line x1="617.40" y1="151.70" x2="629.40" y2="151.70" stroke="#c21cff" stroke-width="1.0" />
<polygon points="623.40,143.40 625.70,139.60 621.10,139.60" fill="#c21cff"/>
<polygon points="623.40,147.20 625.70,143.40 621.10,143.40" fill="#c21cff"/>
<polygon points="623.40,153.90 625.70,150.10 621.10,150.10" fill="#c21cff"/>
<polyline points="514.30,75.30 514.30,71.20 587.20,71.20 587.20,75.30" fill="none" stroke="#444" stroke-width="0.8"/>
<text x="550.80" y="72.60" font-size="5.0" font-weight="700" text-anchor="middle" fill="#222">**</text>
<polyline points="514.30,82.20 514.30,78.20 550.40,78.20 550.40,82.20" fill="none" stroke="#444" stroke-width="0.8"/>
<text x="531.70" y="79.10" font-size="5.0" font-weight="700" text-anchor="middle" fill="#222">*</text>
<polyline points="587.30,138.40 587.30,134.50 623.40,134.50 623.40,138.00" fill="none" stroke="#444" stroke-width="0.8"/>
<text x="605.30" y="135.20" font-size="5.0" font-weight="700" text-anchor="middle" fill="#222">**</text>
<text transform="translate(467.60,121.30) rotate(-90)" font-size="8.7" font-weight="700" text-anchor="middle" fill="#000" textLength="76.8" lengthAdjust="spacingAndGlyphs">Tumor Weight(mg)</text>
<text transform="translate(516.90,185.70) rotate(-45)" font-size="7.9" font-weight="700" text-anchor="end" fill="#111">DMSO</text>
<text transform="translate(553.30,185.70) rotate(-45)" font-size="7.9" font-weight="700" text-anchor="end" fill="#111">Erastin</text>
<text transform="translate(589.60,185.70) rotate(-45)" font-size="7.9" font-weight="700" text-anchor="end" fill="#111">shSPI1+Erastin</text>
<text transform="translate(625.70,185.70) rotate(-45)" font-size="7.9" font-weight="700" text-anchor="end" fill="#111">shSPI1+Erastin+si-ACSL4</text>
<line x1="55.30" y1="387.90" x2="55.30" y2="282.90" stroke="#1a1a1a" stroke-width="1.0" />
<line x1="52.30" y1="387.40" x2="55.30" y2="387.40" stroke="#1a1a1a" stroke-width="1.0" />
<text x="51.00" y="389.99" font-size="7.3" font-weight="700" text-anchor="end" fill="#111">0</text>
<line x1="52.30" y1="361.30" x2="55.30" y2="361.30" stroke="#1a1a1a" stroke-width="1.0" />
<text x="51.00" y="363.89" font-size="7.3" font-weight="700" text-anchor="end" fill="#111">200</text>
<line x1="52.30" y1="335.20" x2="55.30" y2="335.20" stroke="#1a1a1a" stroke-width="1.0" />
<text x="51.00" y="337.79" font-size="7.3" font-weight="700" text-anchor="end" fill="#111">400</text>
<line x1="52.30" y1="309.10" x2="55.30" y2="309.10" stroke="#1a1a1a" stroke-width="1.0" />
<text x="51.00" y="311.69" font-size="7.3" font-weight="700" text-anchor="end" fill="#111">600</text>
<line x1="52.30" y1="283.00" x2="55.30" y2="283.00" stroke="#1a1a1a" stroke-width="1.0" />
<text x="51.00" y="285.59" font-size="7.3" font-weight="700" text-anchor="end" fill="#111">800</text>
<line x1="52.30" y1="387.40" x2="212.90" y2="387.40" stroke="#1a1a1a" stroke-width="1.1" />
<line x1="79.80" y1="387.40" x2="79.80" y2="389.60" stroke="#1a1a1a" stroke-width="0.9" />
<text x="79.80" y="399.0" font-size="7.2" font-weight="700" text-anchor="middle" fill="#111">6</text>
<line x1="116.20" y1="387.40" x2="116.20" y2="389.60" stroke="#1a1a1a" stroke-width="0.9" />
<text x="116.20" y="399.0" font-size="7.2" font-weight="700" text-anchor="middle" fill="#111">12</text>
<line x1="152.50" y1="387.40" x2="152.50" y2="389.60" stroke="#1a1a1a" stroke-width="0.9" />
<text x="152.50" y="399.0" font-size="7.2" font-weight="700" text-anchor="middle" fill="#111">18</text>
<line x1="188.80" y1="387.40" x2="188.80" y2="389.60" stroke="#1a1a1a" stroke-width="0.9" />
<text x="188.80" y="399.0" font-size="7.2" font-weight="700" text-anchor="middle" fill="#111">24</text>
<text x="134.8" y="413.1" font-size="8.7" font-weight="700" text-anchor="middle" fill="#111" textLength="39" lengthAdjust="spacingAndGlyphs">time(Day)</text>
<text transform="translate(33.20,334.55) rotate(-90)" font-size="8.7" font-weight="700" text-anchor="middle" fill="#000" textLength="83.1" lengthAdjust="spacingAndGlyphs">Tumor volume(mm<tspan font-size="5.39" dy="-3.31">3</tspan><tspan dy="3.31">)</tspan></text>
<polyline points="79.80,386.90 116.20,384.50 152.50,379.30 188.80,372.10" fill="none" stroke="#3fdc28" stroke-width="1.3"/>
<line x1="116.20" y1="383.50" x2="116.20" y2="385.50" stroke="#3fdc28" stroke-width="1.1" />
<line x1="113.60" y1="383.50" x2="118.80" y2="383.50" stroke="#3fdc28" stroke-width="1.1" />
<line x1="113.60" y1="385.50" x2="118.80" y2="385.50" stroke="#3fdc28" stroke-width="1.1" />
<line x1="152.50" y1="377.30" x2="152.50" y2="381.30" stroke="#3fdc28" stroke-width="1.1" />
<line x1="149.90" y1="377.30" x2="155.10" y2="377.30" stroke="#3fdc28" stroke-width="1.1" />
<line x1="149.90" y1="381.30" x2="155.10" y2="381.30" stroke="#3fdc28" stroke-width="1.1" />
<line x1="188.80" y1="369.10" x2="188.80" y2="373.50" stroke="#3fdc28" stroke-width="1.1" />
<line x1="186.20" y1="369.10" x2="191.40" y2="369.10" stroke="#3fdc28" stroke-width="1.1" />
<line x1="186.20" y1="373.50" x2="191.40" y2="373.50" stroke="#3fdc28" stroke-width="1.1" />
<polygon points="79.80,384.30 82.40,388.70 77.20,388.70" fill="#3fdc28"/>
<polygon points="116.20,381.90 118.80,386.30 113.60,386.30" fill="#3fdc28"/>
<polygon points="152.50,376.70 155.10,381.10 149.90,381.10" fill="#3fdc28"/>
<polygon points="188.80,369.50 191.40,373.90 186.20,373.90" fill="#3fdc28"/>
<polyline points="79.80,386.50 116.20,380.50 152.50,373.90 188.80,360.60" fill="none" stroke="#c02cff" stroke-width="1.3"/>
<line x1="116.20" y1="379.30" x2="116.20" y2="381.70" stroke="#c02cff" stroke-width="1.1" />
<line x1="113.60" y1="379.30" x2="118.80" y2="379.30" stroke="#c02cff" stroke-width="1.1" />
<line x1="113.60" y1="381.70" x2="118.80" y2="381.70" stroke="#c02cff" stroke-width="1.1" />
<line x1="152.50" y1="371.70" x2="152.50" y2="376.10" stroke="#c02cff" stroke-width="1.1" />
<line x1="149.90" y1="371.70" x2="155.10" y2="371.70" stroke="#c02cff" stroke-width="1.1" />
<line x1="149.90" y1="376.10" x2="155.10" y2="376.10" stroke="#c02cff" stroke-width="1.1" />
<line x1="188.80" y1="358.50" x2="188.80" y2="363.00" stroke="#c02cff" stroke-width="1.1" />
<line x1="186.20" y1="358.50" x2="191.40" y2="358.50" stroke="#c02cff" stroke-width="1.1" />
<line x1="186.20" y1="363.00" x2="191.40" y2="363.00" stroke="#c02cff" stroke-width="1.1" />
<polygon points="79.80,389.10 82.40,384.70 77.20,384.70" fill="#c02cff"/>
<polygon points="116.20,383.10 118.80,378.70 113.60,378.70" fill="#c02cff"/>
<polygon points="152.50,376.50 155.10,372.10 149.90,372.10" fill="#c02cff"/>
<polygon points="188.80,363.20 191.40,358.80 186.20,358.80" fill="#c02cff"/>
<polyline points="79.80,386.30 116.20,378.20 152.50,366.10 188.80,343.00" fill="none" stroke="#ff2020" stroke-width="1.3"/>
<line x1="116.20" y1="376.40" x2="116.20" y2="380.00" stroke="#ff2020" stroke-width="1.1" />
<line x1="113.60" y1="376.40" x2="118.80" y2="376.40" stroke="#ff2020" stroke-width="1.1" />
<line x1="113.60" y1="380.00" x2="118.80" y2="380.00" stroke="#ff2020" stroke-width="1.1" />
<line x1="152.50" y1="362.90" x2="152.50" y2="369.30" stroke="#ff2020" stroke-width="1.1" />
<line x1="149.90" y1="362.90" x2="155.10" y2="362.90" stroke="#ff2020" stroke-width="1.1" />
<line x1="149.90" y1="369.30" x2="155.10" y2="369.30" stroke="#ff2020" stroke-width="1.1" />
<line x1="188.80" y1="337.40" x2="188.80" y2="349.30" stroke="#ff2020" stroke-width="1.1" />
<line x1="186.20" y1="337.40" x2="191.40" y2="337.40" stroke="#ff2020" stroke-width="1.1" />
<line x1="186.20" y1="349.30" x2="191.40" y2="349.30" stroke="#ff2020" stroke-width="1.1" />
<rect x="77.60" y="384.10" width="4.40" height="4.40" fill="#ff2020"/>
<rect x="114.00" y="376.00" width="4.40" height="4.40" fill="#ff2020"/>
<rect x="150.30" y="363.90" width="4.40" height="4.40" fill="#ff2020"/>
<rect x="186.60" y="340.80" width="4.40" height="4.40" fill="#ff2020"/>
<polyline points="79.80,385.60 116.20,374.10 152.50,353.20 188.80,313.00" fill="none" stroke="#1e1eff" stroke-width="1.3"/>
<line x1="116.20" y1="372.50" x2="116.20" y2="375.70" stroke="#1e1eff" stroke-width="1.1" />
<line x1="113.60" y1="372.50" x2="118.80" y2="372.50" stroke="#1e1eff" stroke-width="1.1" />
<line x1="113.60" y1="375.70" x2="118.80" y2="375.70" stroke="#1e1eff" stroke-width="1.1" />
<line x1="152.50" y1="347.40" x2="152.50" y2="359.80" stroke="#1e1eff" stroke-width="1.1" />
<line x1="149.90" y1="347.40" x2="155.10" y2="347.40" stroke="#1e1eff" stroke-width="1.1" />
<line x1="149.90" y1="359.80" x2="155.10" y2="359.80" stroke="#1e1eff" stroke-width="1.1" />
<line x1="188.80" y1="299.40" x2="188.80" y2="326.40" stroke="#1e1eff" stroke-width="1.1" />
<line x1="186.20" y1="299.40" x2="191.40" y2="299.40" stroke="#1e1eff" stroke-width="1.1" />
<line x1="186.20" y1="326.40" x2="191.40" y2="326.40" stroke="#1e1eff" stroke-width="1.1" />
<circle cx="79.80" cy="385.60" r="2.40" fill="#1e1eff"/>
<circle cx="116.20" cy="374.10" r="2.40" fill="#1e1eff"/>
<circle cx="152.50" cy="353.20" r="2.40" fill="#1e1eff"/>
<circle cx="188.80" cy="313.00" r="2.40" fill="#1e1eff"/>
<line x1="62.00" y1="289.30" x2="74.00" y2="289.30" stroke="#1e1eff" stroke-width="1.2" />
<circle cx="68.10" cy="289.30" r="2.28" fill="#1e1eff"/>
<text x="79.8" y="291.40" font-size="6.1" fill="#1a1a1a" stroke="#1a1a1a" stroke-width="0.1" textLength="17.6" lengthAdjust="spacingAndGlyphs">DMSO</text>
<line x1="62.00" y1="303.50" x2="74.00" y2="303.50" stroke="#ff2020" stroke-width="1.2" />
<rect x="66.01" y="301.41" width="4.18" height="4.18" fill="#ff2020"/>
<text x="79.8" y="305.60" font-size="6.1" fill="#1a1a1a" stroke="#1a1a1a" stroke-width="0.1" textLength="17.4" lengthAdjust="spacingAndGlyphs">Erastin</text>
<line x1="62.00" y1="317.80" x2="74.00" y2="317.80" stroke="#3fdc28" stroke-width="1.2" />
<polygon points="68.10,315.33 70.57,319.51 65.63,319.51" fill="#3fdc28"/>
<text x="79.8" y="319.90" font-size="6.1" fill="#1a1a1a" stroke="#1a1a1a" stroke-width="0.1" textLength="38.6" lengthAdjust="spacingAndGlyphs">shSPI1+Erastin</text>
<line x1="62.00" y1="331.60" x2="74.00" y2="331.60" stroke="#c02cff" stroke-width="1.2" />
<polygon points="68.10,334.07 70.57,329.89 65.63,329.89" fill="#c02cff"/>
<text x="79.8" y="333.70" font-size="6.1" fill="#1a1a1a" stroke="#1a1a1a" stroke-width="0.1" textLength="67.0" lengthAdjust="spacingAndGlyphs">shSPI1+Erastin+si-ACSL4</text>
<polyline points="193.2,312.3 196.7,312.3 196.7,342.3 193.2,342.3" fill="none" stroke="#555" stroke-width="0.8"/>
<polyline points="198.2,312.3 202.9,312.3 202.9,371.8 198.2,371.8" fill="none" stroke="#888" stroke-width="0.8"/>
<polyline points="193.2,359.4 196.7,359.4 196.7,371.4 193.2,371.4" fill="none" stroke="#555" stroke-width="0.8"/>
<text transform="translate(195.3,327.6) rotate(90)" font-size="5.0" font-weight="700" text-anchor="middle" fill="#222">*</text>
<text transform="translate(201.5,340.9) rotate(90)" font-size="5.0" font-weight="700" text-anchor="middle" fill="#444">**</text>
<text transform="translate(195.3,365.2) rotate(90)" font-size="5.0" font-weight="700" text-anchor="middle" fill="#222">**</text>
<line x1="324.40" y1="392.50" x2="324.40" y2="308.20" stroke="#1a1a1a" stroke-width="1.0" />
<line x1="321.90" y1="392.10" x2="324.40" y2="392.10" stroke="#1a1a1a" stroke-width="0.9" />
<text x="320.6" y="394.25" font-size="6.0" font-weight="700" text-anchor="end" fill="#222">0</text>
<line x1="321.90" y1="375.32" x2="324.40" y2="375.32" stroke="#1a1a1a" stroke-width="0.9" />
<text x="320.6" y="377.47" font-size="6.0" font-weight="700" text-anchor="end" fill="#222">2</text>
<line x1="321.90" y1="358.54" x2="324.40" y2="358.54" stroke="#1a1a1a" stroke-width="0.9" />
<text x="320.6" y="360.69" font-size="6.0" font-weight="700" text-anchor="end" fill="#222">4</text>
<line x1="321.90" y1="341.76" x2="324.40" y2="341.76" stroke="#1a1a1a" stroke-width="0.9" />
<text x="320.6" y="343.91" font-size="6.0" font-weight="700" text-anchor="end" fill="#222">6</text>
<line x1="321.90" y1="324.98" x2="324.40" y2="324.98" stroke="#1a1a1a" stroke-width="0.9" />
<text x="320.6" y="327.13" font-size="6.0" font-weight="700" text-anchor="end" fill="#222">8</text>
<line x1="321.90" y1="308.20" x2="324.40" y2="308.20" stroke="#1a1a1a" stroke-width="0.9" />
<text x="320.6" y="310.35" font-size="6.0" font-weight="700" text-anchor="end" fill="#222">10</text>
<line x1="321.90" y1="392.10" x2="369.70" y2="392.10" stroke="#1a1a1a" stroke-width="1.2" />
<rect x="330.90" y="383.90" width="12.90" height="8.20" fill="#1a0aff" />
<rect x="350.10" y="353.30" width="12.90" height="38.80" fill="#ff2210" />
<line x1="334.60" y1="383.60" x2="340.00" y2="383.60" stroke="#111" stroke-width="0.9" />
<line x1="356.40" y1="337.40" x2="356.40" y2="353.30" stroke="#aaa" stroke-width="0.7" />
<line x1="352.60" y1="337.40" x2="360.00" y2="337.40" stroke="#aaa" stroke-width="0.8" />
<circle cx="356.40" cy="321.80" r="0.8" fill="#000"/>
<circle cx="356.40" cy="344.10" r="0.8" fill="#000"/>
<circle cx="356.40" cy="371.80" r="0.8" fill="#000"/>
<line x1="337.00" y1="392.10" x2="337.00" y2="394.90" stroke="#1a1a1a" stroke-width="0.9" />
<line x1="356.40" y1="392.10" x2="356.40" y2="394.90" stroke="#1a1a1a" stroke-width="0.9" />
<text transform="translate(339.0,402.2) rotate(-45)" font-size="6.3" font-weight="700" text-anchor="end" fill="#222">Erastin</text>
<text transform="translate(358.4,402.2) rotate(-45)" font-size="6.3" font-weight="700" text-anchor="end" fill="#222">Erastin+shSPI1</text>
<text transform="translate(308.4,350.0) rotate(-90)" font-size="6.85" font-weight="700" text-anchor="middle" fill="#222" textLength="113" lengthAdjust="spacingAndGlyphs">Relative  ACSL4 mRNA expression</text>
<rect x="453.5" y="318.5" width="218.90" height="17.90" fill="#f7f7f7" stroke="#6a6a6a" stroke-width="0.9"/>
<rect x="453.5" y="347.4" width="218.90" height="18.10" fill="#ececec" stroke="#6a6a6a" stroke-width="0.9"/>
<rect x="453.5" y="376.2" width="218.90" height="17.90" fill="#f4f4f4" stroke="#6a6a6a" stroke-width="0.9"/>
<path d="M470.80,328.80 C470.80,326.30 473.80,326.30 475.80,326.30 L494.70,327.43 C497.70,327.43 498.70,328.11 498.70,328.80 C498.70,329.49 497.70,330.18 494.70,330.18 L475.80,331.30 C473.80,331.30 470.80,331.30 470.80,328.80Z" fill="#050505" fill-opacity="1" filter="url(#bblur)"/>
<path d="M507.80,328.30 C507.80,326.15 510.80,326.15 512.80,326.15 L523.00,326.37 C526.00,326.37 527.00,327.33 527.00,328.30 C527.00,329.27 526.00,330.24 523.00,330.24 L512.80,330.45 C510.80,330.45 507.80,330.45 507.80,328.30Z" fill="#1e1e1e" fill-opacity="1" filter="url(#bblur)"/>
<path d="M535.50,328.60 C535.50,326.30 538.50,326.30 540.50,326.30 L558.00,325.05 C561.00,325.05 562.00,326.02 562.00,327.00 C562.00,327.98 561.00,328.95 558.00,328.95 L540.50,330.90 C538.50,330.90 535.50,330.90 535.50,328.60Z" fill="#080808" fill-opacity="1" filter="url(#bblur)"/>
<path d="M571.10,327.40 C571.10,325.75 574.10,325.75 576.10,325.75 L587.00,325.75 C590.00,325.75 591.00,326.57 591.00,327.40 C591.00,328.22 590.00,329.05 587.00,329.05 L576.10,329.05 C574.10,329.05 571.10,329.05 571.10,327.40Z" fill="#787878" fill-opacity="1" filter="url(#bblur)"/>
<path d="M601.50,327.70 C601.50,326.20 604.50,326.20 606.50,326.20 L617.40,326.20 C620.40,326.20 621.40,326.95 621.40,327.70 C621.40,328.45 620.40,329.20 617.40,329.20 L606.50,329.20 C604.50,329.20 601.50,329.20 601.50,327.70Z" fill="#999999" fill-opacity="1" filter="url(#bblur)"/>
<path d="M631.90,326.00 C631.90,324.35 634.90,324.35 636.90,324.35 L650.30,323.55 C653.30,323.55 654.30,324.38 654.30,325.20 C654.30,326.03 653.30,326.85 650.30,326.85 L636.90,327.65 C634.90,327.65 631.90,327.65 631.90,326.00Z" fill="#8a8a8a" fill-opacity="1" filter="url(#bblur)"/>
<path d="M465.80,357.00 C465.80,354.10 468.80,354.10 470.80,354.10 L484.20,354.10 C487.20,354.10 488.20,355.55 488.20,357.00 C488.20,358.45 487.20,359.90 484.20,359.90 L470.80,359.90 C468.80,359.90 465.80,359.90 465.80,357.00Z" fill="#8e8e8e" fill-opacity="1" filter="url(#bblur2)"/>
<path d="M498.20,357.00 C498.20,354.30 501.20,354.30 503.20,354.30 L515.20,354.30 C518.20,354.30 519.20,355.65 519.20,357.00 C519.20,358.35 518.20,359.70 515.20,359.70 L503.20,359.70 C501.20,359.70 498.20,359.70 498.20,357.00Z" fill="#b4b4b4" fill-opacity="1" filter="url(#bblur2)"/>
<path d="M529.70,356.60 C529.70,353.80 532.70,353.80 534.70,353.80 L546.70,353.80 C549.70,353.80 550.70,355.20 550.70,356.60 C550.70,358.00 549.70,359.40 546.70,359.40 L534.70,359.40 C532.70,359.40 529.70,359.40 529.70,356.60Z" fill="#a0a0a0" fill-opacity="1" filter="url(#bblur2)"/>
<path d="M559.70,355.70 C559.70,352.70 562.70,352.70 564.70,352.70 L581.40,352.70 C584.40,352.70 585.40,354.20 585.40,355.70 C585.40,357.20 584.40,358.70 581.40,358.70 L564.70,358.70 C562.70,358.70 559.70,358.70 559.70,355.70Z" fill="#141414" fill-opacity="1" filter="url(#bblur)"/>
<path d="M593.90,356.00 C593.90,353.30 596.90,353.30 598.90,353.30 L611.40,353.30 C614.40,353.30 615.40,354.65 615.40,356.00 C615.40,357.35 614.40,358.70 611.40,358.70 L598.90,358.70 C596.90,358.70 593.90,358.70 593.90,356.00Z" fill="#585858" fill-opacity="1" filter="url(#bblur)"/>
<path d="M623.70,355.00 C623.70,351.80 626.70,351.80 628.70,351.80 L646.80,351.20 C649.80,351.20 650.80,352.80 650.80,354.40 C650.80,356.00 649.80,357.60 646.80,357.60 L628.70,358.20 C626.70,358.20 623.70,358.20 623.70,355.00Z" fill="#0e0e0e" fill-opacity="1" filter="url(#bblur)"/>
<path d="M658.40,356.00 C658.40,354.10 661.40,354.10 663.40,354.10 L661.00,354.10 C664.00,354.10 665.00,355.05 665.00,356.00 C665.00,356.95 664.00,357.90 661.00,357.90 L663.40,357.90 C661.40,357.90 658.40,357.90 658.40,356.00Z" fill="#d4d4d4" fill-opacity="1" filter="url(#bblur2)"/>
<path d="M466.50,385.50 C466.50,380.14 471.58,380.40 474.88,380.81 C477.93,381.11 480.47,381.11 483.52,380.81 C486.82,380.40 491.90,380.14 491.90,385.50 C491.90,390.86 486.82,390.60 483.52,390.19 C480.47,389.89 477.93,389.89 474.88,390.19 C471.58,390.60 466.50,390.86 466.50,385.50Z" fill="#030303" filter="url(#bblur)"/>
<path d="M500.80,385.50 C500.80,380.14 505.40,380.40 508.39,380.81 C511.15,381.11 513.45,381.11 516.21,380.81 C519.20,380.40 523.80,380.14 523.80,385.50 C523.80,390.86 519.20,390.60 516.21,390.19 C513.45,389.89 511.15,389.89 508.39,390.19 C505.40,390.60 500.80,390.86 500.80,385.50Z" fill="#030303" filter="url(#bblur)"/>
<path d="M533.40,385.40 C533.40,379.94 538.54,380.20 541.88,380.62 C544.97,380.93 547.53,380.93 550.62,380.62 C553.96,380.20 559.10,379.94 559.10,385.40 C559.10,390.86 553.96,390.60 550.62,390.18 C547.53,389.87 544.97,389.87 541.88,390.18 C538.54,390.60 533.40,390.86 533.40,385.40Z" fill="#030303" filter="url(#bblur)"/>
<path d="M564.90,384.40 C564.90,378.52 570.18,378.80 573.61,379.25 C576.78,379.58 579.42,379.58 582.59,379.25 C586.02,378.80 591.30,378.52 591.30,384.40 C591.30,390.28 586.02,390.00 582.59,389.55 C579.42,389.22 576.78,389.22 573.61,389.55 C570.18,390.00 564.90,390.28 564.90,384.40Z" fill="#030303" filter="url(#bblur)"/>
<path d="M599.20,385.20 C599.20,379.53 604.00,379.80 607.12,380.23 C610.00,380.56 612.40,380.56 615.28,380.23 C618.40,379.80 623.20,379.53 623.20,385.20 C623.20,390.87 618.40,390.60 615.28,390.17 C612.40,389.84 610.00,389.84 607.12,390.17 C604.00,390.60 599.20,390.87 599.20,385.20Z" fill="#030303" filter="url(#bblur)"/>
<path d="M631.10,385.50 C631.10,378.88 636.38,379.20 639.81,379.70 C642.98,380.08 645.62,380.08 648.79,379.70 C652.22,379.20 657.50,378.88 657.50,385.50 C657.50,392.12 652.22,391.80 648.79,391.30 C645.62,390.92 642.98,390.92 639.81,391.30 C636.38,391.80 631.10,392.12 631.10,385.50Z" fill="#030303" filter="url(#bblur)"/>
<rect x="466.50" y="395.80" width="91.50" height="1.30" fill="#1a1a1a" />
<rect x="565.00" y="395.80" width="91.50" height="1.30" fill="#1a1a1a" />
<text transform="translate(423.26,333.60) scale(0.8017,1)" font-size="12.14" font-weight="400" fill="#111" stroke="#111" stroke-width="0.28">SPI1</text>
<text transform="translate(417.10,360.90) scale(0.7997,1)" font-size="12.29" font-weight="400" fill="#111" stroke="#111" stroke-width="0.28">ACSL4</text>
<text transform="translate(411.58,388.30) scale(0.8613,1)" font-size="12.00" font-weight="400" fill="#111" stroke="#111" stroke-width="0.28">GAPDH</text>
<text transform="translate(674.76,330.50) scale(1.0186,1)" font-size="8.43" font-weight="400" fill="#111" stroke="#111" stroke-width="0.28">31</text>
<text transform="translate(674.67,359.10) scale(1.0115,1)" font-size="8.57" font-weight="400" fill="#111" stroke="#111" stroke-width="0.28">79</text>
<text transform="translate(674.75,386.70) scale(1.0236,1)" font-size="8.43" font-weight="400" fill="#111" stroke="#111" stroke-width="0.28">37</text>
<text transform="translate(574.43,409.70) scale(0.9551,1)" font-size="11.45" font-weight="400" fill="#111" stroke="#111" stroke-width="0.28">Erastin+shSPI1</text>
<polygon points="59.85,526.30 59.85,525.90 60.45,525.74 61.05,525.93 61.65,525.71 62.25,525.84 62.85,525.82 63.45,525.64 64.05,525.78 64.65,525.60 65.25,525.71 65.85,525.57 66.45,525.50 67.05,525.64 67.65,525.95 68.25,525.74 68.85,525.67 69.45,525.85 70.05,526.14 70.65,526.10 71.25,525.98 71.85,526.23 72.45,525.86 73.05,526.09 73.65,525.91 74.25,525.71 74.85,525.58 75.45,525.61 76.05,525.91 76.65,525.73 77.25,525.85 77.85,525.95 78.45,525.86 79.05,525.90 79.65,525.66 80.25,525.50 80.85,525.49 81.45,525.74 82.05,525.74 82.65,525.68 83.25,525.79 83.85,525.78 84.45,525.68 85.05,525.90 85.65,525.97 86.25,525.76 86.85,525.81 87.45,525.81 88.05,526.00 88.65,526.03 89.25,525.80 89.85,526.04 90.45,525.70 91.05,525.67 91.65,525.83 92.25,525.58 92.85,525.62 93.45,525.39 94.05,525.60 94.65,525.77 95.25,525.77 95.85,525.93 96.45,525.71 97.05,525.79 97.65,525.77 98.25,525.75 98.85,525.67 99.45,525.83 100.05,525.98 100.65,525.76 101.25,525.71 101.85,525.32 102.45,525.42 103.05,525.43 103.65,525.61 104.25,525.60 104.85,525.27 105.45,525.11 106.05,525.15 106.65,524.79 107.25,524.80 107.85,524.62 108.45,524.46 109.05,524.31 109.65,524.60 110.25,524.42 110.85,524.41 111.45,524.48 112.05,524.80 112.65,524.56 113.25,524.63 113.85,524.73 114.45,524.98 115.05,525.10 115.65,525.20 116.25,524.94 116.85,524.87 117.45,524.80 118.05,525.06 118.65,525.26 119.25,524.70 119.85,524.21 120.45,523.82 121.05,523.47 121.65,523.29 122.25,523.11 122.85,522.70 123.45,522.11 124.05,521.71 124.65,521.25 125.25,520.88 125.85,520.67 126.45,520.02 127.05,518.74 127.65,517.55 128.25,516.39 128.85,514.47 129.45,512.89 130.05,511.12 130.65,509.37 131.25,507.34 131.85,503.07 132.45,498.88 133.05,494.58 133.65,490.67 134.25,487.81 134.85,485.52 135.45,483.37 136.05,481.18 136.65,479.39 137.25,478.21 137.85,477.24 138.45,478.35 139.05,479.43 139.65,480.66 140.25,482.59 140.85,486.36 141.45,489.81 142.05,492.97 142.65,497.07 143.25,501.52 143.85,505.97 144.45,508.76 145.05,511.49 145.65,514.17 146.25,516.34 146.85,517.50 147.45,518.46 148.05,519.54 148.65,520.81 149.25,521.37 149.85,522.04 150.45,522.22 151.05,522.39 151.65,523.17 152.25,523.54 152.85,523.52 153.45,523.74 154.05,523.64 154.65,523.92 155.25,524.38 155.85,524.65 156.45,524.77 157.05,524.64 157.65,524.59 158.25,524.46 158.85,524.74 159.45,524.78 160.05,524.97 160.65,524.84 161.25,524.72 161.85,524.99 162.45,525.26 163.05,525.37 163.65,525.42 164.25,525.47 164.85,525.48 165.45,525.20 166.05,525.21 166.65,525.13 167.25,524.91 167.85,524.79 168.45,524.87 169.05,524.92 169.65,525.20 170.25,525.53 170.85,525.46 171.45,525.70 172.05,525.88 172.65,525.98 173.25,525.72 173.85,525.50 174.45,525.38 175.05,525.30 175.65,525.27 176.25,525.50 176.85,525.80 177.45,525.96 178.05,525.87 178.65,525.92 179.25,526.04 179.85,525.73 180.45,525.87 181.05,526.10 181.65,526.17 182.25,526.21 182.85,526.09 183.45,525.86 184.05,526.07 184.65,525.95 185.25,526.15 185.85,526.37 186.45,526.19 187.05,526.10 187.65,526.35 188.25,526.39 188.85,526.11 189.45,525.93 190.05,525.84 190.65,526.22 191.25,526.40 191.85,526.15 192.45,526.39 193.05,526.63 193.60,526.30" fill="#8c8cf0" fill-opacity="0.22"/>
<polyline points="59.85,525.90 60.45,525.74 61.05,525.93 61.65,525.71 62.25,525.84 62.85,525.82 63.45,525.64 64.05,525.78 64.65,525.60 65.25,525.71 65.85,525.57 66.45,525.50 67.05,525.64 67.65,525.95 68.25,525.74 68.85,525.67 69.45,525.85 70.05,526.14 70.65,526.10 71.25,525.98 71.85,526.23 72.45,525.86 73.05,526.09 73.65,525.91 74.25,525.71 74.85,525.58 75.45,525.61 76.05,525.91 76.65,525.73 77.25,525.85 77.85,525.95 78.45,525.86 79.05,525.90 79.65,525.66 80.25,525.50 80.85,525.49 81.45,525.74 82.05,525.74 82.65,525.68 83.25,525.79 83.85,525.78 84.45,525.68 85.05,525.90 85.65,525.97 86.25,525.76 86.85,525.81 87.45,525.81 88.05,526.00 88.65,526.03 89.25,525.80 89.85,526.04 90.45,525.70 91.05,525.67 91.65,525.83 92.25,525.58 92.85,525.62 93.45,525.39 94.05,525.60 94.65,525.77 95.25,525.77 95.85,525.93 96.45,525.71 97.05,525.79 97.65,525.77 98.25,525.75 98.85,525.67 99.45,525.83 100.05,525.98 100.65,525.76 101.25,525.71 101.85,525.32 102.45,525.42 103.05,525.43 103.65,525.61 104.25,525.60 104.85,525.27 105.45,525.11 106.05,525.15 106.65,524.79 107.25,524.80 107.85,524.62 108.45,524.46 109.05,524.31 109.65,524.60 110.25,524.42 110.85,524.41 111.45,524.48 112.05,524.80 112.65,524.56 113.25,524.63 113.85,524.73 114.45,524.98 115.05,525.10 115.65,525.20 116.25,524.94 116.85,524.87 117.45,524.80 118.05,525.06 118.65,525.26 119.25,524.70 119.85,524.21 120.45,523.82 121.05,523.47 121.65,523.29 122.25,523.11 122.85,522.70 123.45,522.11 124.05,521.71 124.65,521.25 125.25,520.88 125.85,520.67 126.45,520.02 127.05,518.74 127.65,517.55 128.25,516.39 128.85,514.47 129.45,512.89 130.05,511.12 130.65,509.37 131.25,507.34 131.85,503.07 132.45,498.88 133.05,494.58 133.65,490.67 134.25,487.81 134.85,485.52 135.45,483.37 136.05,481.18 136.65,479.39 137.25,478.21 137.85,477.24 138.45,478.35 139.05,479.43 139.65,480.66 140.25,482.59 140.85,486.36 141.45,489.81 142.05,492.97 142.65,497.07 143.25,501.52 143.85,505.97 144.45,508.76 145.05,511.49 145.65,514.17 146.25,516.34 146.85,517.50 147.45,518.46 148.05,519.54 148.65,520.81 149.25,521.37 149.85,522.04 150.45,522.22 151.05,522.39 151.65,523.17 152.25,523.54 152.85,523.52 153.45,523.74 154.05,523.64 154.65,523.92 155.25,524.38 155.85,524.65 156.45,524.77 157.05,524.64 157.65,524.59 158.25,524.46 158.85,524.74 159.45,524.78 160.05,524.97 160.65,524.84 161.25,524.72 161.85,524.99 162.45,525.26 163.05,525.37 163.65,525.42 164.25,525.47 164.85,525.48 165.45,525.20 166.05,525.21 166.65,525.13 167.25,524.91 167.85,524.79 168.45,524.87 169.05,524.92 169.65,525.20 170.25,525.53 170.85,525.46 171.45,525.70 172.05,525.88 172.65,525.98 173.25,525.72 173.85,525.50 174.45,525.38 175.05,525.30 175.65,525.27 176.25,525.50 176.85,525.80 177.45,525.96 178.05,525.87 178.65,525.92 179.25,526.04 179.85,525.73 180.45,525.87 181.05,526.10 181.65,526.17 182.25,526.21 182.85,526.09 183.45,525.86 184.05,526.07 184.65,525.95 185.25,526.15 185.85,526.37 186.45,526.19 187.05,526.10 187.65,526.35 188.25,526.39 188.85,526.11 189.45,525.93 190.05,525.84 190.65,526.22 191.25,526.40 191.85,526.15 192.45,526.39 193.05,526.63" fill="none" stroke="#2a2aff" stroke-width="0.85"/>
<polygon points="59.85,552.80 59.85,552.69 60.45,552.56 61.05,552.60 61.65,552.38 62.25,552.18 62.85,552.60 63.45,552.66 64.05,552.63 64.65,552.84 65.25,552.68 65.85,552.83 66.45,552.89 67.05,552.58 67.65,552.41 68.25,552.34 68.85,552.26 69.45,552.40 70.05,552.30 70.65,552.33 71.25,552.18 71.85,552.53 72.45,552.42 73.05,552.41 73.65,552.48 74.25,552.69 74.85,552.55 75.45,552.74 76.05,552.61 76.65,552.56 77.25,552.51 77.85,552.20 78.45,552.25 79.05,552.13 79.65,551.96 80.25,552.30 80.85,552.15 81.45,552.22 82.05,552.41 82.65,552.42 83.25,552.30 83.85,552.33 84.45,552.37 85.05,552.52 85.65,552.22 86.25,552.30 86.85,552.17 87.45,552.10 88.05,552.34 88.65,552.33 89.25,552.35 89.85,552.47 90.45,552.60 91.05,552.38 91.65,552.32 92.25,552.21 92.85,552.12 93.45,552.15 94.05,552.01 94.65,551.95 95.25,551.87 95.85,552.05 96.45,552.01 97.05,552.06 97.65,552.11 98.25,551.73 98.85,551.65 99.45,551.80 100.05,551.81 100.65,551.40 101.25,551.13 101.85,551.12 102.45,550.89 103.05,550.83 103.65,550.67 104.25,550.89 104.85,551.07 105.45,551.30 106.05,551.06 106.65,551.26 107.25,551.37 107.85,551.17 108.45,551.49 109.05,551.76 109.65,551.52 110.25,551.78 110.85,551.59 111.45,551.51 112.05,551.74 112.65,551.78 113.25,551.42 113.85,551.35 114.45,551.35 115.05,551.24 115.65,551.08 116.25,551.05 116.85,551.25 117.45,550.97 118.05,551.09 118.65,551.09 119.25,550.66 119.85,550.44 120.45,550.37 121.05,550.16 121.65,549.68 122.25,549.80 122.85,549.66 123.45,549.57 124.05,548.93 124.65,548.53 125.25,548.00 125.85,547.88 126.45,547.36 127.05,546.80 127.65,546.47 128.25,546.38 128.85,546.11 129.45,545.38 130.05,543.69 130.65,542.52 131.25,541.02 131.85,539.60 132.45,537.37 133.05,534.93 133.65,532.93 134.25,530.68 134.85,528.00 135.45,525.13 136.05,521.94 136.65,518.92 137.25,515.73 137.85,513.18 138.45,510.83 139.05,509.05 139.65,506.93 140.25,505.31 140.85,504.58 141.45,504.63 142.05,506.01 142.65,507.40 143.25,509.58 143.85,513.01 144.45,516.41 145.05,520.02 145.65,523.98 146.25,528.07 146.85,531.83 147.45,535.00 148.05,538.42 148.65,541.46 149.25,543.30 149.85,544.47 150.45,545.79 151.05,546.93 151.65,548.27 152.25,549.47 152.85,550.30 153.45,550.62 154.05,550.69 154.65,550.99 155.25,551.51 155.85,551.45 156.45,551.78 157.05,551.79 157.65,551.86 158.25,551.98 158.85,551.58 159.45,551.30 160.05,551.13 160.65,551.09 161.25,550.64 161.85,551.05 162.45,551.33 163.05,551.57 163.65,551.69 164.25,551.83 164.85,551.86 165.45,551.84 166.05,551.76 166.65,552.09 167.25,552.02 167.85,551.94 168.45,551.84 169.05,552.22 169.65,552.46 170.25,552.48 170.85,552.24 171.45,552.05 172.05,551.95 172.65,551.97 173.25,551.79 173.85,551.83 174.45,551.74 175.05,552.05 175.65,552.23 176.25,552.09 176.85,551.81 177.45,552.03 178.05,551.78 178.65,551.64 179.25,551.34 179.85,551.36 180.45,551.47 181.05,551.58 181.65,551.50 182.25,551.63 182.85,551.45 183.45,551.51 184.05,551.46 184.65,551.62 185.25,551.54 185.85,551.49 186.45,551.64 187.05,551.71 187.65,551.97 188.25,552.10 188.85,552.33 189.45,552.43 190.05,552.54 190.65,552.72 191.25,552.57 191.85,552.46 192.45,552.78 193.05,552.52 193.60,552.80" fill="#f09090" fill-opacity="0.22"/>
<polyline points="59.85,552.69 60.45,552.56 61.05,552.60 61.65,552.38 62.25,552.18 62.85,552.60 63.45,552.66 64.05,552.63 64.65,552.84 65.25,552.68 65.85,552.83 66.45,552.89 67.05,552.58 67.65,552.41 68.25,552.34 68.85,552.26 69.45,552.40 70.05,552.30 70.65,552.33 71.25,552.18 71.85,552.53 72.45,552.42 73.05,552.41 73.65,552.48 74.25,552.69 74.85,552.55 75.45,552.74 76.05,552.61 76.65,552.56 77.25,552.51 77.85,552.20 78.45,552.25 79.05,552.13 79.65,551.96 80.25,552.30 80.85,552.15 81.45,552.22 82.05,552.41 82.65,552.42 83.25,552.30 83.85,552.33 84.45,552.37 85.05,552.52 85.65,552.22 86.25,552.30 86.85,552.17 87.45,552.10 88.05,552.34 88.65,552.33 89.25,552.35 89.85,552.47 90.45,552.60 91.05,552.38 91.65,552.32 92.25,552.21 92.85,552.12 93.45,552.15 94.05,552.01 94.65,551.95 95.25,551.87 95.85,552.05 96.45,552.01 97.05,552.06 97.65,552.11 98.25,551.73 98.85,551.65 99.45,551.80 100.05,551.81 100.65,551.40 101.25,551.13 101.85,551.12 102.45,550.89 103.05,550.83 103.65,550.67 104.25,550.89 104.85,551.07 105.45,551.30 106.05,551.06 106.65,551.26 107.25,551.37 107.85,551.17 108.45,551.49 109.05,551.76 109.65,551.52 110.25,551.78 110.85,551.59 111.45,551.51 112.05,551.74 112.65,551.78 113.25,551.42 113.85,551.35 114.45,551.35 115.05,551.24 115.65,551.08 116.25,551.05 116.85,551.25 117.45,550.97 118.05,551.09 118.65,551.09 119.25,550.66 119.85,550.44 120.45,550.37 121.05,550.16 121.65,549.68 122.25,549.80 122.85,549.66 123.45,549.57 124.05,548.93 124.65,548.53 125.25,548.00 125.85,547.88 126.45,547.36 127.05,546.80 127.65,546.47 128.25,546.38 128.85,546.11 129.45,545.38 130.05,543.69 130.65,542.52 131.25,541.02 131.85,539.60 132.45,537.37 133.05,534.93 133.65,532.93 134.25,530.68 134.85,528.00 135.45,525.13 136.05,521.94 136.65,518.92 137.25,515.73 137.85,513.18 138.45,510.83 139.05,509.05 139.65,506.93 140.25,505.31 140.85,504.58 141.45,504.63 142.05,506.01 142.65,507.40 143.25,509.58 143.85,513.01 144.45,516.41 145.05,520.02 145.65,523.98 146.25,528.07 146.85,531.83 147.45,535.00 148.05,538.42 148.65,541.46 149.25,543.30 149.85,544.47 150.45,545.79 151.05,546.93 151.65,548.27 152.25,549.47 152.85,550.30 153.45,550.62 154.05,550.69 154.65,550.99 155.25,551.51 155.85,551.45 156.45,551.78 157.05,551.79 157.65,551.86 158.25,551.98 158.85,551.58 159.45,551.30 160.05,551.13 160.65,551.09 161.25,550.64 161.85,551.05 162.45,551.33 163.05,551.57 163.65,551.69 164.25,551.83 164.85,551.86 165.45,551.84 166.05,551.76 166.65,552.09 167.25,552.02 167.85,551.94 168.45,551.84 169.05,552.22 169.65,552.46 170.25,552.48 170.85,552.24 171.45,552.05 172.05,551.95 172.65,551.97 173.25,551.79 173.85,551.83 174.45,551.74 175.05,552.05 175.65,552.23 176.25,552.09 176.85,551.81 177.45,552.03 178.05,551.78 178.65,551.64 179.25,551.34 179.85,551.36 180.45,551.47 181.05,551.58 181.65,551.50 182.25,551.63 182.85,551.45 183.45,551.51 184.05,551.46 184.65,551.62 185.25,551.54 185.85,551.49 186.45,551.64 187.05,551.71 187.65,551.97 188.25,552.10 188.85,552.33 189.45,552.43 190.05,552.54 190.65,552.72 191.25,552.57 191.85,552.46 192.45,552.78 193.05,552.52" fill="none" stroke="#ff2a2a" stroke-width="0.85"/>
<polygon points="59.85,579.60 59.85,579.53 60.45,579.55 61.05,579.23 61.65,579.48 62.25,579.66 62.85,579.62 63.45,579.65 64.05,579.72 64.65,579.38 65.25,579.39 65.85,579.38 66.45,579.56 67.05,579.65 67.65,579.72 68.25,579.62 68.85,579.73 69.45,579.68 70.05,579.65 70.65,579.38 71.25,579.10 71.85,578.99 72.45,579.05 73.05,578.94 73.65,579.28 74.25,579.33 74.85,579.40 75.45,579.44 76.05,579.49 76.65,579.41 77.25,579.09 77.85,579.34 78.45,579.47 79.05,579.40 79.65,579.38 80.25,579.43 80.85,579.13 81.45,579.33 82.05,579.17 82.65,578.98 83.25,578.97 83.85,579.22 84.45,579.08 85.05,579.29 85.65,579.55 86.25,579.43 86.85,579.30 87.45,579.27 88.05,579.37 88.65,579.47 89.25,579.45 89.85,579.45 90.45,579.13 91.05,578.98 91.65,578.94 92.25,579.20 92.85,579.10 93.45,579.19 94.05,578.93 94.65,578.80 95.25,578.84 95.85,579.09 96.45,579.24 97.05,579.33 97.65,579.16 98.25,579.19 98.85,579.17 99.45,579.16 100.05,578.96 100.65,579.25 101.25,579.02 101.85,579.30 102.45,579.44 103.05,578.99 103.65,578.96 104.25,579.13 104.85,579.31 105.45,579.11 106.05,578.88 106.65,578.69 107.25,578.98 107.85,578.73 108.45,578.78 109.05,578.55 109.65,578.61 110.25,578.90 110.85,578.63 111.45,578.86 112.05,578.83 112.65,579.03 113.25,579.05 113.85,578.81 114.45,579.04 115.05,578.96 115.65,578.66 116.25,578.47 116.85,578.63 117.45,578.72 118.05,578.60 118.65,578.12 119.25,577.81 119.85,577.46 120.45,577.40 121.05,576.75 121.65,576.63 122.25,576.90 122.85,576.99 123.45,577.65 124.05,578.08 124.65,578.53 125.25,577.89 125.85,577.41 126.45,576.98 127.05,576.91 127.65,576.49 128.25,575.96 128.85,575.53 129.45,574.96 130.05,573.57 130.65,572.28 131.25,571.43 131.85,570.14 132.45,569.25 133.05,568.31 133.65,567.50 134.25,566.88 134.85,566.04 135.45,565.37 136.05,563.01 136.65,559.80 137.25,556.49 137.85,552.60 138.45,546.82 139.05,538.30 139.65,536.49 140.25,535.47 140.85,534.39 141.45,533.94 142.05,533.28 142.65,532.50 143.25,531.50 143.85,531.54 144.45,532.40 145.05,534.52 145.65,538.02 146.25,541.81 146.85,545.83 147.45,550.32 148.05,554.67 148.65,559.03 149.25,562.89 149.85,565.76 150.45,568.27 151.05,571.00 151.65,573.17 152.25,573.89 152.85,574.68 153.45,575.54 154.05,576.80 154.65,577.69 155.25,578.00 155.85,578.18 156.45,578.30 157.05,578.01 157.65,577.63 158.25,577.38 158.85,577.14 159.45,577.10 160.05,577.06 160.65,577.14 161.25,577.23 161.85,577.48 162.45,577.83 163.05,577.99 163.65,577.93 164.25,577.92 164.85,577.99 165.45,577.90 166.05,577.79 166.65,577.55 167.25,577.51 167.85,577.85 168.45,577.57 169.05,577.59 169.65,577.66 170.25,577.81 170.85,577.52 171.45,577.36 172.05,577.23 172.65,577.22 173.25,577.22 173.85,577.49 174.45,577.57 175.05,577.61 175.65,577.14 176.25,576.85 176.85,577.04 177.45,577.23 178.05,577.11 178.65,577.20 179.25,576.97 179.85,577.08 180.45,577.49 181.05,577.71 181.65,577.89 182.25,578.10 182.85,577.86 183.45,577.67 184.05,577.62 184.65,577.83 185.25,578.08 185.85,578.41 186.45,578.52 187.05,578.58 187.65,578.72 188.25,578.67 188.85,578.72 189.45,578.50 190.05,578.82 190.65,578.74 191.25,579.12 191.85,579.22 192.45,579.13 193.05,579.01 193.60,579.60" fill="#90e0a0" fill-opacity="0.2"/>
<polyline points="59.85,579.53 60.45,579.55 61.05,579.23 61.65,579.48 62.25,579.66 62.85,579.62 63.45,579.65 64.05,579.72 64.65,579.38 65.25,579.39 65.85,579.38 66.45,579.56 67.05,579.65 67.65,579.72 68.25,579.62 68.85,579.73 69.45,579.68 70.05,579.65 70.65,579.38 71.25,579.10 71.85,578.99 72.45,579.05 73.05,578.94 73.65,579.28 74.25,579.33 74.85,579.40 75.45,579.44 76.05,579.49 76.65,579.41 77.25,579.09 77.85,579.34 78.45,579.47 79.05,579.40 79.65,579.38 80.25,579.43 80.85,579.13 81.45,579.33 82.05,579.17 82.65,578.98 83.25,578.97 83.85,579.22 84.45,579.08 85.05,579.29 85.65,579.55 86.25,579.43 86.85,579.30 87.45,579.27 88.05,579.37 88.65,579.47 89.25,579.45 89.85,579.45 90.45,579.13 91.05,578.98 91.65,578.94 92.25,579.20 92.85,579.10 93.45,579.19 94.05,578.93 94.65,578.80 95.25,578.84 95.85,579.09 96.45,579.24 97.05,579.33 97.65,579.16 98.25,579.19 98.85,579.17 99.45,579.16 100.05,578.96 100.65,579.25 101.25,579.02 101.85,579.30 102.45,579.44 103.05,578.99 103.65,578.96 104.25,579.13 104.85,579.31 105.45,579.11 106.05,578.88 106.65,578.69 107.25,578.98 107.85,578.73 108.45,578.78 109.05,578.55 109.65,578.61 110.25,578.90 110.85,578.63 111.45,578.86 112.05,578.83 112.65,579.03 113.25,579.05 113.85,578.81 114.45,579.04 115.05,578.96 115.65,578.66 116.25,578.47 116.85,578.63 117.45,578.72 118.05,578.60 118.65,578.12 119.25,577.81 119.85,577.46 120.45,577.40 121.05,576.75 121.65,576.63 122.25,576.90 122.85,576.99 123.45,577.65 124.05,578.08 124.65,578.53 125.25,577.89 125.85,577.41 126.45,576.98 127.05,576.91 127.65,576.49 128.25,575.96 128.85,575.53 129.45,574.96 130.05,573.57 130.65,572.28 131.25,571.43 131.85,570.14 132.45,569.25 133.05,568.31 133.65,567.50 134.25,566.88 134.85,566.04 135.45,565.37 136.05,563.01 136.65,559.80 137.25,556.49 137.85,552.60 138.45,546.82 139.05,538.30 139.65,536.49 140.25,535.47 140.85,534.39 141.45,533.94 142.05,533.28 142.65,532.50 143.25,531.50 143.85,531.54 144.45,532.40 145.05,534.52 145.65,538.02 146.25,541.81 146.85,545.83 147.45,550.32 148.05,554.67 148.65,559.03 149.25,562.89 149.85,565.76 150.45,568.27 151.05,571.00 151.65,573.17 152.25,573.89 152.85,574.68 153.45,575.54 154.05,576.80 154.65,577.69 155.25,578.00 155.85,578.18 156.45,578.30 157.05,578.01 157.65,577.63 158.25,577.38 158.85,577.14 159.45,577.10 160.05,577.06 160.65,577.14 161.25,577.23 161.85,577.48 162.45,577.83 163.05,577.99 163.65,577.93 164.25,577.92 164.85,577.99 165.45,577.90 166.05,577.79 166.65,577.55 167.25,577.51 167.85,577.85 168.45,577.57 169.05,577.59 169.65,577.66 170.25,577.81 170.85,577.52 171.45,577.36 172.05,577.23 172.65,577.22 173.25,577.22 173.85,577.49 174.45,577.57 175.05,577.61 175.65,577.14 176.25,576.85 176.85,577.04 177.45,577.23 178.05,577.11 178.65,577.20 179.25,576.97 179.85,577.08 180.45,577.49 181.05,577.71 181.65,577.89 182.25,578.10 182.85,577.86 183.45,577.67 184.05,577.62 184.65,577.83 185.25,578.08 185.85,578.41 186.45,578.52 187.05,578.58 187.65,578.72 188.25,578.67 188.85,578.72 189.45,578.50 190.05,578.82 190.65,578.74 191.25,579.12 191.85,579.22 192.45,579.13 193.05,579.01" fill="none" stroke="#2fbf2f" stroke-width="0.85"/>
<polygon points="59.85,605.80 59.85,605.56 60.45,605.69 61.05,605.80 61.65,605.54 62.25,605.36 62.85,605.50 63.45,605.62 64.05,605.58 64.65,605.47 65.25,605.61 65.85,605.36 66.45,605.37 67.05,605.47 67.65,605.81 68.25,605.83 68.85,605.98 69.45,605.84 70.05,605.62 70.65,605.49 71.25,605.81 71.85,605.86 72.45,605.67 73.05,605.39 73.65,605.49 74.25,605.65 74.85,605.60 75.45,605.48 76.05,605.64 76.65,605.87 77.25,605.62 77.85,605.36 78.45,605.38 79.05,605.43 79.65,605.61 80.25,605.44 80.85,605.68 81.45,605.79 82.05,605.72 82.65,605.51 83.25,605.81 83.85,605.62 84.45,605.79 85.05,605.57 85.65,605.42 86.25,605.63 86.85,605.47 87.45,605.74 88.05,605.63 88.65,605.38 89.25,605.24 89.85,605.26 90.45,605.40 91.05,605.63 91.65,605.31 92.25,605.24 92.85,605.09 93.45,605.42 94.05,605.14 94.65,604.91 95.25,604.76 95.85,604.85 96.45,605.18 97.05,605.36 97.65,605.37 98.25,605.52 98.85,605.56 99.45,605.23 100.05,604.95 100.65,605.24 101.25,605.32 101.85,604.97 102.45,605.13 103.05,605.07 103.65,605.05 104.25,605.02 104.85,604.92 105.45,604.77 106.05,604.85 106.65,604.95 107.25,605.35 107.85,605.14 108.45,605.49 109.05,605.29 109.65,605.26 110.25,605.46 110.85,605.50 111.45,605.26 112.05,604.86 112.65,604.82 113.25,604.70 113.85,604.89 114.45,604.56 115.05,604.42 115.65,604.53 116.25,604.02 116.85,603.84 117.45,603.89 118.05,603.81 118.65,603.28 119.25,602.88 119.85,602.58 120.45,602.80 121.05,602.49 121.65,602.53 122.25,602.67 122.85,602.42 123.45,602.21 124.05,602.44 124.65,602.36 125.25,602.09 125.85,602.38 126.45,602.47 127.05,602.60 127.65,602.61 128.25,602.15 128.85,601.57 129.45,600.72 130.05,600.05 130.65,598.80 131.25,597.83 131.85,597.05 132.45,596.51 133.05,595.85 133.65,594.56 134.25,592.93 134.85,591.48 135.45,590.07 136.05,588.79 136.65,585.88 137.25,583.43 137.85,580.86 138.45,578.11 139.05,575.00 139.65,571.79 140.25,568.46 140.85,565.20 141.45,563.23 142.05,561.64 142.65,559.57 143.25,557.67 143.85,559.89 144.45,562.98 145.05,566.02 145.65,570.32 146.25,575.83 146.85,581.12 147.45,586.78 148.05,590.46 148.65,593.98 149.25,597.02 149.85,599.42 150.45,599.94 151.05,600.75 151.65,601.63 152.25,602.29 152.85,602.83 153.45,603.28 154.05,603.46 154.65,603.61 155.25,603.77 155.85,603.94 156.45,603.97 157.05,603.70 157.65,603.96 158.25,603.86 158.85,603.98 159.45,603.98 160.05,604.21 160.65,604.08 161.25,604.06 161.85,604.08 162.45,604.07 163.05,604.50 163.65,604.55 164.25,604.44 164.85,604.41 165.45,604.73 166.05,604.65 166.65,604.45 167.25,604.66 167.85,604.69 168.45,604.91 169.05,604.54 169.65,604.53 170.25,604.71 170.85,604.84 171.45,604.96 172.05,604.54 172.65,604.43 173.25,604.27 173.85,604.22 174.45,604.62 175.05,604.65 175.65,604.86 176.25,604.68 176.85,604.85 177.45,604.72 178.05,604.53 178.65,604.71 179.25,604.92 179.85,604.57 180.45,604.67 181.05,604.76 181.65,604.60 182.25,604.61 182.85,604.51 183.45,604.49 184.05,604.53 184.65,604.76 185.25,604.94 185.85,604.82 186.45,604.65 187.05,604.75 187.65,605.01 188.25,604.91 188.85,604.94 189.45,604.91 190.05,605.24 190.65,605.32 191.25,605.11 191.85,605.02 192.45,605.15 193.05,605.33 193.60,605.80" fill="#b4a0dc" fill-opacity="0.3"/>
<polyline points="59.85,605.56 60.45,605.69 61.05,605.80 61.65,605.54 62.25,605.36 62.85,605.50 63.45,605.62 64.05,605.58 64.65,605.47 65.25,605.61 65.85,605.36 66.45,605.37 67.05,605.47 67.65,605.81 68.25,605.83 68.85,605.98 69.45,605.84 70.05,605.62 70.65,605.49 71.25,605.81 71.85,605.86 72.45,605.67 73.05,605.39 73.65,605.49 74.25,605.65 74.85,605.60 75.45,605.48 76.05,605.64 76.65,605.87 77.25,605.62 77.85,605.36 78.45,605.38 79.05,605.43 79.65,605.61 80.25,605.44 80.85,605.68 81.45,605.79 82.05,605.72 82.65,605.51 83.25,605.81 83.85,605.62 84.45,605.79 85.05,605.57 85.65,605.42 86.25,605.63 86.85,605.47 87.45,605.74 88.05,605.63 88.65,605.38 89.25,605.24 89.85,605.26 90.45,605.40 91.05,605.63 91.65,605.31 92.25,605.24 92.85,605.09 93.45,605.42 94.05,605.14 94.65,604.91 95.25,604.76 95.85,604.85 96.45,605.18 97.05,605.36 97.65,605.37 98.25,605.52 98.85,605.56 99.45,605.23 100.05,604.95 100.65,605.24 101.25,605.32 101.85,604.97 102.45,605.13 103.05,605.07 103.65,605.05 104.25,605.02 104.85,604.92 105.45,604.77 106.05,604.85 106.65,604.95 107.25,605.35 107.85,605.14 108.45,605.49 109.05,605.29 109.65,605.26 110.25,605.46 110.85,605.50 111.45,605.26 112.05,604.86 112.65,604.82 113.25,604.70 113.85,604.89 114.45,604.56 115.05,604.42 115.65,604.53 116.25,604.02 116.85,603.84 117.45,603.89 118.05,603.81 118.65,603.28 119.25,602.88 119.85,602.58 120.45,602.80 121.05,602.49 121.65,602.53 122.25,602.67 122.85,602.42 123.45,602.21 124.05,602.44 124.65,602.36 125.25,602.09 125.85,602.38 126.45,602.47 127.05,602.60 127.65,602.61 128.25,602.15 128.85,601.57 129.45,600.72 130.05,600.05 130.65,598.80 131.25,597.83 131.85,597.05 132.45,596.51 133.05,595.85 133.65,594.56 134.25,592.93 134.85,591.48 135.45,590.07 136.05,588.79 136.65,585.88 137.25,583.43 137.85,580.86 138.45,578.11 139.05,575.00 139.65,571.79 140.25,568.46 140.85,565.20 141.45,563.23 142.05,561.64 142.65,559.57 143.25,557.67 143.85,559.89 144.45,562.98 145.05,566.02 145.65,570.32 146.25,575.83 146.85,581.12 147.45,586.78 148.05,590.46 148.65,593.98 149.25,597.02 149.85,599.42 150.45,599.94 151.05,600.75 151.65,601.63 152.25,602.29 152.85,602.83 153.45,603.28 154.05,603.46 154.65,603.61 155.25,603.77 155.85,603.94 156.45,603.97 157.05,603.70 157.65,603.96 158.25,603.86 158.85,603.98 159.45,603.98 160.05,604.21 160.65,604.08 161.25,604.06 161.85,604.08 162.45,604.07 163.05,604.50 163.65,604.55 164.25,604.44 164.85,604.41 165.45,604.73 166.05,604.65 166.65,604.45 167.25,604.66 167.85,604.69 168.45,604.91 169.05,604.54 169.65,604.53 170.25,604.71 170.85,604.84 171.45,604.96 172.05,604.54 172.65,604.43 173.25,604.27 173.85,604.22 174.45,604.62 175.05,604.65 175.65,604.86 176.25,604.68 176.85,604.85 177.45,604.72 178.05,604.53 178.65,604.71 179.25,604.92 179.85,604.57 180.45,604.67 181.05,604.76 181.65,604.60 182.25,604.61 182.85,604.51 183.45,604.49 184.05,604.53 184.65,604.76 185.25,604.94 185.85,604.82 186.45,604.65 187.05,604.75 187.65,605.01 188.25,604.91 188.85,604.94 189.45,604.91 190.05,605.24 190.65,605.32 191.25,605.11 191.85,605.02 192.45,605.15 193.05,605.33" fill="none" stroke="#6a3cb8" stroke-width="0.85"/>
<rect x="60.35" y="472.60" width="112.00" height="42.90" fill="#ffffff" fill-opacity="0.72"/>
<rect x="59.85" y="472.1" width="133.75" height="133.80" fill="none" stroke="#2a2a2a" stroke-width="0.9"/>
<line x1="57.05" y1="605.90" x2="59.85" y2="605.90" stroke="#2a2a2a" stroke-width="0.7" />
<text transform="translate(52.4,605.90) rotate(-90)" font-size="8.4" text-anchor="middle" fill="#333" textLength="4.4" lengthAdjust="spacingAndGlyphs">0</text>
<line x1="58.35" y1="601.06" x2="59.85" y2="601.06" stroke="#2a2a2a" stroke-width="0.7" />
<line x1="58.35" y1="596.22" x2="59.85" y2="596.22" stroke="#2a2a2a" stroke-width="0.7" />
<line x1="58.35" y1="591.38" x2="59.85" y2="591.38" stroke="#2a2a2a" stroke-width="0.7" />
<line x1="58.35" y1="586.54" x2="59.85" y2="586.54" stroke="#2a2a2a" stroke-width="0.7" />
<line x1="57.05" y1="581.70" x2="59.85" y2="581.70" stroke="#2a2a2a" stroke-width="0.7" />
<text transform="translate(52.4,581.70) rotate(-90)" font-size="8.4" text-anchor="middle" fill="#333" textLength="8.2" lengthAdjust="spacingAndGlyphs">20</text>
<line x1="58.35" y1="576.86" x2="59.85" y2="576.86" stroke="#2a2a2a" stroke-width="0.7" />
<line x1="58.35" y1="572.02" x2="59.85" y2="572.02" stroke="#2a2a2a" stroke-width="0.7" />
<line x1="58.35" y1="567.18" x2="59.85" y2="567.18" stroke="#2a2a2a" stroke-width="0.7" />
<line x1="58.35" y1="562.34" x2="59.85" y2="562.34" stroke="#2a2a2a" stroke-width="0.7" />
<line x1="57.05" y1="557.50" x2="59.85" y2="557.50" stroke="#2a2a2a" stroke-width="0.7" />
<text transform="translate(52.4,557.50) rotate(-90)" font-size="8.4" text-anchor="middle" fill="#333" textLength="8.2" lengthAdjust="spacingAndGlyphs">40</text>
<line x1="58.35" y1="552.66" x2="59.85" y2="552.66" stroke="#2a2a2a" stroke-width="0.7" />
<line x1="58.35" y1="547.82" x2="59.85" y2="547.82" stroke="#2a2a2a" stroke-width="0.7" />
<line x1="58.35" y1="542.98" x2="59.85" y2="542.98" stroke="#2a2a2a" stroke-width="0.7" />
<line x1="58.35" y1="538.14" x2="59.85" y2="538.14" stroke="#2a2a2a" stroke-width="0.7" />
<line x1="57.05" y1="533.30" x2="59.85" y2="533.30" stroke="#2a2a2a" stroke-width="0.7" />
<text transform="translate(52.4,533.30) rotate(-90)" font-size="8.4" text-anchor="middle" fill="#333" textLength="8.2" lengthAdjust="spacingAndGlyphs">60</text>
<line x1="58.35" y1="528.46" x2="59.85" y2="528.46" stroke="#2a2a2a" stroke-width="0.7" />
<line x1="58.35" y1="523.62" x2="59.85" y2="523.62" stroke="#2a2a2a" stroke-width="0.7" />
<line x1="58.35" y1="518.78" x2="59.85" y2="518.78" stroke="#2a2a2a" stroke-width="0.7" />
<line x1="58.35" y1="513.94" x2="59.85" y2="513.94" stroke="#2a2a2a" stroke-width="0.7" />
<line x1="57.05" y1="509.10" x2="59.85" y2="509.10" stroke="#2a2a2a" stroke-width="0.7" />
<text transform="translate(52.4,509.10) rotate(-90)" font-size="8.4" text-anchor="middle" fill="#333" textLength="8.2" lengthAdjust="spacingAndGlyphs">80</text>
<line x1="58.35" y1="504.26" x2="59.85" y2="504.26" stroke="#2a2a2a" stroke-width="0.7" />
<line x1="58.35" y1="499.42" x2="59.85" y2="499.42" stroke="#2a2a2a" stroke-width="0.7" />
<line x1="58.35" y1="494.58" x2="59.85" y2="494.58" stroke="#2a2a2a" stroke-width="0.7" />
<line x1="58.35" y1="489.74" x2="59.85" y2="489.74" stroke="#2a2a2a" stroke-width="0.7" />
<line x1="57.05" y1="484.90" x2="59.85" y2="484.90" stroke="#2a2a2a" stroke-width="0.7" />
<text transform="translate(52.4,484.90) rotate(-90)" font-size="8.4" text-anchor="middle" fill="#333" textLength="12.0" lengthAdjust="spacingAndGlyphs">100</text>
<line x1="58.35" y1="480.06" x2="59.85" y2="480.06" stroke="#2a2a2a" stroke-width="0.7" />
<line x1="58.35" y1="475.22" x2="59.85" y2="475.22" stroke="#2a2a2a" stroke-width="0.7" />
<line x1="63.26" y1="605.90" x2="63.26" y2="607.30" stroke="#2a2a2a" stroke-width="0.7" />
<line x1="66.50" y1="605.90" x2="66.50" y2="607.30" stroke="#2a2a2a" stroke-width="0.7" />
<line x1="69.15" y1="605.90" x2="69.15" y2="607.30" stroke="#2a2a2a" stroke-width="0.7" />
<line x1="71.39" y1="605.90" x2="71.39" y2="607.30" stroke="#2a2a2a" stroke-width="0.7" />
<line x1="73.33" y1="605.90" x2="73.33" y2="607.30" stroke="#2a2a2a" stroke-width="0.7" />
<line x1="75.04" y1="605.90" x2="75.04" y2="607.30" stroke="#2a2a2a" stroke-width="0.7" />
<line x1="76.57" y1="605.90" x2="76.57" y2="608.50" stroke="#2a2a2a" stroke-width="0.7" />
<line x1="86.63" y1="605.90" x2="86.63" y2="607.30" stroke="#2a2a2a" stroke-width="0.7" />
<line x1="92.52" y1="605.90" x2="92.52" y2="607.30" stroke="#2a2a2a" stroke-width="0.7" />
<line x1="96.70" y1="605.90" x2="96.70" y2="607.30" stroke="#2a2a2a" stroke-width="0.7" />
<line x1="99.94" y1="605.90" x2="99.94" y2="607.30" stroke="#2a2a2a" stroke-width="0.7" />
<line x1="102.59" y1="605.90" x2="102.59" y2="607.30" stroke="#2a2a2a" stroke-width="0.7" />
<line x1="104.83" y1="605.90" x2="104.83" y2="607.30" stroke="#2a2a2a" stroke-width="0.7" />
<line x1="106.77" y1="605.90" x2="106.77" y2="607.30" stroke="#2a2a2a" stroke-width="0.7" />
<line x1="108.48" y1="605.90" x2="108.48" y2="607.30" stroke="#2a2a2a" stroke-width="0.7" />
<line x1="110.01" y1="605.90" x2="110.01" y2="608.50" stroke="#2a2a2a" stroke-width="0.7" />
<line x1="120.07" y1="605.90" x2="120.07" y2="607.30" stroke="#2a2a2a" stroke-width="0.7" />
<line x1="125.96" y1="605.90" x2="125.96" y2="607.30" stroke="#2a2a2a" stroke-width="0.7" />
<line x1="130.14" y1="605.90" x2="130.14" y2="607.30" stroke="#2a2a2a" stroke-width="0.7" />
<line x1="133.38" y1="605.90" x2="133.38" y2="607.30" stroke="#2a2a2a" stroke-width="0.7" />
<line x1="136.03" y1="605.90" x2="136.03" y2="607.30" stroke="#2a2a2a" stroke-width="0.7" />
<line x1="138.26" y1="605.90" x2="138.26" y2="607.30" stroke="#2a2a2a" stroke-width="0.7" />
<line x1="140.20" y1="605.90" x2="140.20" y2="607.30" stroke="#2a2a2a" stroke-width="0.7" />
<line x1="141.91" y1="605.90" x2="141.91" y2="607.30" stroke="#2a2a2a" stroke-width="0.7" />
<line x1="143.44" y1="605.90" x2="143.44" y2="608.50" stroke="#2a2a2a" stroke-width="0.7" />
<line x1="153.51" y1="605.90" x2="153.51" y2="607.30" stroke="#2a2a2a" stroke-width="0.7" />
<line x1="159.40" y1="605.90" x2="159.40" y2="607.30" stroke="#2a2a2a" stroke-width="0.7" />
<line x1="163.58" y1="605.90" x2="163.58" y2="607.30" stroke="#2a2a2a" stroke-width="0.7" />
<line x1="166.82" y1="605.90" x2="166.82" y2="607.30" stroke="#2a2a2a" stroke-width="0.7" />
<line x1="169.46" y1="605.90" x2="169.46" y2="607.30" stroke="#2a2a2a" stroke-width="0.7" />
<line x1="171.70" y1="605.90" x2="171.70" y2="607.30" stroke="#2a2a2a" stroke-width="0.7" />
<line x1="173.64" y1="605.90" x2="173.64" y2="607.30" stroke="#2a2a2a" stroke-width="0.7" />
<line x1="175.35" y1="605.90" x2="175.35" y2="607.30" stroke="#2a2a2a" stroke-width="0.7" />
<line x1="176.88" y1="605.90" x2="176.88" y2="608.50" stroke="#2a2a2a" stroke-width="0.7" />
<line x1="186.95" y1="605.90" x2="186.95" y2="607.30" stroke="#2a2a2a" stroke-width="0.7" />
<line x1="192.83" y1="605.90" x2="192.83" y2="607.30" stroke="#2a2a2a" stroke-width="0.7" />
<text x="53.60" y="618.7" font-size="7.4" fill="#333">10<tspan font-size="6.2" dx="0.7" dy="-3.3">2.5</tspan></text>
<text x="104.20" y="618.7" font-size="7.4" fill="#333">10<tspan font-size="6.2" dx="0.7" dy="-3.3">4</tspan></text>
<text x="137.10" y="618.7" font-size="7.4" fill="#333">10<tspan font-size="6.2" dx="0.7" dy="-3.3">5</tspan></text>
<text x="184.50" y="618.7" font-size="7.4" fill="#333">10<tspan font-size="6.2" dx="0.7" dy="-3.3">6.5</tspan></text>
<text transform="translate(114.01,630.70) scale(1.0178,1)" font-size="7.29" font-weight="400" fill="#333" >FITC-H</text>
<text transform="translate(40.0,539.8) rotate(-90)" font-size="7.6" text-anchor="middle" fill="#333" textLength="34.5" lengthAdjust="spacingAndGlyphs">Count  (%)</text>
<rect x="62.6" y="475.80" width="15.7" height="4.3" fill="#e4e4fa" stroke="#3c3cff" stroke-width="0.9"/>
<rect x="62.6" y="486.60" width="15.7" height="4.3" fill="#fbe8e8" stroke="#ff4040" stroke-width="0.9"/>
<rect x="62.6" y="497.40" width="15.7" height="4.3" fill="#e6f7e8" stroke="#44c044" stroke-width="0.9"/>
<rect x="62.6" y="508.00" width="15.7" height="4.3" fill="#ece8f6" stroke="#7048b8" stroke-width="0.9"/>
<text x="83.4" y="480.60" font-size="7.4" fill="#222" stroke="#222" stroke-width="0.12" textLength="21.6" lengthAdjust="spacingAndGlyphs">DMSO</text>
<text x="83.4" y="491.40" font-size="7.4" fill="#222" stroke="#222" stroke-width="0.12" textLength="19.5" lengthAdjust="spacingAndGlyphs">Erastin</text>
<text x="83.4" y="502.20" font-size="7.4" fill="#222" stroke="#222" stroke-width="0.12" textLength="47.0" lengthAdjust="spacingAndGlyphs">shSPI1+Erastin</text>
<text x="83.4" y="512.80" font-size="7.4" fill="#222" stroke="#222" stroke-width="0.12" textLength="85.7" lengthAdjust="spacingAndGlyphs">shSPI1+Erastin+si-ACSL4</text>
<line x1="274.40" y1="599.80" x2="274.40" y2="494.20" stroke="#1a1a1a" stroke-width="1.0" />
<line x1="271.40" y1="599.30" x2="274.40" y2="599.30" stroke="#1a1a1a" stroke-width="1.0" />
<text x="270.40" y="601.89" font-size="7.3" font-weight="700" text-anchor="end" fill="#111">0.0</text>
<line x1="271.40" y1="578.30" x2="274.40" y2="578.30" stroke="#1a1a1a" stroke-width="1.0" />
<text x="270.40" y="580.89" font-size="7.3" font-weight="700" text-anchor="end" fill="#111">0.5</text>
<line x1="271.40" y1="557.30" x2="274.40" y2="557.30" stroke="#1a1a1a" stroke-width="1.0" />
<text x="270.40" y="559.89" font-size="7.3" font-weight="700" text-anchor="end" fill="#111">1.0</text>
<line x1="271.40" y1="536.30" x2="274.40" y2="536.30" stroke="#1a1a1a" stroke-width="1.0" />
<text x="270.40" y="538.89" font-size="7.3" font-weight="700" text-anchor="end" fill="#111">1.5</text>
<line x1="271.40" y1="515.30" x2="274.40" y2="515.30" stroke="#1a1a1a" stroke-width="1.0" />
<text x="270.40" y="517.89" font-size="7.3" font-weight="700" text-anchor="end" fill="#111">2.0</text>
<line x1="271.40" y1="494.30" x2="274.40" y2="494.30" stroke="#1a1a1a" stroke-width="1.0" />
<text x="270.40" y="496.89" font-size="7.3" font-weight="700" text-anchor="end" fill="#111">2.5</text>
<line x1="271.40" y1="599.30" x2="431.50" y2="599.30" stroke="#1a1a1a" stroke-width="1.1" />
<rect x="286.70" y="557.30" width="24.20" height="42.00" fill="#1a0aff" />
<line x1="298.80" y1="599.30" x2="298.80" y2="602.50" stroke="#1a1a1a" stroke-width="0.9" />
<line x1="298.80" y1="552.00" x2="298.80" y2="557.30" stroke="#9a9a9a" stroke-width="0.7" />
<line x1="292.80" y1="552.00" x2="304.80" y2="552.00" stroke="#b4b4b4" stroke-width="0.8" />
<rect x="322.90" y="536.20" width="24.20" height="63.10" fill="#ff2210" />
<line x1="335.00" y1="599.30" x2="335.00" y2="602.50" stroke="#1a1a1a" stroke-width="0.9" />
<line x1="335.00" y1="530.00" x2="335.00" y2="536.20" stroke="#9a9a9a" stroke-width="0.7" />
<line x1="329.00" y1="530.00" x2="341.00" y2="530.00" stroke="#b4b4b4" stroke-width="0.8" />
<rect x="358.90" y="520.10" width="24.20" height="79.20" fill="#44dd1e" />
<line x1="371.00" y1="599.30" x2="371.00" y2="602.50" stroke="#1a1a1a" stroke-width="0.9" />
<line x1="371.00" y1="512.50" x2="371.00" y2="520.10" stroke="#9a9a9a" stroke-width="0.7" />
<line x1="365.00" y1="512.50" x2="377.00" y2="512.50" stroke="#b4b4b4" stroke-width="0.8" />
<rect x="395.40" y="536.20" width="24.20" height="63.10" fill="#cc22ff" />
<line x1="407.50" y1="599.30" x2="407.50" y2="602.50" stroke="#1a1a1a" stroke-width="0.9" />
<line x1="407.50" y1="531.10" x2="407.50" y2="536.20" stroke="#9a9a9a" stroke-width="0.7" />
<line x1="401.50" y1="531.10" x2="413.50" y2="531.10" stroke="#b4b4b4" stroke-width="0.8" />
<circle cx="298.80" cy="552.00" r="0.95" fill="#000"/>
<circle cx="298.80" cy="557.70" r="0.95" fill="#000"/>
<circle cx="298.80" cy="562.60" r="0.95" fill="#000"/>
<circle cx="334.90" cy="530.00" r="0.95" fill="#000"/>
<circle cx="334.90" cy="537.00" r="0.95" fill="#000"/>
<circle cx="334.90" cy="542.00" r="0.95" fill="#000"/>
<circle cx="371.00" cy="511.60" r="0.95" fill="#000"/>
<circle cx="371.00" cy="523.00" r="0.95" fill="#000"/>
<circle cx="371.00" cy="525.20" r="0.95" fill="#000"/>
<circle cx="407.50" cy="532.00" r="0.95" fill="#000"/>
<circle cx="407.50" cy="534.70" r="0.95" fill="#000"/>
<circle cx="407.50" cy="541.60" r="0.95" fill="#000"/>
<polyline points="298.20,527.40 298.20,523.80 334.80,523.80 334.80,527.40" fill="none" stroke="#444" stroke-width="0.8"/>
<text x="316.20" y="525.10" font-size="5.0" font-weight="700" text-anchor="middle" fill="#222">*</text>
<polyline points="336.2,511.6 336.2,507.2 369.6,507.2 371.0,510.6 372.4,507.2 407.7,507.2 407.7,511.6" fill="none" stroke="#444" stroke-width="0.8"/>
<text x="353.30" y="508.20" font-size="5.0" font-weight="700" text-anchor="middle" fill="#222">**</text>
<text x="389.30" y="508.20" font-size="5.0" font-weight="700" text-anchor="middle" fill="#222">*</text>
<text transform="translate(253.80,546.75) rotate(-90)" font-size="8.6" font-weight="700" text-anchor="middle" fill="#000" textLength="74.1" lengthAdjust="spacingAndGlyphs">Relative lipid ROS</text>
<text transform="translate(301.10,609.70) rotate(-45)" font-size="7.9" font-weight="700" text-anchor="end" fill="#111">DMSO</text>
<text transform="translate(337.30,609.70) rotate(-45)" font-size="7.9" font-weight="700" text-anchor="end" fill="#111">Erastin</text>
<text transform="translate(373.30,609.70) rotate(-45)" font-size="7.9" font-weight="700" text-anchor="end" fill="#111">shSPI1+Erastin</text>
<text transform="translate(409.80,609.70) rotate(-45)" font-size="7.9" font-weight="700" text-anchor="end" fill="#111">shSPI1+Erastin+si-ACSL4</text></svg></body></html>
